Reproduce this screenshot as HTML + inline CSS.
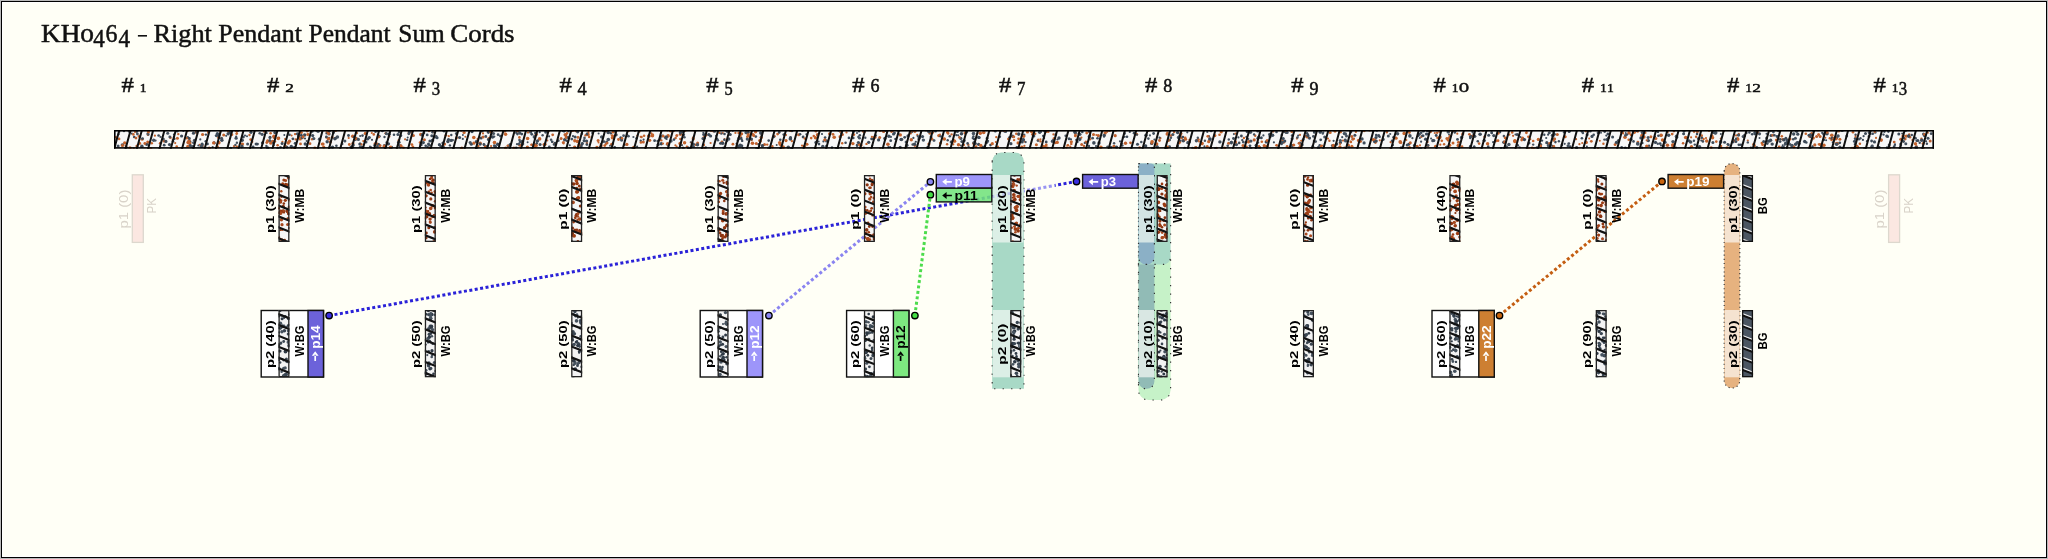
<!DOCTYPE html>
<html><head><meta charset="utf-8"><title>KH0464</title>
<style>html,body{margin:0;padding:0;background:#fffff6;width:2048px;height:559px;overflow:hidden}
svg text{white-space:pre} svg{will-change:transform}</style></head>
<body>
<svg width="2048" height="559" viewBox="0 0 2048 559" style="position:absolute;left:0;top:0">
<rect x="0" y="0" width="2048" height="559" fill="#bababa" shape-rendering="crispEdges"/>
<rect x="1" y="1" width="2046" height="557" fill="#000" shape-rendering="crispEdges"/>
<rect x="2" y="2" width="2044" height="555" fill="#fff" shape-rendering="crispEdges"/>
<rect x="3" y="3" width="2042" height="553" fill="#fffff6" shape-rendering="crispEdges"/>
<text x="41.11" y="42" font-family="Liberation Serif" font-size="25.8" textLength="39.38" lengthAdjust="spacingAndGlyphs" fill="#111" stroke="#111" stroke-width="0.5">KH</text>
<text x="80.26" y="42.2" font-family="Liberation Serif" font-size="27.2" textLength="13.68" lengthAdjust="spacingAndGlyphs" fill="#111" stroke="#111" stroke-width="0.5">o</text>
<text x="93.25" y="46.6" font-family="Liberation Serif" font-size="24.5" textLength="11.51" lengthAdjust="spacingAndGlyphs" fill="#111" stroke="#111" stroke-width="0.5">4</text>
<text x="105.57" y="42.26" font-family="Liberation Serif" font-size="24.7" textLength="11.94" lengthAdjust="spacingAndGlyphs" fill="#111" stroke="#111" stroke-width="0.5">6</text>
<text x="118.45" y="46.6" font-family="Liberation Serif" font-size="24.5" textLength="11.51" lengthAdjust="spacingAndGlyphs" fill="#111" stroke="#111" stroke-width="0.5">4</text>
<rect x="137.9" y="35" width="9.1" height="1.6" fill="#111"/>
<text x="153.44" y="42" font-family="Liberation Serif" font-size="25.8" textLength="58.41" lengthAdjust="spacingAndGlyphs" fill="#111" stroke="#111" stroke-width="0.5">Right</text>
<text x="218.35" y="42" font-family="Liberation Serif" font-size="25.8" textLength="83.50" lengthAdjust="spacingAndGlyphs" fill="#111" stroke="#111" stroke-width="0.5">Pendant</text>
<text x="308.47" y="42" font-family="Liberation Serif" font-size="25.8" textLength="82.08" lengthAdjust="spacingAndGlyphs" fill="#111" stroke="#111" stroke-width="0.5">Pendant</text>
<text x="398.30" y="42" font-family="Liberation Serif" font-size="25.8" textLength="46.49" lengthAdjust="spacingAndGlyphs" fill="#111" stroke="#111" stroke-width="0.5">Sum</text>
<text x="450.30" y="42" font-family="Liberation Serif" font-size="25.8" textLength="64.28" lengthAdjust="spacingAndGlyphs" fill="#111" stroke="#111" stroke-width="0.5">Cords</text>
<text x="121.5" y="91.7" font-family="Liberation Serif" font-size="21" textLength="12.3" lengthAdjust="spacingAndGlyphs" fill="#111" stroke="#111" stroke-width="0.5">#</text><text x="139.8" y="91.7" font-family="Liberation Serif" font-size="13.5" textLength="6.8" lengthAdjust="spacingAndGlyphs" fill="#111" stroke="#111" stroke-width="0.5">1</text>
<text x="267.0" y="91.7" font-family="Liberation Serif" font-size="21" textLength="12.3" lengthAdjust="spacingAndGlyphs" fill="#111" stroke="#111" stroke-width="0.5">#</text><text x="285.2" y="91.7" font-family="Liberation Serif" font-size="13.5" textLength="8.6" lengthAdjust="spacingAndGlyphs" fill="#111" stroke="#111" stroke-width="0.5">2</text>
<text x="413.5" y="91.7" font-family="Liberation Serif" font-size="21" textLength="12.3" lengthAdjust="spacingAndGlyphs" fill="#111" stroke="#111" stroke-width="0.5">#</text><text x="431.7" y="95.2" font-family="Liberation Serif" font-size="18" textLength="8.4" lengthAdjust="spacingAndGlyphs" fill="#111" stroke="#111" stroke-width="0.5">3</text>
<text x="559.4" y="91.7" font-family="Liberation Serif" font-size="21" textLength="12.3" lengthAdjust="spacingAndGlyphs" fill="#111" stroke="#111" stroke-width="0.5">#</text><text x="577.6" y="95.2" font-family="Liberation Serif" font-size="18" textLength="9.2" lengthAdjust="spacingAndGlyphs" fill="#111" stroke="#111" stroke-width="0.5">4</text>
<text x="706.3" y="91.7" font-family="Liberation Serif" font-size="21" textLength="12.3" lengthAdjust="spacingAndGlyphs" fill="#111" stroke="#111" stroke-width="0.5">#</text><text x="724.5" y="95.2" font-family="Liberation Serif" font-size="18" textLength="8.2" lengthAdjust="spacingAndGlyphs" fill="#111" stroke="#111" stroke-width="0.5">5</text>
<text x="852.3" y="91.7" font-family="Liberation Serif" font-size="21" textLength="12.3" lengthAdjust="spacingAndGlyphs" fill="#111" stroke="#111" stroke-width="0.5">#</text><text x="870.5" y="91.7" font-family="Liberation Serif" font-size="19" textLength="9.0" lengthAdjust="spacingAndGlyphs" fill="#111" stroke="#111" stroke-width="0.5">6</text>
<text x="998.9" y="91.7" font-family="Liberation Serif" font-size="21" textLength="12.3" lengthAdjust="spacingAndGlyphs" fill="#111" stroke="#111" stroke-width="0.5">#</text><text x="1017.1" y="95.2" font-family="Liberation Serif" font-size="18" textLength="8.4" lengthAdjust="spacingAndGlyphs" fill="#111" stroke="#111" stroke-width="0.5">7</text>
<text x="1145.0" y="91.7" font-family="Liberation Serif" font-size="21" textLength="12.3" lengthAdjust="spacingAndGlyphs" fill="#111" stroke="#111" stroke-width="0.5">#</text><text x="1163.2" y="91.7" font-family="Liberation Serif" font-size="19" textLength="9.0" lengthAdjust="spacingAndGlyphs" fill="#111" stroke="#111" stroke-width="0.5">8</text>
<text x="1291.3" y="91.7" font-family="Liberation Serif" font-size="21" textLength="12.3" lengthAdjust="spacingAndGlyphs" fill="#111" stroke="#111" stroke-width="0.5">#</text><text x="1309.5" y="95.2" font-family="Liberation Serif" font-size="18" textLength="9.0" lengthAdjust="spacingAndGlyphs" fill="#111" stroke="#111" stroke-width="0.5">9</text>
<text x="1433.6" y="91.7" font-family="Liberation Serif" font-size="21" textLength="12.3" lengthAdjust="spacingAndGlyphs" fill="#111" stroke="#111" stroke-width="0.5">#</text><text x="1451.8" y="91.7" font-family="Liberation Serif" font-size="13.5" textLength="6.8" lengthAdjust="spacingAndGlyphs" fill="#111" stroke="#111" stroke-width="0.5">1</text><text x="1458.7" y="91.7" font-family="Liberation Serif" font-size="19.5" textLength="10.4" lengthAdjust="spacingAndGlyphs" fill="#111" stroke="#111" stroke-width="0.5">o</text>
<text x="1581.7" y="91.7" font-family="Liberation Serif" font-size="21" textLength="12.3" lengthAdjust="spacingAndGlyphs" fill="#111" stroke="#111" stroke-width="0.5">#</text><text x="1599.9" y="91.7" font-family="Liberation Serif" font-size="13.5" textLength="6.8" lengthAdjust="spacingAndGlyphs" fill="#111" stroke="#111" stroke-width="0.5">1</text><text x="1606.9" y="91.7" font-family="Liberation Serif" font-size="13.5" textLength="6.8" lengthAdjust="spacingAndGlyphs" fill="#111" stroke="#111" stroke-width="0.5">1</text>
<text x="1727.1" y="91.7" font-family="Liberation Serif" font-size="21" textLength="12.3" lengthAdjust="spacingAndGlyphs" fill="#111" stroke="#111" stroke-width="0.5">#</text><text x="1745.3" y="91.7" font-family="Liberation Serif" font-size="13.5" textLength="6.8" lengthAdjust="spacingAndGlyphs" fill="#111" stroke="#111" stroke-width="0.5">1</text><text x="1752.3" y="91.7" font-family="Liberation Serif" font-size="13.5" textLength="8.6" lengthAdjust="spacingAndGlyphs" fill="#111" stroke="#111" stroke-width="0.5">2</text>
<text x="1873.6" y="91.7" font-family="Liberation Serif" font-size="21" textLength="12.3" lengthAdjust="spacingAndGlyphs" fill="#111" stroke="#111" stroke-width="0.5">#</text><text x="1891.8" y="91.7" font-family="Liberation Serif" font-size="13.5" textLength="6.8" lengthAdjust="spacingAndGlyphs" fill="#111" stroke="#111" stroke-width="0.5">1</text><text x="1898.8" y="95.2" font-family="Liberation Serif" font-size="18" textLength="8.4" lengthAdjust="spacingAndGlyphs" fill="#111" stroke="#111" stroke-width="0.5">3</text>
<line x1="329.1" y1="315.6" x2="991.0" y2="196.8" stroke="#2a22d8" stroke-width="3" stroke-dasharray="3 2.48" stroke-dashoffset="0.00" opacity="1"/>
<line x1="991.0" y1="196.8" x2="1055.0" y2="185.4" stroke="#9a96f2" stroke-width="3" stroke-dasharray="3 2.48" stroke-dashoffset="-672.47" opacity="1"/>
<line x1="1055.0" y1="185.4" x2="1076.5" y2="181.5" stroke="#2a22d8" stroke-width="3" stroke-dasharray="3 2.48" stroke-dashoffset="-737.49" opacity="1"/>
<line x1="768.9" y1="315.6" x2="930.4" y2="181.8" stroke="#8a84f0" stroke-width="3" stroke-dasharray="3 2.48" stroke-dashoffset="-0.00" opacity="1"/>
<line x1="914.9" y1="315.6" x2="930.4" y2="194.7" stroke="#4cdc4c" stroke-width="3" stroke-dasharray="3 2.48" stroke-dashoffset="-0.00" opacity="1"/>
<line x1="1499.5" y1="315.6" x2="1662.0" y2="181.4" stroke="#c45e12" stroke-width="3" stroke-dasharray="3 2.48" stroke-dashoffset="-0.00" opacity="1"/>
<path d="M992.2 161.5A9 9 0 0 1 1001.2 152.5H1014.9A9 9 0 0 1 1023.9 161.5V388.7A0.01 0.01 0 0 1 1023.9 388.7H992.2A0.01 0.01 0 0 1 992.2 388.7Z" fill="#a8d9c6" opacity="1" stroke="#333" stroke-width="1.15" stroke-dasharray="1.3 7.2"/>
<rect x="992.7" y="175.0" width="30.7" height="67.5" fill="#dcefe6"/>
<rect x="992.7" y="310.0" width="30.7" height="67.3" fill="#dcefe6"/>
<path d="M1138.5 258.0A8 8 0 0 1 1146.5 250.0H1162.6A8 8 0 0 1 1170.6 258.0V390.0A10 10 0 0 1 1160.6 400.0H1148.5A10 10 0 0 1 1138.5 390.0Z" fill="#c6f2c8" opacity="1" stroke="#333" stroke-width="1.15" stroke-dasharray="1.3 7.2"/>
<path d="M1138.5 257.0A7 7 0 0 1 1145.5 250.0H1147.4A7 7 0 0 1 1154.4 257.0V381.2A7.5 7.5 0 0 1 1146.9 388.7H1146.0A7.5 7.5 0 0 1 1138.5 381.2Z" fill="#91bbb6" opacity="1" stroke="#333" stroke-width="1.15" stroke-dasharray="1.3 7.2"/>
<path d="M1138.5 163.6A0.01 0.01 0 0 1 1138.5 163.6H1170.6A0.01 0.01 0 0 1 1170.6 163.6V256.9A7.5 7.5 0 0 1 1163.1 264.4H1138.5A0.01 0.01 0 0 1 1138.5 264.4Z" fill="#a8d9c6" opacity="1" stroke="#333" stroke-width="1.15" stroke-dasharray="1.3 7.2"/>
<path d="M1138.5 163.6A0.01 0.01 0 0 1 1138.5 163.6H1150.4A4 4 0 0 1 1154.4 167.6V256.9A7.5 7.5 0 0 1 1146.9 264.4H1146.0A7.5 7.5 0 0 1 1138.5 256.9Z" fill="#8bb0c6" opacity="1" stroke="#333" stroke-width="1.15" stroke-dasharray="1.3 7.2"/>
<rect x="1139" y="175.0" width="15" height="67.5" fill="#d3e4e4"/>
<rect x="1139" y="310.0" width="15" height="67.3" fill="#d9e7e3"/>
<path d="M1724.2 171.1A7.5 7.5 0 0 1 1731.7 163.6H1732.3A7.5 7.5 0 0 1 1739.8 171.1V380.5A7.5 7.5 0 0 1 1732.3 388.0H1731.7A7.5 7.5 0 0 1 1724.2 380.5Z" fill="#e6b27f" opacity="1" stroke="#333" stroke-width="1.15" stroke-dasharray="1.1 3.1"/>
<rect x="1724.7" y="175.0" width="14.8" height="67.5" fill="#f5e3d0"/>
<rect x="1724.7" y="310.0" width="14.8" height="67.3" fill="#f5e3d0"/>
<line x1="992.0" y1="196.7" x2="1024.0" y2="190.9" stroke="#9a96f2" stroke-width="3" stroke-dasharray="3 2.48" stroke-dashoffset="-673.49" opacity="0.45"/>
<clipPath id="k1"><rect x="114" y="130" width="1820" height="18.7"/></clipPath><g clip-path="url(#k1)"><rect x="114" y="130" width="1820" height="18.7" fill="#f7f7f7"/><circle cx="703.4" cy="132.8" r="1.1" fill="#3d4a58"/><circle cx="1089.3" cy="136.8" r="1.7" fill="#3d4a58"/><circle cx="504.8" cy="131.6" r="1.1" fill="#c0602e"/><circle cx="279.1" cy="137.9" r="1.1" fill="#46525f"/><circle cx="520.3" cy="141.7" r="1.5" fill="#3d4a58"/><circle cx="836.0" cy="148.3" r="1.4" fill="#3d4a58"/><circle cx="356.4" cy="137.8" r="1.1" fill="#46525f"/><circle cx="675.4" cy="145.3" r="1.1" fill="#c4632c"/><circle cx="1153.6" cy="133.5" r="1.4" fill="#3d4a58"/><circle cx="228.3" cy="131.1" r="1.4" fill="#c4632c"/><circle cx="1081.7" cy="144.5" r="1.5" fill="#c0602e"/><circle cx="938.8" cy="135.6" r="1.6" fill="#c4632c"/><circle cx="558.3" cy="140.7" r="1.4" fill="#46525f"/><circle cx="739.1" cy="138.4" r="1.8" fill="#46525f"/><circle cx="328.9" cy="137.8" r="1.1" fill="#3d4a58"/><circle cx="1003.9" cy="130.7" r="1.6" fill="#3d4a58"/><circle cx="1156.9" cy="146.4" r="1.3" fill="#3d4a58"/><circle cx="751.3" cy="139.3" r="1.1" fill="#c0602e"/><circle cx="284.3" cy="135.0" r="1.0" fill="#3d4a58"/><circle cx="1390.7" cy="142.1" r="1.2" fill="#c0602e"/><circle cx="816.1" cy="142.5" r="1.8" fill="#3d4a58"/><circle cx="760.9" cy="141.4" r="1.0" fill="#c0602e"/><circle cx="1512.2" cy="132.4" r="1.3" fill="#c4632c"/><circle cx="1782.6" cy="139.3" r="1.4" fill="#c4632c"/><circle cx="1114.0" cy="146.5" r="1.7" fill="#c0602e"/><circle cx="620.7" cy="137.8" r="1.5" fill="#3d4a58"/><circle cx="806.4" cy="134.3" r="1.1" fill="#3d4a58"/><circle cx="536.2" cy="134.4" r="1.7" fill="#c0602e"/><circle cx="445.9" cy="135.3" r="1.3" fill="#c4632c"/><circle cx="786.0" cy="140.6" r="1.6" fill="#c4632c"/><circle cx="1052.2" cy="141.5" r="1.4" fill="#3d4a58"/><circle cx="1699.2" cy="147.8" r="1.3" fill="#46525f"/><circle cx="840.1" cy="131.9" r="1.0" fill="#c0602e"/><circle cx="236.6" cy="133.9" r="1.1" fill="#c4632c"/><circle cx="1207.3" cy="131.9" r="1.1" fill="#46525f"/><circle cx="298.7" cy="136.8" r="1.1" fill="#3d4a58"/><circle cx="492.5" cy="137.0" r="1.8" fill="#3d4a58"/><circle cx="1210.1" cy="138.9" r="1.7" fill="#3d4a58"/><circle cx="1921.4" cy="138.7" r="1.2" fill="#c0602e"/><circle cx="376.3" cy="144.0" r="1.4" fill="#3d4a58"/><circle cx="1373.5" cy="139.7" r="1.8" fill="#c4632c"/><circle cx="1075.4" cy="132.7" r="1.7" fill="#46525f"/><circle cx="1493.8" cy="135.6" r="1.6" fill="#3d4a58"/><circle cx="589.2" cy="136.9" r="1.3" fill="#c4632c"/><circle cx="519.5" cy="140.1" r="1.3" fill="#46525f"/><circle cx="519.9" cy="145.2" r="1.6" fill="#c4632c"/><circle cx="1603.4" cy="143.8" r="1.2" fill="#c4632c"/><circle cx="1010.9" cy="143.7" r="1.6" fill="#3d4a58"/><circle cx="973.5" cy="133.6" r="1.8" fill="#46525f"/><circle cx="928.0" cy="147.5" r="1.8" fill="#3d4a58"/><circle cx="777.6" cy="134.1" r="1.4" fill="#c4632c"/><circle cx="728.7" cy="139.0" r="1.7" fill="#46525f"/><circle cx="986.6" cy="142.2" r="1.7" fill="#3d4a58"/><circle cx="332.2" cy="137.3" r="1.4" fill="#c4632c"/><circle cx="438.9" cy="144.8" r="1.1" fill="#3d4a58"/><circle cx="1836.0" cy="143.5" r="1.3" fill="#c0602e"/><circle cx="1837.2" cy="143.6" r="1.8" fill="#c4632c"/><circle cx="164.1" cy="141.0" r="1.6" fill="#c0602e"/><circle cx="380.0" cy="145.5" r="1.5" fill="#c0602e"/><circle cx="751.7" cy="140.3" r="1.0" fill="#c4632c"/><circle cx="1568.8" cy="143.6" r="1.4" fill="#3d4a58"/><circle cx="1813.2" cy="138.1" r="1.7" fill="#c4632c"/><circle cx="498.1" cy="134.7" r="1.4" fill="#3d4a58"/><circle cx="1503.9" cy="136.1" r="1.3" fill="#46525f"/><circle cx="352.6" cy="147.0" r="1.7" fill="#3d4a58"/><circle cx="1319.7" cy="145.2" r="1.3" fill="#46525f"/><circle cx="1784.3" cy="139.4" r="1.1" fill="#46525f"/><circle cx="1043.2" cy="146.3" r="1.5" fill="#c4632c"/><circle cx="1526.4" cy="132.8" r="1.4" fill="#c4632c"/><circle cx="1433.9" cy="140.4" r="1.5" fill="#3d4a58"/><circle cx="1079.9" cy="139.0" r="1.7" fill="#3d4a58"/><circle cx="217.4" cy="133.6" r="1.6" fill="#3d4a58"/><circle cx="1038.0" cy="140.5" r="1.4" fill="#3d4a58"/><circle cx="1228.8" cy="139.5" r="1.2" fill="#46525f"/><circle cx="618.5" cy="139.5" r="1.4" fill="#c0602e"/><circle cx="564.7" cy="139.8" r="1.7" fill="#3d4a58"/><circle cx="1738.8" cy="133.8" r="1.1" fill="#c0602e"/><circle cx="335.4" cy="138.3" r="1.5" fill="#3d4a58"/><circle cx="893.6" cy="134.0" r="1.6" fill="#3d4a58"/><circle cx="1746.6" cy="132.9" r="1.1" fill="#3d4a58"/><circle cx="1720.8" cy="148.1" r="1.6" fill="#c4632c"/><circle cx="285.3" cy="146.5" r="1.8" fill="#c4632c"/><circle cx="1629.0" cy="133.0" r="1.8" fill="#c0602e"/><circle cx="848.9" cy="137.9" r="1.3" fill="#3d4a58"/><circle cx="1428.3" cy="130.4" r="1.4" fill="#46525f"/><circle cx="1393.7" cy="137.2" r="1.5" fill="#46525f"/><circle cx="1046.3" cy="131.2" r="1.8" fill="#c4632c"/><circle cx="304.7" cy="135.0" r="1.7" fill="#3d4a58"/><circle cx="444.4" cy="144.1" r="1.7" fill="#c0602e"/><circle cx="1344.3" cy="147.7" r="1.1" fill="#c0602e"/><circle cx="1786.9" cy="140.7" r="1.1" fill="#3d4a58"/><circle cx="218.7" cy="142.9" r="1.7" fill="#c0602e"/><circle cx="603.4" cy="130.3" r="1.6" fill="#3d4a58"/><circle cx="266.4" cy="146.0" r="1.2" fill="#3d4a58"/><circle cx="335.5" cy="130.2" r="1.3" fill="#46525f"/><circle cx="1780.1" cy="141.6" r="1.4" fill="#3d4a58"/><circle cx="548.0" cy="132.0" r="1.2" fill="#c4632c"/><circle cx="443.7" cy="147.4" r="1.4" fill="#3d4a58"/><circle cx="488.7" cy="138.3" r="1.2" fill="#c4632c"/><circle cx="1576.7" cy="148.6" r="1.0" fill="#3d4a58"/><circle cx="1448.2" cy="140.3" r="1.4" fill="#c4632c"/><circle cx="561.1" cy="138.4" r="1.5" fill="#c0602e"/><circle cx="1107.5" cy="146.6" r="1.2" fill="#46525f"/><circle cx="505.6" cy="134.3" r="1.7" fill="#c4632c"/><circle cx="1400.2" cy="141.9" r="1.8" fill="#c0602e"/><circle cx="1901.0" cy="145.7" r="1.1" fill="#3d4a58"/><circle cx="1462.4" cy="134.8" r="1.0" fill="#c4632c"/><circle cx="1324.7" cy="137.1" r="1.5" fill="#46525f"/><circle cx="627.1" cy="134.5" r="1.0" fill="#3d4a58"/><circle cx="451.3" cy="135.0" r="1.2" fill="#3d4a58"/><circle cx="1864.5" cy="148.2" r="1.3" fill="#46525f"/><circle cx="176.7" cy="146.5" r="1.3" fill="#c4632c"/><circle cx="115.9" cy="137.1" r="1.2" fill="#c0602e"/><circle cx="1308.0" cy="134.6" r="1.1" fill="#3d4a58"/><circle cx="1601.0" cy="132.7" r="1.0" fill="#46525f"/><circle cx="154.9" cy="135.7" r="1.1" fill="#c4632c"/><circle cx="1856.9" cy="146.0" r="1.5" fill="#c4632c"/><circle cx="1417.1" cy="146.4" r="1.6" fill="#c0602e"/><circle cx="1425.6" cy="139.2" r="1.6" fill="#3d4a58"/><circle cx="1284.7" cy="130.8" r="1.5" fill="#46525f"/><circle cx="1449.6" cy="145.2" r="1.7" fill="#c4632c"/><circle cx="1484.2" cy="140.6" r="1.7" fill="#3d4a58"/><circle cx="1177.0" cy="146.7" r="1.1" fill="#c4632c"/><circle cx="190.2" cy="141.9" r="1.3" fill="#3d4a58"/><circle cx="935.5" cy="130.9" r="1.5" fill="#3d4a58"/><circle cx="1352.8" cy="139.1" r="1.4" fill="#3d4a58"/><circle cx="241.6" cy="147.4" r="1.1" fill="#46525f"/><circle cx="1071.3" cy="143.9" r="1.2" fill="#c0602e"/><circle cx="249.5" cy="135.0" r="1.2" fill="#c4632c"/><circle cx="1296.9" cy="138.6" r="1.1" fill="#c0602e"/><circle cx="1771.0" cy="135.4" r="1.5" fill="#3d4a58"/><circle cx="1283.8" cy="131.4" r="1.3" fill="#c4632c"/><circle cx="1299.8" cy="143.0" r="1.5" fill="#46525f"/><circle cx="136.7" cy="131.1" r="1.8" fill="#3d4a58"/><circle cx="295.1" cy="134.1" r="1.2" fill="#c0602e"/><circle cx="1054.1" cy="138.7" r="1.6" fill="#c0602e"/><circle cx="1921.8" cy="140.3" r="1.8" fill="#3d4a58"/><circle cx="1818.0" cy="130.3" r="1.1" fill="#c0602e"/><circle cx="1036.0" cy="148.6" r="1.3" fill="#3d4a58"/><circle cx="1782.1" cy="147.4" r="1.5" fill="#3d4a58"/><circle cx="372.0" cy="139.8" r="1.1" fill="#3d4a58"/><circle cx="1606.8" cy="139.5" r="1.6" fill="#3d4a58"/><circle cx="535.1" cy="146.8" r="1.3" fill="#c0602e"/><circle cx="403.5" cy="147.8" r="1.3" fill="#c0602e"/><circle cx="1437.5" cy="137.8" r="1.3" fill="#c0602e"/><circle cx="1643.2" cy="130.0" r="1.7" fill="#3d4a58"/><circle cx="332.5" cy="147.3" r="1.7" fill="#3d4a58"/><circle cx="641.5" cy="137.0" r="1.3" fill="#c0602e"/><circle cx="1697.3" cy="131.4" r="1.6" fill="#c0602e"/><circle cx="1668.7" cy="135.2" r="1.7" fill="#3d4a58"/><circle cx="633.8" cy="147.5" r="1.8" fill="#c4632c"/><circle cx="908.0" cy="135.9" r="1.6" fill="#3d4a58"/><circle cx="892.5" cy="130.5" r="1.7" fill="#c0602e"/><circle cx="1826.1" cy="140.3" r="1.0" fill="#3d4a58"/><circle cx="1446.9" cy="138.4" r="1.5" fill="#c4632c"/><circle cx="634.9" cy="130.9" r="1.1" fill="#46525f"/><circle cx="973.4" cy="136.4" r="1.2" fill="#3d4a58"/><circle cx="1458.5" cy="142.2" r="1.5" fill="#c0602e"/><circle cx="661.5" cy="140.4" r="1.1" fill="#c0602e"/><circle cx="1284.6" cy="131.4" r="1.7" fill="#46525f"/><circle cx="1018.7" cy="134.1" r="1.8" fill="#3d4a58"/><circle cx="932.9" cy="132.6" r="1.2" fill="#c4632c"/><circle cx="431.9" cy="140.4" r="1.2" fill="#3d4a58"/><circle cx="584.2" cy="140.7" r="1.6" fill="#3d4a58"/><circle cx="865.3" cy="137.7" r="1.2" fill="#46525f"/><circle cx="605.8" cy="144.1" r="1.2" fill="#c0602e"/><circle cx="1875.2" cy="132.4" r="1.4" fill="#46525f"/><circle cx="1552.4" cy="145.9" r="1.2" fill="#3d4a58"/><circle cx="566.2" cy="137.5" r="1.3" fill="#c0602e"/><circle cx="681.9" cy="145.2" r="1.1" fill="#3d4a58"/><circle cx="887.9" cy="144.3" r="1.8" fill="#c0602e"/><circle cx="1005.5" cy="131.4" r="1.7" fill="#46525f"/><circle cx="1883.5" cy="134.6" r="1.2" fill="#3d4a58"/><circle cx="390.8" cy="148.2" r="1.8" fill="#3d4a58"/><circle cx="1427.6" cy="142.1" r="1.1" fill="#c0602e"/><circle cx="1527.9" cy="130.0" r="1.2" fill="#c4632c"/><circle cx="1788.3" cy="142.1" r="1.8" fill="#3d4a58"/><circle cx="1254.2" cy="139.9" r="1.6" fill="#c0602e"/><circle cx="318.1" cy="131.3" r="1.8" fill="#46525f"/><circle cx="462.9" cy="134.9" r="1.0" fill="#46525f"/><circle cx="1092.2" cy="148.6" r="1.8" fill="#3d4a58"/><circle cx="1287.1" cy="146.5" r="1.4" fill="#c0602e"/><circle cx="1109.5" cy="130.5" r="1.6" fill="#c0602e"/><circle cx="673.5" cy="130.4" r="1.7" fill="#c0602e"/><circle cx="1291.8" cy="131.5" r="1.5" fill="#c4632c"/><circle cx="1797.8" cy="134.2" r="1.6" fill="#3d4a58"/><circle cx="1421.4" cy="136.8" r="1.2" fill="#c0602e"/><circle cx="1564.7" cy="143.8" r="1.1" fill="#46525f"/><circle cx="1016.2" cy="133.7" r="1.2" fill="#c4632c"/><circle cx="517.0" cy="144.2" r="1.1" fill="#3d4a58"/><circle cx="1248.9" cy="141.4" r="1.4" fill="#c4632c"/><circle cx="1770.9" cy="131.1" r="1.1" fill="#46525f"/><circle cx="830.1" cy="134.0" r="1.1" fill="#46525f"/><circle cx="208.3" cy="131.1" r="1.4" fill="#c0602e"/><circle cx="1409.9" cy="135.9" r="1.8" fill="#3d4a58"/><circle cx="1809.5" cy="136.2" r="1.5" fill="#c4632c"/><circle cx="1069.1" cy="138.7" r="1.5" fill="#3d4a58"/><circle cx="803.1" cy="137.0" r="1.4" fill="#3d4a58"/><circle cx="312.3" cy="131.5" r="1.3" fill="#3d4a58"/><circle cx="1853.0" cy="132.3" r="1.3" fill="#c4632c"/><circle cx="1513.1" cy="135.8" r="1.1" fill="#c0602e"/><circle cx="1397.6" cy="133.7" r="1.7" fill="#46525f"/><circle cx="465.3" cy="136.8" r="1.0" fill="#c0602e"/><circle cx="861.7" cy="145.2" r="1.0" fill="#c0602e"/><circle cx="177.4" cy="131.2" r="1.2" fill="#3d4a58"/><circle cx="1474.1" cy="146.8" r="1.3" fill="#3d4a58"/><circle cx="723.6" cy="147.8" r="1.2" fill="#3d4a58"/><circle cx="1418.3" cy="135.9" r="1.2" fill="#3d4a58"/><circle cx="1427.3" cy="141.1" r="1.0" fill="#3d4a58"/><circle cx="539.6" cy="138.9" r="1.8" fill="#c0602e"/><circle cx="817.5" cy="134.7" r="1.7" fill="#c0602e"/><circle cx="355.5" cy="139.3" r="1.6" fill="#3d4a58"/><circle cx="1458.0" cy="145.4" r="1.5" fill="#c4632c"/><circle cx="710.6" cy="136.0" r="1.6" fill="#3d4a58"/><circle cx="1198.2" cy="139.6" r="1.6" fill="#c0602e"/><circle cx="564.1" cy="131.2" r="1.4" fill="#3d4a58"/><circle cx="1105.2" cy="133.0" r="1.7" fill="#c0602e"/><circle cx="1911.8" cy="135.0" r="1.2" fill="#3d4a58"/><circle cx="880.3" cy="148.5" r="1.1" fill="#c0602e"/><circle cx="355.9" cy="138.6" r="1.6" fill="#c4632c"/><circle cx="1655.5" cy="142.4" r="1.6" fill="#3d4a58"/><circle cx="648.9" cy="135.2" r="1.3" fill="#3d4a58"/><circle cx="1457.3" cy="133.7" r="1.1" fill="#c4632c"/><circle cx="542.6" cy="135.3" r="1.2" fill="#46525f"/><circle cx="231.9" cy="134.7" r="1.4" fill="#c4632c"/><circle cx="535.1" cy="145.1" r="1.8" fill="#c0602e"/><circle cx="300.2" cy="138.9" r="1.7" fill="#c4632c"/><circle cx="1778.2" cy="130.8" r="1.2" fill="#3d4a58"/><circle cx="205.7" cy="141.2" r="1.2" fill="#46525f"/><circle cx="250.7" cy="139.6" r="1.4" fill="#c4632c"/><circle cx="587.1" cy="144.5" r="1.1" fill="#3d4a58"/><circle cx="1199.0" cy="141.6" r="1.0" fill="#c4632c"/><circle cx="732.8" cy="130.8" r="1.0" fill="#3d4a58"/><circle cx="1446.7" cy="147.1" r="1.7" fill="#3d4a58"/><circle cx="858.4" cy="137.0" r="1.2" fill="#46525f"/><circle cx="484.2" cy="144.9" r="1.4" fill="#46525f"/><circle cx="856.9" cy="144.9" r="1.1" fill="#46525f"/><circle cx="1085.9" cy="142.2" r="1.6" fill="#c0602e"/><circle cx="859.8" cy="135.3" r="1.3" fill="#3d4a58"/><circle cx="207.5" cy="143.9" r="1.3" fill="#3d4a58"/><circle cx="147.1" cy="144.3" r="1.5" fill="#3d4a58"/><circle cx="825.1" cy="137.6" r="1.3" fill="#3d4a58"/><circle cx="399.0" cy="132.1" r="1.3" fill="#3d4a58"/><circle cx="1720.8" cy="138.6" r="1.1" fill="#c4632c"/><circle cx="208.1" cy="132.7" r="1.1" fill="#c0602e"/><circle cx="1246.4" cy="136.9" r="1.1" fill="#46525f"/><circle cx="747.3" cy="133.0" r="1.7" fill="#c4632c"/><circle cx="312.0" cy="139.2" r="1.2" fill="#c4632c"/><circle cx="1637.9" cy="130.8" r="1.3" fill="#c0602e"/><circle cx="1219.9" cy="141.9" r="1.7" fill="#3d4a58"/><circle cx="1243.0" cy="145.4" r="1.5" fill="#c4632c"/><circle cx="1673.0" cy="141.6" r="1.7" fill="#46525f"/><circle cx="1623.1" cy="133.4" r="1.0" fill="#c4632c"/><circle cx="1822.2" cy="132.9" r="1.1" fill="#3d4a58"/><circle cx="563.6" cy="143.6" r="1.0" fill="#c4632c"/><circle cx="1137.5" cy="144.2" r="1.5" fill="#3d4a58"/><circle cx="704.0" cy="137.3" r="1.4" fill="#c0602e"/><circle cx="1255.2" cy="135.7" r="1.2" fill="#c0602e"/><circle cx="567.7" cy="137.3" r="1.4" fill="#3d4a58"/><circle cx="911.8" cy="130.4" r="1.8" fill="#46525f"/><circle cx="960.8" cy="138.4" r="1.6" fill="#46525f"/><circle cx="948.1" cy="133.4" r="1.3" fill="#c0602e"/><circle cx="236.2" cy="136.7" r="1.1" fill="#3d4a58"/><circle cx="918.4" cy="139.5" r="1.0" fill="#3d4a58"/><circle cx="351.1" cy="147.2" r="1.6" fill="#3d4a58"/><circle cx="1044.9" cy="131.0" r="1.7" fill="#46525f"/><circle cx="1302.0" cy="144.7" r="1.7" fill="#3d4a58"/><circle cx="1926.9" cy="143.7" r="1.2" fill="#3d4a58"/><circle cx="1900.7" cy="139.2" r="1.5" fill="#c4632c"/><circle cx="1426.4" cy="134.1" r="1.5" fill="#3d4a58"/><circle cx="573.0" cy="136.1" r="1.2" fill="#46525f"/><circle cx="1598.4" cy="132.7" r="1.8" fill="#46525f"/><circle cx="987.8" cy="141.1" r="1.4" fill="#46525f"/><circle cx="694.7" cy="130.7" r="1.3" fill="#c4632c"/><circle cx="1272.6" cy="135.2" r="1.7" fill="#3d4a58"/><circle cx="421.1" cy="144.7" r="1.6" fill="#3d4a58"/><circle cx="202.4" cy="146.1" r="1.4" fill="#c0602e"/><circle cx="1169.7" cy="146.5" r="1.2" fill="#3d4a58"/><circle cx="1089.0" cy="146.0" r="1.2" fill="#3d4a58"/><circle cx="1916.7" cy="140.8" r="1.3" fill="#3d4a58"/><circle cx="262.1" cy="134.3" r="1.6" fill="#46525f"/><circle cx="201.9" cy="145.3" r="1.2" fill="#3d4a58"/><circle cx="1872.0" cy="146.3" r="1.6" fill="#3d4a58"/><circle cx="1473.8" cy="134.1" r="1.5" fill="#3d4a58"/><circle cx="900.7" cy="139.6" r="1.1" fill="#3d4a58"/><circle cx="527.6" cy="142.2" r="1.0" fill="#3d4a58"/><circle cx="1146.2" cy="135.7" r="1.3" fill="#46525f"/><circle cx="522.2" cy="140.9" r="1.1" fill="#46525f"/><circle cx="780.5" cy="145.5" r="1.1" fill="#c4632c"/><circle cx="1818.6" cy="134.6" r="1.4" fill="#c4632c"/><circle cx="229.9" cy="132.7" r="1.3" fill="#3d4a58"/><circle cx="594.9" cy="130.2" r="1.7" fill="#46525f"/><circle cx="1196.4" cy="140.8" r="1.7" fill="#46525f"/><circle cx="1449.0" cy="134.6" r="1.0" fill="#3d4a58"/><circle cx="1081.4" cy="137.6" r="1.1" fill="#c4632c"/><circle cx="1773.4" cy="132.0" r="1.4" fill="#46525f"/><circle cx="1826.5" cy="132.7" r="1.4" fill="#c4632c"/><circle cx="1283.7" cy="142.1" r="1.7" fill="#c0602e"/><circle cx="431.8" cy="135.8" r="1.5" fill="#3d4a58"/><circle cx="1923.2" cy="143.5" r="1.6" fill="#c0602e"/><circle cx="125.6" cy="145.8" r="1.1" fill="#c0602e"/><circle cx="1307.1" cy="133.3" r="1.2" fill="#3d4a58"/><circle cx="1286.1" cy="132.3" r="1.6" fill="#3d4a58"/><circle cx="598.1" cy="140.4" r="1.5" fill="#c0602e"/><circle cx="1783.4" cy="148.2" r="1.5" fill="#3d4a58"/><circle cx="1870.6" cy="134.1" r="1.0" fill="#46525f"/><circle cx="587.9" cy="134.4" r="1.8" fill="#c4632c"/><circle cx="1472.0" cy="136.1" r="1.3" fill="#c0602e"/><circle cx="549.3" cy="147.0" r="1.4" fill="#46525f"/><circle cx="1642.3" cy="143.0" r="1.3" fill="#3d4a58"/><circle cx="1432.8" cy="140.7" r="1.6" fill="#3d4a58"/><circle cx="826.6" cy="140.9" r="1.7" fill="#46525f"/><circle cx="377.2" cy="130.5" r="1.5" fill="#3d4a58"/><circle cx="408.5" cy="148.3" r="1.0" fill="#3d4a58"/><circle cx="365.9" cy="142.0" r="1.6" fill="#3d4a58"/><circle cx="1454.9" cy="131.2" r="1.6" fill="#46525f"/><circle cx="476.7" cy="147.9" r="1.7" fill="#46525f"/><circle cx="234.0" cy="146.2" r="1.1" fill="#c0602e"/><circle cx="488.4" cy="132.1" r="1.8" fill="#3d4a58"/><circle cx="1772.2" cy="144.1" r="1.7" fill="#3d4a58"/><circle cx="1263.4" cy="135.4" r="1.1" fill="#3d4a58"/><circle cx="1555.4" cy="142.1" r="1.3" fill="#3d4a58"/><circle cx="885.3" cy="130.4" r="1.7" fill="#3d4a58"/><circle cx="202.1" cy="144.2" r="1.6" fill="#3d4a58"/><circle cx="1209.7" cy="138.9" r="1.5" fill="#3d4a58"/><circle cx="170.4" cy="137.7" r="1.4" fill="#c0602e"/><circle cx="292.9" cy="138.8" r="1.4" fill="#3d4a58"/><circle cx="508.2" cy="146.1" r="1.5" fill="#3d4a58"/><circle cx="636.5" cy="138.2" r="1.2" fill="#46525f"/><circle cx="1501.2" cy="148.3" r="1.3" fill="#3d4a58"/><circle cx="288.2" cy="143.0" r="1.8" fill="#c4632c"/><circle cx="1192.4" cy="147.9" r="1.2" fill="#46525f"/><circle cx="1831.8" cy="135.3" r="1.8" fill="#c4632c"/><circle cx="535.4" cy="133.1" r="1.4" fill="#3d4a58"/><circle cx="1917.8" cy="140.5" r="1.5" fill="#3d4a58"/><circle cx="761.2" cy="137.5" r="1.7" fill="#c0602e"/><circle cx="1470.3" cy="137.9" r="1.3" fill="#3d4a58"/><circle cx="665.7" cy="138.0" r="1.4" fill="#46525f"/><circle cx="804.3" cy="146.5" r="1.8" fill="#c4632c"/><circle cx="344.9" cy="141.1" r="1.5" fill="#46525f"/><circle cx="748.2" cy="136.1" r="1.7" fill="#c4632c"/><circle cx="933.6" cy="140.4" r="1.1" fill="#3d4a58"/><circle cx="912.6" cy="144.5" r="1.2" fill="#46525f"/><circle cx="722.0" cy="142.0" r="1.4" fill="#c4632c"/><circle cx="600.8" cy="144.1" r="1.1" fill="#46525f"/><circle cx="397.9" cy="134.6" r="1.5" fill="#3d4a58"/><circle cx="748.5" cy="134.4" r="1.2" fill="#c4632c"/><circle cx="1852.0" cy="148.6" r="1.8" fill="#c4632c"/><circle cx="299.0" cy="137.2" r="1.6" fill="#c4632c"/><circle cx="1448.6" cy="138.1" r="1.1" fill="#c4632c"/><circle cx="1772.8" cy="135.3" r="1.4" fill="#c0602e"/><circle cx="137.0" cy="146.0" r="1.6" fill="#c0602e"/><circle cx="1024.9" cy="141.8" r="1.0" fill="#c0602e"/><circle cx="582.1" cy="143.8" r="1.6" fill="#3d4a58"/><circle cx="1766.6" cy="138.0" r="1.5" fill="#46525f"/><circle cx="1291.9" cy="145.8" r="1.7" fill="#46525f"/><circle cx="1350.9" cy="142.0" r="1.3" fill="#c0602e"/><circle cx="586.9" cy="143.1" r="1.2" fill="#c0602e"/><circle cx="842.2" cy="143.3" r="1.2" fill="#c4632c"/><circle cx="884.9" cy="138.5" r="1.7" fill="#46525f"/><circle cx="1057.2" cy="142.4" r="1.7" fill="#c4632c"/><circle cx="711.1" cy="130.2" r="1.7" fill="#c0602e"/><circle cx="307.6" cy="134.7" r="1.1" fill="#c4632c"/><circle cx="1536.9" cy="147.6" r="1.3" fill="#46525f"/><circle cx="1655.8" cy="138.5" r="1.6" fill="#c4632c"/><circle cx="1046.2" cy="142.0" r="1.4" fill="#3d4a58"/><circle cx="860.8" cy="147.7" r="1.8" fill="#c4632c"/><circle cx="448.5" cy="139.6" r="1.6" fill="#3d4a58"/><circle cx="1231.5" cy="141.9" r="1.2" fill="#3d4a58"/><circle cx="841.4" cy="130.2" r="1.7" fill="#c0602e"/><circle cx="1258.0" cy="142.6" r="1.2" fill="#46525f"/><circle cx="522.5" cy="143.9" r="1.8" fill="#46525f"/><circle cx="1923.5" cy="148.0" r="1.2" fill="#c0602e"/><circle cx="349.3" cy="144.5" r="1.4" fill="#c4632c"/><circle cx="1136.9" cy="134.2" r="1.3" fill="#c4632c"/><circle cx="1276.6" cy="145.3" r="1.4" fill="#c0602e"/><circle cx="649.7" cy="140.3" r="1.6" fill="#c4632c"/><circle cx="968.3" cy="144.7" r="1.2" fill="#c4632c"/><circle cx="798.6" cy="134.7" r="1.5" fill="#c0602e"/><circle cx="990.5" cy="145.1" r="1.3" fill="#3d4a58"/><circle cx="1305.0" cy="136.0" r="1.3" fill="#c0602e"/><circle cx="1273.9" cy="142.3" r="1.1" fill="#3d4a58"/><circle cx="665.8" cy="137.2" r="1.7" fill="#3d4a58"/><circle cx="1762.6" cy="144.7" r="1.4" fill="#c4632c"/><circle cx="742.2" cy="140.9" r="1.2" fill="#3d4a58"/><circle cx="245.0" cy="135.5" r="1.1" fill="#46525f"/><circle cx="373.8" cy="134.4" r="1.3" fill="#c0602e"/><circle cx="391.9" cy="146.9" r="1.1" fill="#46525f"/><circle cx="1735.9" cy="141.4" r="1.5" fill="#3d4a58"/><circle cx="1740.9" cy="144.7" r="1.2" fill="#3d4a58"/><circle cx="1374.9" cy="139.9" r="1.5" fill="#c0602e"/><circle cx="326.9" cy="132.2" r="1.2" fill="#c0602e"/><circle cx="367.6" cy="139.2" r="1.4" fill="#3d4a58"/><circle cx="1761.9" cy="143.1" r="1.4" fill="#c4632c"/><circle cx="1096.0" cy="146.1" r="1.1" fill="#3d4a58"/><circle cx="697.6" cy="143.0" r="1.5" fill="#c0602e"/><circle cx="1643.8" cy="137.0" r="1.8" fill="#c0602e"/><circle cx="1344.2" cy="133.4" r="1.5" fill="#3d4a58"/><circle cx="165.9" cy="141.4" r="1.6" fill="#3d4a58"/><circle cx="285.0" cy="139.1" r="1.0" fill="#c4632c"/><circle cx="1421.1" cy="141.7" r="1.1" fill="#3d4a58"/><circle cx="1313.4" cy="136.4" r="1.4" fill="#46525f"/><circle cx="1774.4" cy="135.3" r="1.3" fill="#3d4a58"/><circle cx="1122.3" cy="145.5" r="1.3" fill="#3d4a58"/><circle cx="1012.6" cy="136.2" r="1.7" fill="#3d4a58"/><circle cx="741.6" cy="133.8" r="1.6" fill="#c0602e"/><circle cx="716.2" cy="135.9" r="1.1" fill="#3d4a58"/><circle cx="1884.4" cy="131.6" r="1.3" fill="#3d4a58"/><circle cx="1122.8" cy="137.6" r="1.0" fill="#46525f"/><circle cx="660.7" cy="130.1" r="1.7" fill="#c4632c"/><circle cx="978.6" cy="144.3" r="1.6" fill="#3d4a58"/><circle cx="1769.9" cy="141.4" r="1.1" fill="#46525f"/><circle cx="1340.1" cy="142.9" r="1.2" fill="#3d4a58"/><circle cx="1327.9" cy="138.6" r="1.1" fill="#c4632c"/><circle cx="444.0" cy="130.7" r="1.7" fill="#3d4a58"/><circle cx="1307.4" cy="136.9" r="1.6" fill="#c4632c"/><circle cx="1137.0" cy="134.8" r="1.1" fill="#3d4a58"/><circle cx="176.3" cy="130.4" r="1.5" fill="#46525f"/><circle cx="1813.6" cy="131.0" r="1.4" fill="#46525f"/><circle cx="1615.1" cy="144.5" r="1.5" fill="#c0602e"/><circle cx="1785.9" cy="138.3" r="1.5" fill="#3d4a58"/><circle cx="1194.8" cy="148.6" r="1.4" fill="#c4632c"/><circle cx="864.6" cy="131.9" r="1.2" fill="#c0602e"/><circle cx="390.2" cy="130.3" r="1.0" fill="#3d4a58"/><circle cx="1332.2" cy="148.5" r="1.2" fill="#3d4a58"/><circle cx="334.9" cy="138.8" r="1.6" fill="#3d4a58"/><circle cx="554.9" cy="143.7" r="1.7" fill="#c4632c"/><circle cx="779.9" cy="144.0" r="1.6" fill="#c4632c"/><circle cx="267.4" cy="141.8" r="1.4" fill="#c0602e"/><circle cx="1810.9" cy="134.8" r="1.6" fill="#3d4a58"/><circle cx="134.7" cy="130.3" r="1.1" fill="#46525f"/><circle cx="680.1" cy="143.6" r="1.8" fill="#c4632c"/><circle cx="1633.5" cy="141.4" r="1.3" fill="#3d4a58"/><circle cx="1160.4" cy="138.2" r="1.1" fill="#c4632c"/><circle cx="1565.2" cy="136.8" r="1.5" fill="#c4632c"/><circle cx="874.7" cy="137.2" r="1.8" fill="#c0602e"/><circle cx="1542.0" cy="140.6" r="1.2" fill="#3d4a58"/><circle cx="1245.8" cy="142.2" r="1.3" fill="#46525f"/><circle cx="1216.6" cy="148.3" r="1.5" fill="#c4632c"/><circle cx="675.6" cy="138.0" r="1.3" fill="#c4632c"/><circle cx="1360.4" cy="141.3" r="1.6" fill="#c4632c"/><circle cx="629.6" cy="130.0" r="1.2" fill="#3d4a58"/><circle cx="400.3" cy="147.2" r="1.2" fill="#3d4a58"/><circle cx="370.0" cy="146.7" r="1.1" fill="#46525f"/><circle cx="1889.2" cy="144.9" r="1.5" fill="#46525f"/><circle cx="1777.0" cy="136.5" r="1.4" fill="#3d4a58"/><circle cx="996.3" cy="137.1" r="1.2" fill="#c4632c"/><circle cx="218.8" cy="137.4" r="1.7" fill="#c4632c"/><circle cx="1181.2" cy="130.2" r="1.4" fill="#c0602e"/><circle cx="273.6" cy="145.1" r="1.2" fill="#3d4a58"/><circle cx="1168.9" cy="146.8" r="1.3" fill="#46525f"/><circle cx="1035.2" cy="133.8" r="1.2" fill="#c4632c"/><circle cx="442.9" cy="143.1" r="1.5" fill="#3d4a58"/><circle cx="767.2" cy="144.6" r="1.2" fill="#c4632c"/><circle cx="1793.2" cy="139.2" r="1.3" fill="#3d4a58"/><circle cx="957.4" cy="131.5" r="1.5" fill="#3d4a58"/><circle cx="741.8" cy="139.7" r="1.1" fill="#3d4a58"/><circle cx="486.5" cy="146.3" r="1.4" fill="#46525f"/><circle cx="1146.3" cy="134.9" r="1.3" fill="#3d4a58"/><circle cx="1836.6" cy="144.3" r="1.8" fill="#46525f"/><circle cx="576.3" cy="130.7" r="1.8" fill="#c4632c"/><circle cx="802.3" cy="130.5" r="1.4" fill="#3d4a58"/><circle cx="1698.6" cy="138.6" r="1.7" fill="#3d4a58"/><circle cx="1278.5" cy="147.2" r="1.2" fill="#3d4a58"/><circle cx="1141.3" cy="142.0" r="1.3" fill="#46525f"/><circle cx="930.0" cy="133.0" r="1.8" fill="#c4632c"/><circle cx="517.5" cy="130.7" r="1.8" fill="#3d4a58"/><circle cx="221.9" cy="140.3" r="1.7" fill="#3d4a58"/><circle cx="199.6" cy="144.7" r="1.0" fill="#c0602e"/><circle cx="377.5" cy="144.1" r="1.5" fill="#c4632c"/><circle cx="657.8" cy="141.1" r="1.4" fill="#3d4a58"/><circle cx="790.5" cy="137.3" r="1.4" fill="#3d4a58"/><circle cx="420.8" cy="134.5" r="1.7" fill="#c4632c"/><circle cx="1737.7" cy="138.7" r="1.6" fill="#c4632c"/><circle cx="399.7" cy="145.6" r="1.7" fill="#3d4a58"/><circle cx="1691.5" cy="146.6" r="1.6" fill="#c4632c"/><circle cx="1857.5" cy="147.3" r="1.7" fill="#c0602e"/><circle cx="1257.6" cy="138.5" r="1.3" fill="#3d4a58"/><circle cx="539.7" cy="132.2" r="1.1" fill="#3d4a58"/><circle cx="517.4" cy="131.1" r="1.4" fill="#c0602e"/><circle cx="377.4" cy="146.3" r="1.3" fill="#3d4a58"/><circle cx="563.1" cy="130.5" r="1.7" fill="#46525f"/><circle cx="722.8" cy="133.1" r="1.1" fill="#c0602e"/><circle cx="944.3" cy="139.0" r="1.8" fill="#c4632c"/><circle cx="217.5" cy="146.7" r="1.4" fill="#c4632c"/><circle cx="1634.2" cy="132.2" r="1.8" fill="#c4632c"/><circle cx="900.3" cy="134.9" r="1.7" fill="#c4632c"/><circle cx="291.6" cy="135.4" r="1.0" fill="#c4632c"/><circle cx="1436.2" cy="135.5" r="1.4" fill="#3d4a58"/><circle cx="1038.2" cy="139.6" r="1.0" fill="#c0602e"/><circle cx="1628.7" cy="139.8" r="1.3" fill="#c4632c"/><circle cx="187.8" cy="137.6" r="1.5" fill="#3d4a58"/><circle cx="365.3" cy="133.4" r="1.6" fill="#c4632c"/><circle cx="472.0" cy="131.5" r="1.7" fill="#3d4a58"/><circle cx="1444.1" cy="144.2" r="1.2" fill="#c4632c"/><circle cx="1228.6" cy="143.2" r="1.5" fill="#c4632c"/><circle cx="482.2" cy="131.2" r="1.3" fill="#46525f"/><circle cx="1427.4" cy="131.0" r="1.3" fill="#3d4a58"/><circle cx="1646.3" cy="146.2" r="1.1" fill="#c0602e"/><circle cx="859.3" cy="144.3" r="1.7" fill="#c4632c"/><circle cx="598.6" cy="133.5" r="1.0" fill="#3d4a58"/><circle cx="1392.1" cy="140.8" r="1.3" fill="#3d4a58"/><circle cx="1810.5" cy="148.1" r="1.1" fill="#3d4a58"/><circle cx="1414.6" cy="145.3" r="1.6" fill="#3d4a58"/><circle cx="1693.9" cy="140.8" r="1.2" fill="#3d4a58"/><circle cx="310.0" cy="143.7" r="1.4" fill="#c0602e"/><circle cx="1079.5" cy="140.0" r="1.2" fill="#3d4a58"/><circle cx="275.2" cy="141.6" r="1.1" fill="#c4632c"/><circle cx="569.8" cy="145.3" r="1.0" fill="#3d4a58"/><circle cx="1799.9" cy="143.8" r="1.0" fill="#3d4a58"/><circle cx="1204.9" cy="140.8" r="1.2" fill="#46525f"/><circle cx="922.5" cy="136.6" r="1.6" fill="#3d4a58"/><circle cx="196.2" cy="132.3" r="1.5" fill="#c0602e"/><circle cx="1500.0" cy="132.1" r="1.3" fill="#3d4a58"/><circle cx="363.3" cy="141.1" r="1.1" fill="#c4632c"/><circle cx="1156.6" cy="144.0" r="1.8" fill="#c4632c"/><circle cx="147.7" cy="141.9" r="1.5" fill="#c0602e"/><circle cx="1211.1" cy="130.7" r="1.6" fill="#3d4a58"/><circle cx="730.2" cy="134.5" r="1.6" fill="#3d4a58"/><circle cx="1648.3" cy="140.6" r="1.7" fill="#3d4a58"/><circle cx="1656.7" cy="131.0" r="1.1" fill="#46525f"/><circle cx="1351.9" cy="136.6" r="1.5" fill="#c0602e"/><circle cx="135.0" cy="132.0" r="1.1" fill="#c4632c"/><circle cx="902.1" cy="139.4" r="1.2" fill="#3d4a58"/><circle cx="879.7" cy="137.4" r="1.5" fill="#c0602e"/><circle cx="1586.9" cy="146.5" r="1.0" fill="#3d4a58"/><circle cx="1281.7" cy="135.0" r="1.2" fill="#46525f"/><circle cx="1100.9" cy="147.3" r="1.1" fill="#46525f"/><circle cx="335.5" cy="130.3" r="1.8" fill="#c4632c"/><circle cx="637.3" cy="135.7" r="1.1" fill="#c4632c"/><circle cx="1195.6" cy="147.9" r="1.7" fill="#46525f"/><circle cx="267.7" cy="141.0" r="1.4" fill="#c4632c"/><circle cx="1045.2" cy="146.6" r="1.5" fill="#c0602e"/><circle cx="612.9" cy="143.8" r="1.2" fill="#46525f"/><circle cx="940.5" cy="143.0" r="1.5" fill="#c4632c"/><circle cx="480.2" cy="143.3" r="1.7" fill="#c0602e"/><circle cx="666.7" cy="138.9" r="1.0" fill="#3d4a58"/><circle cx="721.3" cy="133.5" r="1.3" fill="#46525f"/><circle cx="1179.9" cy="130.2" r="1.1" fill="#3d4a58"/><circle cx="1846.8" cy="136.1" r="1.4" fill="#3d4a58"/><circle cx="632.4" cy="148.5" r="1.0" fill="#3d4a58"/><circle cx="153.7" cy="140.3" r="1.7" fill="#46525f"/><circle cx="914.8" cy="131.2" r="1.7" fill="#c0602e"/><circle cx="758.5" cy="144.3" r="1.2" fill="#46525f"/><circle cx="1859.9" cy="143.8" r="1.3" fill="#c4632c"/><circle cx="1330.2" cy="132.6" r="1.5" fill="#c4632c"/><circle cx="1661.0" cy="145.4" r="1.1" fill="#46525f"/><circle cx="1672.4" cy="147.2" r="1.2" fill="#c0602e"/><circle cx="1261.8" cy="141.8" r="1.3" fill="#c4632c"/><circle cx="302.1" cy="137.7" r="1.5" fill="#46525f"/><circle cx="1020.1" cy="148.0" r="1.1" fill="#46525f"/><circle cx="1660.9" cy="135.2" r="1.5" fill="#46525f"/><circle cx="804.8" cy="138.5" r="1.2" fill="#c0602e"/><circle cx="755.8" cy="136.6" r="1.4" fill="#46525f"/><circle cx="813.8" cy="136.0" r="1.3" fill="#c0602e"/><circle cx="660.0" cy="140.0" r="1.3" fill="#c4632c"/><circle cx="800.1" cy="134.3" r="1.3" fill="#3d4a58"/><circle cx="1649.0" cy="145.7" r="1.2" fill="#3d4a58"/><circle cx="890.1" cy="147.0" r="1.0" fill="#3d4a58"/><circle cx="580.9" cy="146.8" r="1.7" fill="#3d4a58"/><circle cx="1521.7" cy="140.1" r="1.4" fill="#c0602e"/><circle cx="1055.4" cy="142.8" r="1.4" fill="#c0602e"/><circle cx="188.1" cy="142.6" r="1.8" fill="#c0602e"/><circle cx="1345.2" cy="139.8" r="1.3" fill="#3d4a58"/><circle cx="1025.7" cy="142.1" r="1.1" fill="#46525f"/><circle cx="456.5" cy="137.9" r="1.4" fill="#c0602e"/><circle cx="1250.8" cy="148.6" r="1.6" fill="#3d4a58"/><circle cx="1472.6" cy="131.7" r="1.3" fill="#3d4a58"/><circle cx="1894.7" cy="145.4" r="1.1" fill="#46525f"/><circle cx="1307.8" cy="135.5" r="1.7" fill="#3d4a58"/><circle cx="1916.3" cy="146.6" r="1.5" fill="#c0602e"/><circle cx="1067.8" cy="145.3" r="1.4" fill="#c4632c"/><circle cx="456.4" cy="133.4" r="1.5" fill="#46525f"/><circle cx="756.8" cy="148.6" r="1.6" fill="#3d4a58"/><circle cx="133.5" cy="130.1" r="1.0" fill="#46525f"/><circle cx="668.1" cy="145.7" r="1.0" fill="#46525f"/><circle cx="167.7" cy="133.3" r="1.5" fill="#46525f"/><circle cx="1699.5" cy="146.7" r="1.8" fill="#46525f"/><circle cx="1159.5" cy="137.7" r="1.1" fill="#3d4a58"/><circle cx="1057.5" cy="139.5" r="1.1" fill="#3d4a58"/><circle cx="424.4" cy="139.8" r="1.5" fill="#c0602e"/><circle cx="1582.0" cy="131.2" r="1.5" fill="#3d4a58"/><circle cx="1167.5" cy="132.7" r="1.3" fill="#c4632c"/><circle cx="422.3" cy="135.0" r="1.7" fill="#3d4a58"/><circle cx="1838.8" cy="131.2" r="1.4" fill="#c4632c"/><circle cx="815.9" cy="131.0" r="1.5" fill="#c0602e"/><circle cx="1860.5" cy="138.2" r="1.2" fill="#46525f"/><circle cx="519.7" cy="133.0" r="1.7" fill="#46525f"/><circle cx="686.9" cy="146.8" r="1.2" fill="#c0602e"/><circle cx="1210.6" cy="148.0" r="1.8" fill="#c0602e"/><circle cx="236.9" cy="142.7" r="1.2" fill="#46525f"/><circle cx="676.7" cy="146.4" r="1.0" fill="#c0602e"/><circle cx="1694.1" cy="131.6" r="1.3" fill="#c4632c"/><circle cx="453.5" cy="148.2" r="1.3" fill="#3d4a58"/><circle cx="774.5" cy="136.3" r="1.3" fill="#c0602e"/><circle cx="1299.3" cy="148.0" r="1.7" fill="#c0602e"/><circle cx="753.3" cy="134.6" r="1.4" fill="#c4632c"/><circle cx="741.0" cy="138.1" r="1.5" fill="#3d4a58"/><circle cx="735.4" cy="132.9" r="1.1" fill="#c4632c"/><circle cx="604.8" cy="145.6" r="1.4" fill="#c4632c"/><circle cx="964.0" cy="144.9" r="1.1" fill="#c4632c"/><circle cx="756.3" cy="143.5" r="1.5" fill="#c0602e"/><circle cx="1171.0" cy="135.6" r="1.4" fill="#c0602e"/><circle cx="527.6" cy="138.5" r="1.8" fill="#c4632c"/><circle cx="1930.2" cy="141.1" r="1.5" fill="#c0602e"/><circle cx="783.8" cy="134.6" r="1.4" fill="#46525f"/><circle cx="342.4" cy="144.0" r="1.1" fill="#46525f"/><circle cx="1664.4" cy="143.8" r="1.0" fill="#c0602e"/><circle cx="1421.2" cy="132.7" r="1.3" fill="#3d4a58"/><circle cx="270.6" cy="133.3" r="1.3" fill="#c4632c"/><circle cx="1320.2" cy="132.0" r="1.7" fill="#46525f"/><circle cx="1579.4" cy="144.2" r="1.1" fill="#c4632c"/><circle cx="680.5" cy="134.2" r="1.7" fill="#c4632c"/><circle cx="840.1" cy="136.7" r="1.6" fill="#c0602e"/><circle cx="1720.6" cy="146.1" r="1.7" fill="#c4632c"/><circle cx="435.0" cy="136.9" r="1.7" fill="#3d4a58"/><circle cx="160.0" cy="143.2" r="1.2" fill="#c0602e"/><circle cx="1655.0" cy="136.6" r="1.1" fill="#3d4a58"/><circle cx="323.7" cy="147.1" r="1.6" fill="#c4632c"/><circle cx="187.6" cy="130.7" r="1.3" fill="#c4632c"/><circle cx="1491.7" cy="132.9" r="1.4" fill="#3d4a58"/><circle cx="1259.6" cy="147.6" r="1.7" fill="#46525f"/><circle cx="1151.7" cy="143.4" r="1.7" fill="#3d4a58"/><circle cx="1333.6" cy="140.8" r="1.1" fill="#3d4a58"/><circle cx="1503.9" cy="142.3" r="1.7" fill="#3d4a58"/><circle cx="1178.9" cy="143.0" r="1.5" fill="#c4632c"/><circle cx="181.6" cy="136.0" r="1.6" fill="#3d4a58"/><circle cx="270.8" cy="143.0" r="1.8" fill="#c0602e"/><circle cx="1233.9" cy="134.1" r="1.1" fill="#46525f"/><circle cx="1836.4" cy="137.9" r="1.6" fill="#3d4a58"/><circle cx="1458.3" cy="145.5" r="1.4" fill="#c0602e"/><circle cx="1345.4" cy="133.9" r="1.7" fill="#46525f"/><circle cx="1530.4" cy="139.2" r="1.0" fill="#c4632c"/><circle cx="1393.0" cy="145.1" r="1.1" fill="#3d4a58"/><circle cx="411.9" cy="144.6" r="1.4" fill="#c4632c"/><circle cx="568.4" cy="131.1" r="1.3" fill="#3d4a58"/><circle cx="282.4" cy="141.9" r="1.1" fill="#c4632c"/><circle cx="1400.7" cy="142.5" r="1.6" fill="#c4632c"/><circle cx="124.7" cy="142.9" r="1.7" fill="#c4632c"/><circle cx="753.7" cy="135.6" r="1.5" fill="#c4632c"/><circle cx="552.2" cy="141.8" r="1.4" fill="#3d4a58"/><circle cx="1498.1" cy="133.2" r="1.5" fill="#c4632c"/><circle cx="953.3" cy="144.3" r="1.1" fill="#c4632c"/><circle cx="640.6" cy="136.7" r="1.0" fill="#c4632c"/><circle cx="1744.4" cy="135.7" r="1.6" fill="#3d4a58"/><circle cx="929.4" cy="132.1" r="1.4" fill="#3d4a58"/><circle cx="1149.9" cy="135.4" r="1.1" fill="#46525f"/><circle cx="133.7" cy="148.6" r="1.1" fill="#c0602e"/><circle cx="1419.2" cy="148.3" r="1.2" fill="#46525f"/><circle cx="1288.1" cy="147.9" r="1.2" fill="#c0602e"/><circle cx="1102.4" cy="130.2" r="1.5" fill="#3d4a58"/><circle cx="1256.5" cy="147.5" r="1.5" fill="#3d4a58"/><circle cx="256.2" cy="144.0" r="1.6" fill="#3d4a58"/><circle cx="1642.0" cy="135.5" r="1.8" fill="#c4632c"/><circle cx="1070.3" cy="146.7" r="1.1" fill="#c4632c"/><circle cx="1422.3" cy="135.8" r="1.3" fill="#46525f"/><circle cx="449.9" cy="145.4" r="1.2" fill="#3d4a58"/><circle cx="362.1" cy="147.2" r="1.2" fill="#3d4a58"/><circle cx="189.1" cy="140.6" r="1.7" fill="#c0602e"/><circle cx="1833.8" cy="139.2" r="1.6" fill="#c0602e"/><circle cx="1926.1" cy="141.3" r="1.1" fill="#3d4a58"/><circle cx="528.0" cy="132.6" r="1.1" fill="#c0602e"/><circle cx="186.7" cy="138.2" r="1.2" fill="#c4632c"/><circle cx="791.9" cy="130.6" r="1.7" fill="#46525f"/><circle cx="1546.2" cy="138.0" r="1.1" fill="#3d4a58"/><circle cx="214.6" cy="143.3" r="1.1" fill="#3d4a58"/><circle cx="130.0" cy="147.9" r="1.7" fill="#c4632c"/><circle cx="413.3" cy="135.5" r="1.6" fill="#c0602e"/><circle cx="1343.0" cy="140.6" r="1.1" fill="#c0602e"/><circle cx="703.1" cy="138.6" r="1.7" fill="#46525f"/><circle cx="1689.1" cy="148.2" r="1.5" fill="#46525f"/><circle cx="1590.3" cy="131.1" r="1.5" fill="#3d4a58"/><circle cx="654.6" cy="140.7" r="1.4" fill="#3d4a58"/><circle cx="1292.2" cy="135.6" r="1.4" fill="#3d4a58"/><circle cx="1267.4" cy="145.9" r="1.5" fill="#c4632c"/><circle cx="928.2" cy="131.6" r="1.3" fill="#46525f"/><circle cx="1171.0" cy="137.8" r="1.2" fill="#46525f"/><circle cx="917.3" cy="134.9" r="1.1" fill="#c4632c"/><circle cx="1733.8" cy="140.2" r="1.2" fill="#3d4a58"/><circle cx="1637.9" cy="142.1" r="1.4" fill="#c4632c"/><circle cx="571.8" cy="139.1" r="1.4" fill="#46525f"/><circle cx="1099.0" cy="143.0" r="1.7" fill="#46525f"/><circle cx="1145.7" cy="145.9" r="1.6" fill="#3d4a58"/><circle cx="358.4" cy="139.4" r="1.6" fill="#46525f"/><circle cx="1491.6" cy="132.1" r="1.1" fill="#46525f"/><circle cx="1625.0" cy="137.3" r="1.8" fill="#c4632c"/><circle cx="462.8" cy="138.9" r="1.1" fill="#3d4a58"/><circle cx="1526.6" cy="131.1" r="1.0" fill="#c4632c"/><circle cx="190.0" cy="143.1" r="1.4" fill="#c4632c"/><circle cx="333.4" cy="132.5" r="1.5" fill="#3d4a58"/><circle cx="1701.3" cy="140.5" r="1.1" fill="#3d4a58"/><circle cx="1470.7" cy="136.4" r="1.7" fill="#3d4a58"/><circle cx="337.4" cy="137.0" r="1.8" fill="#46525f"/><circle cx="1427.6" cy="130.8" r="1.3" fill="#46525f"/><circle cx="761.4" cy="136.1" r="1.1" fill="#46525f"/><circle cx="1798.1" cy="142.6" r="1.3" fill="#3d4a58"/><circle cx="1376.9" cy="130.4" r="1.4" fill="#46525f"/><circle cx="1553.9" cy="139.1" r="1.6" fill="#3d4a58"/><circle cx="451.2" cy="140.4" r="1.7" fill="#3d4a58"/><circle cx="1332.6" cy="145.6" r="1.7" fill="#46525f"/><circle cx="1093.9" cy="142.9" r="1.8" fill="#3d4a58"/><circle cx="139.1" cy="136.4" r="1.4" fill="#c4632c"/><circle cx="994.8" cy="130.6" r="1.1" fill="#3d4a58"/><circle cx="1243.2" cy="142.1" r="1.3" fill="#46525f"/><circle cx="979.9" cy="133.0" r="1.3" fill="#c0602e"/><circle cx="1702.9" cy="141.4" r="1.3" fill="#3d4a58"/><circle cx="1075.4" cy="135.8" r="1.5" fill="#c4632c"/><circle cx="193.5" cy="133.2" r="1.6" fill="#3d4a58"/><circle cx="717.1" cy="138.8" r="1.3" fill="#3d4a58"/><circle cx="724.6" cy="139.0" r="1.0" fill="#c4632c"/><circle cx="950.1" cy="148.4" r="1.5" fill="#3d4a58"/><circle cx="1437.1" cy="132.7" r="1.2" fill="#c0602e"/><circle cx="1024.0" cy="134.9" r="1.5" fill="#46525f"/><circle cx="1177.6" cy="132.6" r="1.7" fill="#3d4a58"/><circle cx="1756.8" cy="131.8" r="1.6" fill="#c4632c"/><circle cx="1266.2" cy="141.9" r="1.6" fill="#3d4a58"/><circle cx="1557.3" cy="134.5" r="1.5" fill="#c4632c"/><circle cx="667.3" cy="144.3" r="1.4" fill="#3d4a58"/><circle cx="1270.1" cy="136.6" r="1.6" fill="#46525f"/><circle cx="722.7" cy="143.2" r="1.7" fill="#3d4a58"/><circle cx="1538.3" cy="139.4" r="1.6" fill="#c4632c"/><circle cx="1927.9" cy="132.8" r="1.0" fill="#c4632c"/><circle cx="1699.2" cy="138.5" r="1.3" fill="#c0602e"/><circle cx="1519.7" cy="147.4" r="1.1" fill="#46525f"/><circle cx="662.7" cy="135.8" r="1.4" fill="#46525f"/><circle cx="1820.1" cy="136.4" r="1.5" fill="#c4632c"/><circle cx="259.7" cy="133.3" r="1.3" fill="#46525f"/><circle cx="965.5" cy="148.1" r="1.6" fill="#c0602e"/><circle cx="1792.0" cy="145.7" r="1.7" fill="#3d4a58"/><circle cx="616.1" cy="134.8" r="1.6" fill="#3d4a58"/><circle cx="1254.1" cy="134.4" r="1.2" fill="#3d4a58"/><circle cx="841.2" cy="133.7" r="1.2" fill="#46525f"/><circle cx="1027.5" cy="131.9" r="1.6" fill="#c4632c"/><circle cx="1866.9" cy="141.2" r="1.1" fill="#3d4a58"/><circle cx="1599.8" cy="140.8" r="1.0" fill="#c4632c"/><circle cx="606.6" cy="142.0" r="1.5" fill="#3d4a58"/><circle cx="1793.7" cy="134.0" r="1.7" fill="#3d4a58"/><circle cx="163.3" cy="139.1" r="1.5" fill="#46525f"/><circle cx="728.8" cy="131.1" r="1.6" fill="#c0602e"/><circle cx="272.7" cy="141.5" r="1.8" fill="#c0602e"/><circle cx="841.2" cy="147.6" r="1.0" fill="#3d4a58"/><circle cx="690.7" cy="142.2" r="1.0" fill="#3d4a58"/><circle cx="1231.4" cy="143.5" r="1.1" fill="#3d4a58"/><circle cx="147.9" cy="133.9" r="1.6" fill="#46525f"/><circle cx="277.6" cy="145.2" r="1.3" fill="#c0602e"/><circle cx="1351.9" cy="146.2" r="1.5" fill="#c4632c"/><circle cx="1208.9" cy="136.2" r="1.2" fill="#46525f"/><circle cx="1408.8" cy="144.3" r="1.5" fill="#3d4a58"/><circle cx="1114.1" cy="143.2" r="1.2" fill="#46525f"/><circle cx="1066.4" cy="147.6" r="1.2" fill="#c4632c"/><circle cx="1129.8" cy="131.9" r="1.1" fill="#3d4a58"/><circle cx="1258.6" cy="137.5" r="1.7" fill="#3d4a58"/><circle cx="1250.8" cy="132.3" r="1.4" fill="#46525f"/><circle cx="1124.6" cy="133.4" r="1.3" fill="#46525f"/><circle cx="385.8" cy="133.3" r="1.4" fill="#c4632c"/><circle cx="752.5" cy="143.3" r="1.8" fill="#c0602e"/><circle cx="1022.1" cy="141.9" r="1.7" fill="#3d4a58"/><circle cx="822.0" cy="134.0" r="1.1" fill="#3d4a58"/><circle cx="1448.8" cy="131.2" r="1.5" fill="#c0602e"/><circle cx="752.2" cy="134.3" r="1.3" fill="#c0602e"/><circle cx="1786.8" cy="147.7" r="1.0" fill="#c4632c"/><circle cx="151.8" cy="143.3" r="1.2" fill="#c4632c"/><circle cx="483.8" cy="144.2" r="1.2" fill="#3d4a58"/><circle cx="1923.6" cy="134.1" r="1.6" fill="#46525f"/><circle cx="982.8" cy="147.5" r="1.8" fill="#3d4a58"/><circle cx="362.5" cy="135.6" r="1.3" fill="#3d4a58"/><circle cx="997.7" cy="146.7" r="1.3" fill="#c4632c"/><circle cx="1224.7" cy="147.9" r="1.5" fill="#c4632c"/><circle cx="1720.8" cy="133.9" r="1.0" fill="#3d4a58"/><circle cx="1522.6" cy="138.2" r="1.7" fill="#c0602e"/><circle cx="1924.6" cy="135.6" r="1.6" fill="#3d4a58"/><circle cx="390.5" cy="147.1" r="1.7" fill="#c4632c"/><circle cx="388.5" cy="143.8" r="1.6" fill="#3d4a58"/><circle cx="959.4" cy="137.4" r="1.3" fill="#c0602e"/><circle cx="1785.7" cy="143.4" r="1.8" fill="#3d4a58"/><circle cx="173.9" cy="134.4" r="1.0" fill="#3d4a58"/><circle cx="1032.7" cy="134.3" r="1.6" fill="#c0602e"/><circle cx="1439.9" cy="130.9" r="1.1" fill="#3d4a58"/><circle cx="314.8" cy="147.9" r="1.4" fill="#c4632c"/><circle cx="118.7" cy="134.2" r="1.1" fill="#46525f"/><circle cx="1457.5" cy="139.4" r="1.4" fill="#3d4a58"/><circle cx="1642.0" cy="147.9" r="1.3" fill="#3d4a58"/><circle cx="505.6" cy="148.1" r="1.6" fill="#c4632c"/><circle cx="610.8" cy="133.3" r="1.2" fill="#3d4a58"/><circle cx="1872.7" cy="133.7" r="1.3" fill="#3d4a58"/><circle cx="1127.0" cy="136.8" r="1.3" fill="#3d4a58"/><circle cx="189.4" cy="138.5" r="1.4" fill="#3d4a58"/><circle cx="1370.3" cy="148.4" r="1.3" fill="#3d4a58"/><circle cx="693.2" cy="137.8" r="1.3" fill="#c4632c"/><circle cx="815.5" cy="137.7" r="1.7" fill="#c4632c"/><circle cx="1269.7" cy="134.5" r="1.7" fill="#46525f"/><circle cx="577.5" cy="141.4" r="1.8" fill="#c0602e"/><circle cx="1616.5" cy="142.4" r="1.7" fill="#3d4a58"/><circle cx="1540.8" cy="147.0" r="1.3" fill="#3d4a58"/><circle cx="1130.5" cy="142.8" r="1.4" fill="#c0602e"/><circle cx="688.4" cy="148.2" r="1.4" fill="#3d4a58"/><circle cx="1292.1" cy="138.8" r="1.5" fill="#3d4a58"/><circle cx="1924.4" cy="134.4" r="1.3" fill="#c0602e"/><circle cx="230.7" cy="148.2" r="1.5" fill="#3d4a58"/><circle cx="1346.5" cy="136.0" r="1.5" fill="#46525f"/><circle cx="1795.6" cy="144.3" r="1.7" fill="#3d4a58"/><circle cx="975.4" cy="143.5" r="1.5" fill="#46525f"/><circle cx="1152.7" cy="148.7" r="1.7" fill="#3d4a58"/><circle cx="1076.3" cy="139.8" r="1.1" fill="#46525f"/><circle cx="779.7" cy="142.6" r="1.7" fill="#c4632c"/><circle cx="951.7" cy="142.0" r="1.3" fill="#3d4a58"/><circle cx="772.4" cy="146.1" r="1.1" fill="#c0602e"/><circle cx="394.0" cy="134.7" r="1.3" fill="#3d4a58"/><circle cx="1320.7" cy="139.8" r="1.4" fill="#3d4a58"/><circle cx="274.2" cy="137.4" r="1.6" fill="#c0602e"/><circle cx="931.8" cy="138.9" r="1.6" fill="#c4632c"/><circle cx="386.8" cy="142.7" r="1.4" fill="#3d4a58"/><circle cx="1315.7" cy="141.6" r="1.3" fill="#46525f"/><circle cx="807.7" cy="130.3" r="1.0" fill="#c4632c"/><circle cx="586.6" cy="141.0" r="1.6" fill="#3d4a58"/><circle cx="613.8" cy="136.1" r="1.2" fill="#c4632c"/><circle cx="911.3" cy="139.8" r="1.7" fill="#c0602e"/><circle cx="481.1" cy="137.9" r="1.5" fill="#3d4a58"/><circle cx="790.3" cy="130.8" r="1.3" fill="#c0602e"/><circle cx="190.0" cy="144.1" r="1.3" fill="#c0602e"/><circle cx="1219.5" cy="134.8" r="1.3" fill="#c4632c"/><circle cx="1167.2" cy="147.3" r="1.8" fill="#c4632c"/><circle cx="1664.1" cy="140.9" r="1.5" fill="#3d4a58"/><circle cx="713.6" cy="131.3" r="1.3" fill="#c0602e"/><circle cx="1071.0" cy="139.3" r="1.1" fill="#3d4a58"/><circle cx="1139.6" cy="147.5" r="1.3" fill="#c0602e"/><circle cx="976.0" cy="146.6" r="1.3" fill="#c0602e"/><circle cx="360.2" cy="144.1" r="1.5" fill="#3d4a58"/><circle cx="1461.6" cy="137.5" r="1.7" fill="#3d4a58"/><circle cx="649.0" cy="136.2" r="1.6" fill="#c0602e"/><circle cx="329.0" cy="134.1" r="1.5" fill="#3d4a58"/><circle cx="142.2" cy="139.3" r="1.5" fill="#c4632c"/><circle cx="214.1" cy="142.7" r="1.4" fill="#3d4a58"/><circle cx="213.7" cy="142.9" r="1.7" fill="#c0602e"/><circle cx="369.2" cy="137.6" r="1.7" fill="#3d4a58"/><circle cx="378.9" cy="136.3" r="1.8" fill="#46525f"/><circle cx="452.8" cy="140.1" r="1.2" fill="#46525f"/><circle cx="683.7" cy="134.8" r="1.4" fill="#3d4a58"/><circle cx="1044.0" cy="137.9" r="1.2" fill="#3d4a58"/><circle cx="566.3" cy="137.1" r="1.7" fill="#c0602e"/><circle cx="581.9" cy="133.8" r="1.2" fill="#3d4a58"/><circle cx="1301.1" cy="147.4" r="1.6" fill="#c0602e"/><circle cx="371.1" cy="147.4" r="1.2" fill="#3d4a58"/><circle cx="1787.3" cy="140.4" r="1.6" fill="#3d4a58"/><circle cx="129.5" cy="131.3" r="1.7" fill="#46525f"/><circle cx="178.3" cy="134.1" r="1.2" fill="#c0602e"/><circle cx="1407.2" cy="145.0" r="1.5" fill="#46525f"/><circle cx="852.9" cy="143.6" r="1.7" fill="#c4632c"/><circle cx="219.0" cy="138.1" r="1.0" fill="#3d4a58"/><circle cx="1684.0" cy="131.3" r="1.4" fill="#46525f"/><circle cx="139.8" cy="143.5" r="1.4" fill="#c4632c"/><circle cx="1340.4" cy="142.6" r="1.6" fill="#3d4a58"/><circle cx="1086.7" cy="133.0" r="1.4" fill="#c4632c"/><circle cx="961.5" cy="133.8" r="1.8" fill="#3d4a58"/><circle cx="868.7" cy="142.3" r="1.6" fill="#3d4a58"/><circle cx="919.2" cy="137.9" r="1.7" fill="#3d4a58"/><circle cx="356.8" cy="133.0" r="1.2" fill="#c0602e"/><circle cx="537.5" cy="140.9" r="1.6" fill="#3d4a58"/><circle cx="1423.2" cy="135.8" r="1.3" fill="#3d4a58"/><circle cx="1645.2" cy="132.8" r="1.3" fill="#c4632c"/><circle cx="174.0" cy="137.1" r="1.2" fill="#3d4a58"/><circle cx="1107.2" cy="131.8" r="1.1" fill="#c0602e"/><circle cx="448.8" cy="136.2" r="1.1" fill="#c0602e"/><circle cx="1621.9" cy="132.3" r="1.8" fill="#c4632c"/><circle cx="1823.8" cy="139.8" r="1.4" fill="#3d4a58"/><circle cx="146.3" cy="144.6" r="1.2" fill="#3d4a58"/><circle cx="623.6" cy="135.7" r="1.4" fill="#46525f"/><circle cx="274.9" cy="132.6" r="1.6" fill="#3d4a58"/><circle cx="1506.4" cy="146.9" r="1.7" fill="#46525f"/><circle cx="173.0" cy="141.2" r="1.3" fill="#3d4a58"/><circle cx="1832.8" cy="142.3" r="1.1" fill="#3d4a58"/><circle cx="751.4" cy="139.0" r="1.6" fill="#3d4a58"/><circle cx="439.5" cy="144.7" r="1.6" fill="#3d4a58"/><circle cx="1431.1" cy="138.5" r="1.1" fill="#46525f"/><circle cx="407.7" cy="137.4" r="1.0" fill="#3d4a58"/><circle cx="1048.3" cy="131.8" r="1.3" fill="#c4632c"/><circle cx="1637.7" cy="131.4" r="1.3" fill="#c4632c"/><circle cx="1320.2" cy="131.7" r="1.7" fill="#3d4a58"/><circle cx="1703.6" cy="139.0" r="1.2" fill="#c4632c"/><circle cx="307.9" cy="134.5" r="1.4" fill="#c4632c"/><circle cx="1089.5" cy="132.2" r="1.2" fill="#c0602e"/><circle cx="1148.4" cy="130.8" r="1.3" fill="#3d4a58"/><circle cx="473.8" cy="137.5" r="1.8" fill="#c4632c"/><circle cx="1767.3" cy="143.6" r="1.4" fill="#46525f"/><circle cx="1734.9" cy="130.3" r="1.4" fill="#3d4a58"/><circle cx="1553.7" cy="140.7" r="1.1" fill="#c4632c"/><circle cx="425.7" cy="145.7" r="1.3" fill="#3d4a58"/><circle cx="1250.1" cy="132.0" r="1.7" fill="#46525f"/><circle cx="267.5" cy="140.8" r="1.2" fill="#c4632c"/><circle cx="1524.4" cy="139.6" r="1.7" fill="#3d4a58"/><circle cx="247.0" cy="136.3" r="1.0" fill="#3d4a58"/><circle cx="1239.2" cy="142.9" r="1.3" fill="#3d4a58"/><circle cx="1589.2" cy="138.6" r="1.0" fill="#c4632c"/><circle cx="1825.4" cy="137.7" r="1.0" fill="#c0602e"/><circle cx="1549.3" cy="132.8" r="1.5" fill="#46525f"/><circle cx="389.2" cy="136.4" r="1.2" fill="#c4632c"/><circle cx="1797.3" cy="142.8" r="1.8" fill="#3d4a58"/><circle cx="1554.7" cy="139.0" r="1.4" fill="#c0602e"/><circle cx="714.6" cy="131.3" r="1.5" fill="#46525f"/><circle cx="476.3" cy="141.7" r="1.6" fill="#3d4a58"/><circle cx="282.1" cy="143.4" r="1.5" fill="#3d4a58"/><circle cx="1576.1" cy="139.2" r="1.1" fill="#c0602e"/><circle cx="1621.7" cy="147.5" r="1.6" fill="#3d4a58"/><circle cx="1629.1" cy="145.0" r="1.1" fill="#46525f"/><circle cx="816.2" cy="142.0" r="1.2" fill="#46525f"/><circle cx="1862.9" cy="139.9" r="1.1" fill="#3d4a58"/><circle cx="1539.3" cy="145.0" r="1.2" fill="#c4632c"/><circle cx="1183.5" cy="140.5" r="1.5" fill="#c0602e"/><circle cx="1812.5" cy="146.6" r="1.3" fill="#3d4a58"/><circle cx="1540.6" cy="144.8" r="1.7" fill="#3d4a58"/><circle cx="853.4" cy="131.6" r="1.5" fill="#3d4a58"/><circle cx="1759.5" cy="138.0" r="1.0" fill="#3d4a58"/><circle cx="1004.1" cy="130.3" r="1.7" fill="#3d4a58"/><circle cx="979.2" cy="137.7" r="1.4" fill="#3d4a58"/><circle cx="724.5" cy="134.0" r="1.3" fill="#3d4a58"/><circle cx="962.0" cy="130.6" r="1.1" fill="#3d4a58"/><circle cx="607.2" cy="143.1" r="1.3" fill="#c0602e"/><circle cx="1093.5" cy="134.5" r="1.5" fill="#c4632c"/><circle cx="189.6" cy="145.4" r="1.3" fill="#c4632c"/><circle cx="719.4" cy="132.8" r="1.2" fill="#c4632c"/><circle cx="1733.5" cy="141.4" r="1.2" fill="#c0602e"/><circle cx="693.7" cy="146.4" r="1.2" fill="#46525f"/><circle cx="1625.7" cy="133.0" r="1.0" fill="#46525f"/><circle cx="1667.4" cy="131.9" r="1.4" fill="#c4632c"/><circle cx="1587.1" cy="134.7" r="1.5" fill="#3d4a58"/><circle cx="1905.8" cy="143.7" r="1.5" fill="#46525f"/><circle cx="359.8" cy="144.1" r="1.5" fill="#3d4a58"/><circle cx="252.1" cy="141.7" r="1.2" fill="#c0602e"/><circle cx="652.4" cy="135.7" r="1.8" fill="#c0602e"/><circle cx="1585.8" cy="131.1" r="1.4" fill="#c0602e"/><circle cx="1372.7" cy="130.3" r="1.4" fill="#3d4a58"/><circle cx="928.9" cy="144.0" r="1.6" fill="#c4632c"/><circle cx="1478.7" cy="130.7" r="1.4" fill="#3d4a58"/><circle cx="126.9" cy="147.5" r="1.1" fill="#3d4a58"/><circle cx="1183.3" cy="140.8" r="1.8" fill="#3d4a58"/><circle cx="429.9" cy="141.0" r="1.5" fill="#3d4a58"/><circle cx="554.0" cy="144.5" r="1.3" fill="#3d4a58"/><circle cx="1894.2" cy="142.1" r="1.4" fill="#c0602e"/><circle cx="1887.7" cy="136.7" r="1.3" fill="#3d4a58"/><circle cx="1631.0" cy="139.3" r="1.6" fill="#3d4a58"/><circle cx="746.0" cy="132.6" r="1.6" fill="#46525f"/><circle cx="226.2" cy="135.8" r="1.1" fill="#46525f"/><circle cx="681.8" cy="131.0" r="1.8" fill="#3d4a58"/><circle cx="1528.3" cy="136.7" r="1.2" fill="#c4632c"/><circle cx="1736.1" cy="138.9" r="1.3" fill="#46525f"/><circle cx="911.7" cy="132.0" r="1.3" fill="#3d4a58"/><circle cx="695.7" cy="144.8" r="1.2" fill="#c0602e"/><circle cx="485.2" cy="147.0" r="1.4" fill="#c0602e"/><circle cx="857.0" cy="133.0" r="1.0" fill="#3d4a58"/><circle cx="621.6" cy="140.0" r="1.7" fill="#46525f"/><circle cx="863.3" cy="131.4" r="1.3" fill="#c0602e"/><circle cx="1783.8" cy="139.9" r="1.7" fill="#3d4a58"/><circle cx="334.4" cy="138.4" r="1.0" fill="#3d4a58"/><circle cx="1618.5" cy="140.6" r="1.5" fill="#3d4a58"/><circle cx="768.8" cy="148.3" r="1.7" fill="#3d4a58"/><circle cx="289.5" cy="141.3" r="1.7" fill="#c0602e"/><circle cx="1409.5" cy="147.4" r="1.5" fill="#c4632c"/><circle cx="1874.5" cy="141.9" r="1.6" fill="#3d4a58"/><circle cx="832.0" cy="147.6" r="1.3" fill="#3d4a58"/><circle cx="1023.7" cy="136.3" r="1.6" fill="#c4632c"/><circle cx="375.0" cy="143.8" r="1.5" fill="#c0602e"/><circle cx="1754.8" cy="132.5" r="1.5" fill="#3d4a58"/><circle cx="1796.7" cy="131.2" r="1.7" fill="#3d4a58"/><circle cx="1329.4" cy="140.8" r="1.2" fill="#c0602e"/><circle cx="1440.3" cy="144.7" r="1.1" fill="#c4632c"/><circle cx="1336.2" cy="144.1" r="1.1" fill="#46525f"/><circle cx="628.3" cy="130.6" r="1.7" fill="#c0602e"/><circle cx="352.9" cy="143.2" r="1.5" fill="#c0602e"/><circle cx="614.6" cy="131.3" r="1.5" fill="#46525f"/><circle cx="1040.5" cy="141.4" r="1.2" fill="#c4632c"/><circle cx="768.7" cy="140.6" r="1.3" fill="#3d4a58"/><circle cx="1387.0" cy="131.3" r="1.2" fill="#3d4a58"/><circle cx="947.1" cy="144.3" r="1.2" fill="#c0602e"/><circle cx="221.6" cy="138.3" r="1.5" fill="#46525f"/><circle cx="172.7" cy="140.1" r="1.1" fill="#c0602e"/><circle cx="522.5" cy="141.8" r="1.8" fill="#3d4a58"/><circle cx="1079.9" cy="134.3" r="1.6" fill="#46525f"/><circle cx="494.3" cy="145.7" r="1.4" fill="#46525f"/><circle cx="169.5" cy="144.6" r="1.6" fill="#3d4a58"/><circle cx="601.9" cy="137.0" r="1.6" fill="#3d4a58"/><circle cx="1178.6" cy="137.5" r="1.8" fill="#46525f"/><circle cx="858.4" cy="142.5" r="1.6" fill="#3d4a58"/><circle cx="1863.6" cy="136.2" r="1.1" fill="#3d4a58"/><circle cx="983.7" cy="132.5" r="1.8" fill="#c0602e"/><circle cx="1716.3" cy="141.6" r="1.3" fill="#c4632c"/><circle cx="459.6" cy="137.5" r="1.6" fill="#3d4a58"/><circle cx="253.1" cy="146.8" r="1.4" fill="#3d4a58"/><circle cx="473.8" cy="143.2" r="1.6" fill="#c4632c"/><circle cx="480.1" cy="144.1" r="1.6" fill="#3d4a58"/><circle cx="1839.9" cy="147.2" r="1.6" fill="#46525f"/><circle cx="228.2" cy="133.8" r="1.7" fill="#3d4a58"/><circle cx="1281.7" cy="144.0" r="1.2" fill="#46525f"/><circle cx="760.8" cy="133.1" r="1.8" fill="#3d4a58"/><circle cx="670.5" cy="130.8" r="1.6" fill="#c4632c"/><circle cx="880.3" cy="130.5" r="1.6" fill="#c0602e"/><circle cx="738.1" cy="146.0" r="1.6" fill="#3d4a58"/><circle cx="971.7" cy="148.5" r="1.6" fill="#3d4a58"/><circle cx="980.8" cy="145.4" r="1.7" fill="#c4632c"/><circle cx="1075.5" cy="134.7" r="1.2" fill="#c0602e"/><circle cx="572.5" cy="130.4" r="1.6" fill="#c4632c"/><circle cx="1834.5" cy="148.3" r="1.6" fill="#c0602e"/><circle cx="1434.8" cy="133.0" r="1.1" fill="#c0602e"/><circle cx="137.4" cy="134.0" r="1.4" fill="#46525f"/><circle cx="164.2" cy="145.2" r="1.4" fill="#3d4a58"/><circle cx="192.7" cy="146.6" r="1.7" fill="#46525f"/><circle cx="1676.5" cy="136.3" r="1.7" fill="#46525f"/><circle cx="995.8" cy="142.0" r="1.0" fill="#c4632c"/><circle cx="486.1" cy="136.6" r="1.1" fill="#3d4a58"/><circle cx="1711.2" cy="147.7" r="1.4" fill="#c0602e"/><circle cx="1179.7" cy="141.9" r="1.6" fill="#c0602e"/><circle cx="1151.7" cy="143.4" r="1.1" fill="#c0602e"/><circle cx="1300.5" cy="146.1" r="1.6" fill="#c4632c"/><circle cx="968.6" cy="146.5" r="1.1" fill="#46525f"/><circle cx="1768.4" cy="141.2" r="1.6" fill="#3d4a58"/><circle cx="1570.0" cy="146.6" r="1.3" fill="#3d4a58"/><circle cx="1548.3" cy="145.4" r="1.2" fill="#3d4a58"/><circle cx="1766.5" cy="133.7" r="1.0" fill="#3d4a58"/><circle cx="202.6" cy="134.5" r="1.6" fill="#c4632c"/><circle cx="194.5" cy="140.4" r="1.7" fill="#46525f"/><circle cx="592.6" cy="132.9" r="1.4" fill="#3d4a58"/><circle cx="1854.8" cy="144.2" r="1.1" fill="#3d4a58"/><circle cx="1582.9" cy="133.0" r="1.3" fill="#46525f"/><circle cx="1041.9" cy="147.9" r="1.7" fill="#c0602e"/><circle cx="118.1" cy="145.9" r="1.5" fill="#46525f"/><circle cx="269.8" cy="140.5" r="1.5" fill="#46525f"/><circle cx="1569.1" cy="131.5" r="1.5" fill="#3d4a58"/><circle cx="1233.5" cy="138.5" r="1.4" fill="#3d4a58"/><circle cx="493.5" cy="133.5" r="1.6" fill="#46525f"/><circle cx="947.5" cy="132.3" r="1.5" fill="#c4632c"/><circle cx="1903.6" cy="141.5" r="1.4" fill="#3d4a58"/><circle cx="755.6" cy="131.8" r="1.7" fill="#c4632c"/><circle cx="1657.9" cy="131.9" r="1.2" fill="#3d4a58"/><circle cx="676.8" cy="135.5" r="1.5" fill="#c0602e"/><circle cx="1895.0" cy="144.4" r="1.1" fill="#3d4a58"/><circle cx="193.3" cy="142.8" r="1.2" fill="#46525f"/><circle cx="815.4" cy="148.4" r="1.5" fill="#46525f"/><circle cx="497.7" cy="144.2" r="1.7" fill="#3d4a58"/><circle cx="1637.7" cy="143.4" r="1.5" fill="#3d4a58"/><circle cx="359.8" cy="147.0" r="1.1" fill="#3d4a58"/><circle cx="1829.8" cy="138.3" r="1.2" fill="#c4632c"/><circle cx="661.0" cy="136.5" r="1.3" fill="#3d4a58"/><circle cx="409.1" cy="133.0" r="1.6" fill="#c0602e"/><circle cx="1637.0" cy="148.6" r="1.2" fill="#3d4a58"/><circle cx="568.5" cy="137.7" r="1.3" fill="#3d4a58"/><circle cx="1104.0" cy="136.7" r="1.0" fill="#3d4a58"/><circle cx="1517.2" cy="134.5" r="1.6" fill="#3d4a58"/><circle cx="1082.3" cy="132.0" r="1.3" fill="#3d4a58"/><circle cx="727.3" cy="131.2" r="1.8" fill="#3d4a58"/><circle cx="407.2" cy="139.9" r="1.2" fill="#46525f"/><circle cx="1783.5" cy="147.4" r="1.6" fill="#46525f"/><circle cx="1874.7" cy="131.7" r="1.2" fill="#c4632c"/><circle cx="1488.2" cy="146.6" r="1.3" fill="#3d4a58"/><circle cx="329.4" cy="147.7" r="1.4" fill="#46525f"/><circle cx="1364.1" cy="142.9" r="1.6" fill="#3d4a58"/><circle cx="566.3" cy="134.8" r="1.1" fill="#3d4a58"/><circle cx="1690.6" cy="142.0" r="1.8" fill="#46525f"/><circle cx="1284.8" cy="141.1" r="1.5" fill="#3d4a58"/><circle cx="1378.7" cy="135.7" r="1.6" fill="#3d4a58"/><circle cx="1088.9" cy="131.4" r="1.1" fill="#3d4a58"/><circle cx="319.4" cy="139.2" r="1.6" fill="#46525f"/><circle cx="611.7" cy="144.4" r="1.7" fill="#c4632c"/><circle cx="578.0" cy="137.4" r="1.4" fill="#c4632c"/><circle cx="1439.5" cy="131.8" r="1.3" fill="#c0602e"/><circle cx="1628.8" cy="130.6" r="1.1" fill="#c4632c"/><circle cx="494.1" cy="136.6" r="1.2" fill="#3d4a58"/><circle cx="131.8" cy="133.6" r="1.1" fill="#3d4a58"/><circle cx="1313.8" cy="141.0" r="1.1" fill="#3d4a58"/><circle cx="375.5" cy="131.8" r="1.3" fill="#3d4a58"/><circle cx="1301.1" cy="140.7" r="1.0" fill="#c4632c"/><circle cx="652.5" cy="135.0" r="1.7" fill="#c4632c"/><circle cx="760.8" cy="140.1" r="1.1" fill="#c4632c"/><circle cx="1548.1" cy="134.7" r="1.1" fill="#3d4a58"/><circle cx="1321.0" cy="146.3" r="1.2" fill="#c4632c"/><circle cx="807.0" cy="144.3" r="1.5" fill="#c4632c"/><circle cx="1727.7" cy="144.3" r="1.2" fill="#3d4a58"/><circle cx="1739.0" cy="134.9" r="1.0" fill="#3d4a58"/><circle cx="1321.8" cy="145.6" r="1.2" fill="#c4632c"/><circle cx="974.1" cy="139.1" r="1.4" fill="#3d4a58"/><circle cx="1409.0" cy="131.8" r="1.4" fill="#3d4a58"/><circle cx="1794.0" cy="147.0" r="1.4" fill="#c0602e"/><circle cx="329.3" cy="131.3" r="1.4" fill="#3d4a58"/><circle cx="549.1" cy="136.3" r="1.1" fill="#3d4a58"/><circle cx="518.8" cy="143.9" r="1.5" fill="#46525f"/><circle cx="1933.8" cy="147.4" r="1.1" fill="#c0602e"/><circle cx="1831.5" cy="139.8" r="1.4" fill="#c4632c"/><circle cx="1043.1" cy="135.9" r="1.1" fill="#3d4a58"/><circle cx="596.9" cy="147.3" r="1.6" fill="#c0602e"/><circle cx="353.8" cy="145.1" r="1.1" fill="#3d4a58"/><circle cx="624.7" cy="144.8" r="1.1" fill="#3d4a58"/><circle cx="1905.2" cy="139.0" r="1.4" fill="#c4632c"/><circle cx="1256.1" cy="145.2" r="1.5" fill="#3d4a58"/><circle cx="1364.2" cy="130.6" r="1.6" fill="#c4632c"/><circle cx="1323.3" cy="132.6" r="1.1" fill="#3d4a58"/><circle cx="1576.6" cy="147.7" r="1.7" fill="#3d4a58"/><circle cx="783.3" cy="146.9" r="1.6" fill="#c4632c"/><circle cx="142.5" cy="138.6" r="1.4" fill="#3d4a58"/><circle cx="1661.2" cy="135.3" r="1.7" fill="#c4632c"/><circle cx="668.1" cy="135.9" r="1.8" fill="#c4632c"/><circle cx="845.6" cy="142.7" r="1.3" fill="#3d4a58"/><circle cx="995.3" cy="131.2" r="1.4" fill="#3d4a58"/><circle cx="1839.9" cy="139.2" r="1.5" fill="#c4632c"/><circle cx="507.8" cy="145.6" r="1.2" fill="#c4632c"/><circle cx="1541.5" cy="135.1" r="1.0" fill="#3d4a58"/><circle cx="437.1" cy="137.7" r="1.5" fill="#3d4a58"/><circle cx="1515.5" cy="134.5" r="1.1" fill="#3d4a58"/><circle cx="1591.3" cy="141.3" r="1.4" fill="#c0602e"/><circle cx="1409.4" cy="132.6" r="1.4" fill="#c4632c"/><circle cx="612.5" cy="137.8" r="1.8" fill="#c4632c"/><circle cx="360.2" cy="136.0" r="1.1" fill="#3d4a58"/><circle cx="883.6" cy="131.5" r="1.6" fill="#c0602e"/><circle cx="574.8" cy="140.7" r="1.7" fill="#c4632c"/><circle cx="1855.6" cy="135.0" r="1.1" fill="#c0602e"/><circle cx="906.8" cy="145.3" r="1.7" fill="#3d4a58"/><circle cx="242.4" cy="144.1" r="1.7" fill="#c4632c"/><circle cx="878.6" cy="139.9" r="1.6" fill="#3d4a58"/><circle cx="1303.2" cy="139.6" r="1.4" fill="#3d4a58"/><circle cx="1023.3" cy="139.9" r="1.7" fill="#3d4a58"/><circle cx="1865.5" cy="133.6" r="1.5" fill="#3d4a58"/><circle cx="575.1" cy="137.1" r="1.5" fill="#3d4a58"/><circle cx="863.9" cy="147.9" r="1.5" fill="#3d4a58"/><circle cx="247.6" cy="143.9" r="1.5" fill="#46525f"/><circle cx="500.4" cy="136.1" r="1.4" fill="#3d4a58"/><circle cx="732.9" cy="144.2" r="1.4" fill="#c4632c"/><circle cx="704.2" cy="148.2" r="1.1" fill="#c0602e"/><circle cx="1881.2" cy="140.1" r="1.8" fill="#c0602e"/><circle cx="1752.2" cy="134.3" r="1.3" fill="#3d4a58"/><circle cx="1013.7" cy="136.8" r="1.5" fill="#c4632c"/><circle cx="1713.6" cy="132.1" r="1.1" fill="#46525f"/><circle cx="853.2" cy="137.9" r="1.4" fill="#3d4a58"/><circle cx="940.5" cy="136.2" r="1.3" fill="#46525f"/><circle cx="1396.1" cy="138.2" r="1.6" fill="#c4632c"/><circle cx="1375.5" cy="142.6" r="1.3" fill="#c4632c"/><circle cx="327.2" cy="141.8" r="1.7" fill="#3d4a58"/><circle cx="1282.6" cy="141.9" r="1.8" fill="#46525f"/><circle cx="471.3" cy="144.3" r="1.5" fill="#3d4a58"/><circle cx="411.4" cy="131.2" r="1.7" fill="#c0602e"/><circle cx="1706.7" cy="141.0" r="1.7" fill="#c4632c"/><circle cx="1197.8" cy="137.7" r="1.2" fill="#46525f"/><circle cx="241.5" cy="130.1" r="1.1" fill="#c4632c"/><circle cx="567.0" cy="133.2" r="1.2" fill="#c4632c"/><circle cx="1408.2" cy="148.5" r="1.0" fill="#3d4a58"/><circle cx="264.1" cy="131.7" r="1.1" fill="#c4632c"/><circle cx="724.3" cy="139.8" r="1.2" fill="#3d4a58"/><circle cx="1474.5" cy="146.4" r="1.0" fill="#3d4a58"/><circle cx="266.7" cy="133.0" r="1.1" fill="#3d4a58"/><circle cx="209.2" cy="148.2" r="1.6" fill="#c4632c"/><circle cx="1440.4" cy="136.4" r="1.1" fill="#c0602e"/><circle cx="1215.4" cy="148.5" r="1.6" fill="#3d4a58"/><circle cx="1640.9" cy="137.9" r="1.6" fill="#3d4a58"/><circle cx="531.5" cy="144.9" r="1.1" fill="#c0602e"/><circle cx="1180.9" cy="133.6" r="1.6" fill="#c0602e"/><circle cx="1554.1" cy="134.3" r="1.7" fill="#3d4a58"/><circle cx="972.8" cy="138.1" r="1.2" fill="#3d4a58"/><circle cx="1174.1" cy="132.0" r="1.2" fill="#c0602e"/><circle cx="584.5" cy="137.9" r="1.3" fill="#46525f"/><circle cx="217.9" cy="134.3" r="1.2" fill="#3d4a58"/><circle cx="643.3" cy="142.0" r="1.5" fill="#c0602e"/><circle cx="1755.3" cy="133.8" r="1.8" fill="#3d4a58"/><circle cx="1749.4" cy="132.5" r="1.2" fill="#3d4a58"/><circle cx="1517.8" cy="145.5" r="1.3" fill="#3d4a58"/><circle cx="1065.7" cy="135.7" r="1.3" fill="#46525f"/><circle cx="648.1" cy="136.1" r="1.1" fill="#c4632c"/><circle cx="1809.6" cy="146.4" r="1.0" fill="#c0602e"/><circle cx="697.5" cy="144.7" r="1.7" fill="#46525f"/><circle cx="1362.1" cy="138.9" r="1.6" fill="#3d4a58"/><circle cx="307.3" cy="131.3" r="1.3" fill="#c0602e"/><circle cx="235.4" cy="145.0" r="1.2" fill="#46525f"/><circle cx="693.2" cy="138.9" r="1.6" fill="#c0602e"/><circle cx="790.4" cy="138.4" r="1.5" fill="#3d4a58"/><circle cx="305.0" cy="138.5" r="1.1" fill="#3d4a58"/><circle cx="1675.9" cy="147.6" r="1.1" fill="#46525f"/><circle cx="961.9" cy="141.6" r="1.5" fill="#3d4a58"/><circle cx="1665.4" cy="142.4" r="1.3" fill="#3d4a58"/><circle cx="270.0" cy="137.4" r="1.6" fill="#3d4a58"/><circle cx="1453.5" cy="130.6" r="1.4" fill="#c4632c"/><circle cx="1388.3" cy="135.9" r="1.5" fill="#46525f"/><circle cx="853.6" cy="134.5" r="1.6" fill="#c0602e"/><circle cx="888.9" cy="136.3" r="1.7" fill="#3d4a58"/><circle cx="947.7" cy="140.3" r="1.2" fill="#3d4a58"/><circle cx="1462.0" cy="146.7" r="1.4" fill="#c0602e"/><circle cx="1854.6" cy="141.3" r="1.6" fill="#3d4a58"/><circle cx="829.6" cy="133.8" r="1.6" fill="#c4632c"/><circle cx="1780.2" cy="139.2" r="1.3" fill="#46525f"/><circle cx="565.2" cy="134.8" r="1.7" fill="#c0602e"/><circle cx="1379.5" cy="148.3" r="1.3" fill="#46525f"/><circle cx="428.5" cy="143.9" r="1.5" fill="#3d4a58"/><circle cx="1314.6" cy="131.1" r="1.7" fill="#3d4a58"/><circle cx="1160.3" cy="130.2" r="1.5" fill="#3d4a58"/><circle cx="1750.9" cy="147.8" r="1.2" fill="#3d4a58"/><circle cx="692.4" cy="146.5" r="1.2" fill="#3d4a58"/><circle cx="1238.4" cy="137.4" r="1.1" fill="#3d4a58"/><circle cx="527.4" cy="147.0" r="1.6" fill="#c0602e"/><circle cx="1514.9" cy="140.6" r="1.7" fill="#c4632c"/><circle cx="1286.5" cy="131.0" r="1.6" fill="#c4632c"/><circle cx="1593.7" cy="134.7" r="1.3" fill="#3d4a58"/><circle cx="1642.3" cy="132.5" r="1.6" fill="#46525f"/><circle cx="1335.0" cy="131.0" r="1.7" fill="#c4632c"/><circle cx="1713.5" cy="132.6" r="1.5" fill="#46525f"/><circle cx="201.4" cy="146.3" r="1.8" fill="#46525f"/><circle cx="1836.0" cy="138.8" r="1.6" fill="#c0602e"/><circle cx="1697.1" cy="134.0" r="1.3" fill="#3d4a58"/><circle cx="230.5" cy="132.2" r="1.7" fill="#3d4a58"/><circle cx="160.5" cy="136.9" r="1.1" fill="#46525f"/><circle cx="1462.8" cy="133.7" r="1.5" fill="#c0602e"/><circle cx="680.3" cy="138.9" r="1.2" fill="#c0602e"/><circle cx="1264.8" cy="146.7" r="1.3" fill="#c0602e"/><circle cx="741.8" cy="145.7" r="1.5" fill="#3d4a58"/><circle cx="306.7" cy="141.0" r="1.1" fill="#46525f"/><circle cx="926.0" cy="130.2" r="1.2" fill="#c4632c"/><circle cx="773.5" cy="136.8" r="1.5" fill="#3d4a58"/><circle cx="1148.4" cy="138.6" r="1.3" fill="#46525f"/><circle cx="1419.8" cy="138.0" r="1.1" fill="#3d4a58"/><circle cx="643.6" cy="139.6" r="1.1" fill="#3d4a58"/><circle cx="1558.9" cy="141.3" r="1.2" fill="#3d4a58"/><circle cx="1721.3" cy="148.6" r="1.1" fill="#c0602e"/><circle cx="1273.2" cy="131.4" r="1.2" fill="#c0602e"/><circle cx="663.2" cy="136.2" r="1.4" fill="#c4632c"/><circle cx="1483.0" cy="130.2" r="1.5" fill="#c4632c"/><circle cx="802.0" cy="145.6" r="1.1" fill="#c4632c"/><circle cx="1770.6" cy="140.3" r="1.7" fill="#3d4a58"/><circle cx="772.3" cy="147.3" r="1.4" fill="#c4632c"/><circle cx="1754.5" cy="145.9" r="1.4" fill="#c4632c"/><circle cx="1811.4" cy="140.5" r="1.1" fill="#c4632c"/><circle cx="911.6" cy="130.6" r="1.5" fill="#c4632c"/><circle cx="585.6" cy="135.2" r="1.2" fill="#c0602e"/><circle cx="1257.8" cy="131.0" r="1.6" fill="#3d4a58"/><circle cx="1757.9" cy="133.1" r="1.4" fill="#c4632c"/><circle cx="536.4" cy="145.4" r="1.5" fill="#c4632c"/><circle cx="1759.5" cy="133.8" r="1.6" fill="#46525f"/><circle cx="313.8" cy="138.6" r="1.6" fill="#46525f"/><circle cx="610.0" cy="145.7" r="1.0" fill="#46525f"/><circle cx="1832.3" cy="138.3" r="1.7" fill="#3d4a58"/><circle cx="1747.8" cy="140.5" r="1.1" fill="#c0602e"/><circle cx="951.1" cy="141.9" r="1.3" fill="#46525f"/><circle cx="1509.2" cy="134.6" r="1.2" fill="#c4632c"/><circle cx="1696.1" cy="136.7" r="1.2" fill="#c0602e"/><circle cx="408.7" cy="134.1" r="1.1" fill="#3d4a58"/><circle cx="1187.3" cy="132.3" r="1.1" fill="#3d4a58"/><circle cx="987.1" cy="138.2" r="1.4" fill="#46525f"/><circle cx="1833.6" cy="138.8" r="1.4" fill="#c4632c"/><circle cx="1040.4" cy="139.4" r="1.1" fill="#c4632c"/><circle cx="1390.4" cy="148.1" r="1.1" fill="#c0602e"/><circle cx="1450.0" cy="136.3" r="1.5" fill="#c0602e"/><circle cx="960.8" cy="145.6" r="1.0" fill="#46525f"/><circle cx="1660.1" cy="143.6" r="1.4" fill="#3d4a58"/><circle cx="1410.3" cy="142.7" r="1.5" fill="#c0602e"/><circle cx="398.8" cy="142.2" r="1.8" fill="#3d4a58"/><circle cx="378.5" cy="136.8" r="1.6" fill="#c0602e"/><circle cx="1187.8" cy="142.7" r="1.6" fill="#3d4a58"/><circle cx="398.7" cy="140.3" r="1.2" fill="#c4632c"/><circle cx="361.5" cy="146.9" r="1.5" fill="#3d4a58"/><circle cx="1581.9" cy="138.2" r="1.3" fill="#3d4a58"/><circle cx="1743.2" cy="136.5" r="1.6" fill="#46525f"/><circle cx="705.7" cy="147.5" r="1.3" fill="#3d4a58"/><circle cx="818.6" cy="141.4" r="1.0" fill="#3d4a58"/><circle cx="1570.0" cy="131.3" r="1.0" fill="#46525f"/><circle cx="1736.1" cy="135.4" r="1.1" fill="#c0602e"/><circle cx="1369.7" cy="130.4" r="1.2" fill="#c4632c"/><circle cx="1454.8" cy="132.6" r="1.2" fill="#3d4a58"/><circle cx="218.8" cy="134.9" r="1.8" fill="#3d4a58"/><circle cx="1116.6" cy="147.2" r="1.6" fill="#3d4a58"/><circle cx="384.4" cy="145.7" r="1.6" fill="#3d4a58"/><circle cx="1676.7" cy="137.2" r="1.5" fill="#3d4a58"/><circle cx="1404.2" cy="133.4" r="1.8" fill="#c4632c"/><circle cx="183.3" cy="131.0" r="1.0" fill="#3d4a58"/><circle cx="710.6" cy="143.0" r="1.1" fill="#c4632c"/><circle cx="408.9" cy="133.4" r="1.3" fill="#46525f"/><circle cx="1827.0" cy="133.7" r="1.8" fill="#3d4a58"/><circle cx="904.7" cy="137.3" r="1.4" fill="#3d4a58"/><circle cx="993.2" cy="130.5" r="1.1" fill="#c4632c"/><circle cx="1738.9" cy="144.8" r="1.4" fill="#3d4a58"/><circle cx="1246.4" cy="146.9" r="1.4" fill="#c0602e"/><circle cx="1723.6" cy="130.3" r="1.7" fill="#c0602e"/><circle cx="1207.8" cy="136.3" r="1.4" fill="#c0602e"/><circle cx="382.4" cy="130.9" r="1.4" fill="#46525f"/><circle cx="1018.1" cy="142.9" r="1.6" fill="#c4632c"/><circle cx="122.4" cy="145.0" r="1.8" fill="#46525f"/><circle cx="1650.9" cy="136.8" r="1.5" fill="#c4632c"/><circle cx="1439.7" cy="137.6" r="1.8" fill="#c0602e"/><circle cx="1804.7" cy="141.5" r="1.7" fill="#3d4a58"/><circle cx="461.4" cy="148.6" r="1.6" fill="#c4632c"/><circle cx="1548.4" cy="145.4" r="1.6" fill="#46525f"/><circle cx="693.3" cy="144.2" r="1.6" fill="#3d4a58"/><circle cx="727.0" cy="140.7" r="1.4" fill="#46525f"/><circle cx="614.7" cy="147.3" r="1.4" fill="#3d4a58"/><circle cx="1622.1" cy="130.9" r="1.6" fill="#c0602e"/><circle cx="1157.5" cy="147.0" r="1.4" fill="#46525f"/><circle cx="1397.1" cy="130.1" r="1.6" fill="#46525f"/><circle cx="301.3" cy="135.2" r="1.5" fill="#3d4a58"/><circle cx="906.4" cy="146.5" r="1.1" fill="#3d4a58"/><circle cx="931.0" cy="136.9" r="1.4" fill="#3d4a58"/><circle cx="1427.7" cy="134.0" r="1.2" fill="#3d4a58"/><circle cx="788.3" cy="147.2" r="1.8" fill="#46525f"/><circle cx="890.7" cy="140.7" r="1.4" fill="#3d4a58"/><circle cx="1685.7" cy="137.5" r="1.8" fill="#c0602e"/><circle cx="198.3" cy="145.6" r="1.0" fill="#3d4a58"/><circle cx="1912.7" cy="140.1" r="1.3" fill="#c4632c"/><circle cx="1663.4" cy="146.0" r="1.7" fill="#3d4a58"/><circle cx="174.5" cy="138.9" r="1.1" fill="#3d4a58"/><circle cx="1553.8" cy="146.5" r="1.4" fill="#c4632c"/><circle cx="967.6" cy="143.4" r="1.3" fill="#3d4a58"/><circle cx="1811.7" cy="133.5" r="1.5" fill="#c4632c"/><circle cx="1493.2" cy="142.1" r="1.2" fill="#46525f"/><circle cx="412.9" cy="146.9" r="1.4" fill="#c4632c"/><circle cx="1544.3" cy="134.7" r="1.2" fill="#3d4a58"/><circle cx="1763.7" cy="141.5" r="1.5" fill="#3d4a58"/><circle cx="1084.0" cy="146.0" r="1.2" fill="#c0602e"/><circle cx="871.7" cy="138.8" r="1.5" fill="#3d4a58"/><circle cx="1469.4" cy="134.3" r="1.4" fill="#c0602e"/><circle cx="1078.6" cy="133.7" r="1.1" fill="#3d4a58"/><circle cx="1358.6" cy="140.4" r="1.7" fill="#c0602e"/><circle cx="1779.2" cy="146.8" r="1.4" fill="#c0602e"/><circle cx="601.5" cy="136.9" r="1.4" fill="#46525f"/><circle cx="1886.9" cy="136.1" r="1.7" fill="#3d4a58"/><circle cx="783.2" cy="147.9" r="1.4" fill="#c4632c"/><circle cx="628.4" cy="136.2" r="1.4" fill="#46525f"/><circle cx="685.2" cy="130.5" r="1.4" fill="#c4632c"/><circle cx="1855.3" cy="138.5" r="1.5" fill="#3d4a58"/><circle cx="1839.8" cy="142.8" r="1.4" fill="#3d4a58"/><circle cx="1805.8" cy="133.7" r="1.3" fill="#c4632c"/><circle cx="1214.8" cy="135.6" r="1.6" fill="#c4632c"/><circle cx="1181.5" cy="137.9" r="1.4" fill="#c4632c"/><circle cx="488.5" cy="139.5" r="1.6" fill="#3d4a58"/><circle cx="545.8" cy="132.1" r="1.7" fill="#3d4a58"/><circle cx="1919.7" cy="142.7" r="1.2" fill="#3d4a58"/><circle cx="1888.4" cy="131.6" r="1.3" fill="#3d4a58"/><circle cx="1148.6" cy="130.2" r="1.3" fill="#c0602e"/><circle cx="1406.4" cy="140.0" r="1.0" fill="#c4632c"/><circle cx="483.0" cy="133.4" r="1.1" fill="#c4632c"/><circle cx="1810.4" cy="135.0" r="1.8" fill="#46525f"/><circle cx="1342.2" cy="137.2" r="1.1" fill="#3d4a58"/><circle cx="1625.3" cy="148.3" r="1.7" fill="#3d4a58"/><circle cx="1738.1" cy="139.6" r="1.3" fill="#c0602e"/><circle cx="1318.5" cy="147.8" r="1.8" fill="#3d4a58"/><circle cx="1248.4" cy="142.2" r="1.3" fill="#c4632c"/><circle cx="779.2" cy="132.5" r="1.2" fill="#3d4a58"/><circle cx="371.8" cy="133.0" r="1.1" fill="#c4632c"/><circle cx="1564.3" cy="132.3" r="1.4" fill="#3d4a58"/><circle cx="1159.5" cy="140.5" r="1.4" fill="#c0602e"/><circle cx="1479.1" cy="143.6" r="1.3" fill="#c4632c"/><circle cx="544.9" cy="144.2" r="1.7" fill="#c4632c"/><circle cx="764.5" cy="144.5" r="1.5" fill="#c0602e"/><circle cx="895.4" cy="138.9" r="1.2" fill="#3d4a58"/><circle cx="1333.4" cy="145.6" r="1.8" fill="#c0602e"/><circle cx="548.7" cy="130.7" r="1.2" fill="#c4632c"/><circle cx="586.8" cy="144.5" r="1.3" fill="#3d4a58"/><circle cx="257.5" cy="144.1" r="1.4" fill="#3d4a58"/><circle cx="1818.7" cy="134.6" r="1.1" fill="#c4632c"/><circle cx="900.2" cy="147.4" r="1.6" fill="#3d4a58"/><circle cx="894.5" cy="133.1" r="1.4" fill="#3d4a58"/><circle cx="1915.5" cy="143.7" r="1.7" fill="#c4632c"/><circle cx="1552.1" cy="135.3" r="1.3" fill="#3d4a58"/><circle cx="300.5" cy="143.9" r="1.4" fill="#c4632c"/><circle cx="419.9" cy="142.5" r="1.2" fill="#c0602e"/><circle cx="940.0" cy="134.5" r="1.0" fill="#c0602e"/><circle cx="519.4" cy="137.4" r="1.3" fill="#c4632c"/><circle cx="1089.8" cy="135.4" r="1.3" fill="#3d4a58"/><circle cx="598.5" cy="142.5" r="1.0" fill="#c4632c"/><circle cx="872.2" cy="145.8" r="1.1" fill="#3d4a58"/><circle cx="242.2" cy="140.2" r="1.7" fill="#3d4a58"/><circle cx="295.8" cy="139.4" r="1.2" fill="#c0602e"/><circle cx="294.5" cy="147.3" r="1.6" fill="#46525f"/><circle cx="645.3" cy="147.5" r="1.1" fill="#c0602e"/><circle cx="236.1" cy="138.2" r="1.6" fill="#3d4a58"/><circle cx="1166.2" cy="148.3" r="1.6" fill="#3d4a58"/><circle cx="1552.6" cy="131.4" r="1.2" fill="#3d4a58"/><circle cx="516.2" cy="147.7" r="1.3" fill="#3d4a58"/><circle cx="1379.8" cy="136.9" r="1.1" fill="#3d4a58"/><circle cx="910.8" cy="133.4" r="1.1" fill="#c4632c"/><circle cx="1435.5" cy="146.2" r="1.5" fill="#c4632c"/><circle cx="588.4" cy="132.2" r="1.1" fill="#c0602e"/><circle cx="516.2" cy="132.9" r="1.1" fill="#3d4a58"/><circle cx="671.0" cy="141.0" r="1.7" fill="#46525f"/><circle cx="1184.6" cy="148.1" r="1.4" fill="#46525f"/><circle cx="680.3" cy="133.8" r="1.1" fill="#3d4a58"/><circle cx="759.6" cy="140.5" r="1.5" fill="#c4632c"/><circle cx="1314.3" cy="132.4" r="1.3" fill="#3d4a58"/><circle cx="1322.8" cy="133.5" r="1.2" fill="#46525f"/><circle cx="330.4" cy="141.8" r="1.6" fill="#c0602e"/><circle cx="1055.7" cy="134.7" r="1.4" fill="#46525f"/><circle cx="1104.2" cy="135.5" r="1.7" fill="#3d4a58"/><circle cx="992.3" cy="143.7" r="1.6" fill="#c4632c"/><circle cx="1683.1" cy="143.3" r="1.3" fill="#c0602e"/><circle cx="1487.6" cy="143.7" r="1.7" fill="#c4632c"/><circle cx="1903.7" cy="138.1" r="1.5" fill="#3d4a58"/><circle cx="1376.2" cy="135.1" r="1.3" fill="#3d4a58"/><circle cx="859.5" cy="138.2" r="1.4" fill="#46525f"/><circle cx="1333.8" cy="148.1" r="1.3" fill="#c4632c"/><circle cx="973.5" cy="143.5" r="1.4" fill="#c4632c"/><circle cx="786.1" cy="135.0" r="1.0" fill="#c0602e"/><circle cx="352.7" cy="136.3" r="1.7" fill="#c0602e"/><circle cx="913.4" cy="137.9" r="1.1" fill="#3d4a58"/><circle cx="1281.3" cy="143.3" r="1.2" fill="#3d4a58"/><circle cx="1792.2" cy="145.9" r="1.0" fill="#3d4a58"/><circle cx="429.0" cy="131.0" r="1.2" fill="#c0602e"/><circle cx="1520.4" cy="137.0" r="1.1" fill="#3d4a58"/><circle cx="608.3" cy="139.5" r="1.8" fill="#46525f"/><circle cx="1910.0" cy="137.3" r="1.3" fill="#c4632c"/><circle cx="134.2" cy="137.0" r="1.3" fill="#3d4a58"/><circle cx="1350.8" cy="141.7" r="1.2" fill="#c4632c"/><circle cx="1168.5" cy="140.7" r="1.2" fill="#c4632c"/><circle cx="478.3" cy="146.0" r="1.2" fill="#c4632c"/><circle cx="1180.5" cy="140.7" r="1.1" fill="#3d4a58"/><circle cx="1154.4" cy="139.6" r="1.1" fill="#46525f"/><circle cx="951.6" cy="134.4" r="1.2" fill="#c0602e"/><circle cx="871.9" cy="136.8" r="1.1" fill="#c4632c"/><circle cx="1909.2" cy="134.5" r="1.2" fill="#c0602e"/><circle cx="1182.8" cy="137.1" r="1.4" fill="#3d4a58"/><circle cx="1115.2" cy="135.7" r="1.6" fill="#c0602e"/><circle cx="986.1" cy="148.5" r="1.5" fill="#3d4a58"/><circle cx="954.7" cy="141.2" r="1.6" fill="#c4632c"/><circle cx="1646.7" cy="140.3" r="1.1" fill="#c0602e"/><circle cx="1854.2" cy="148.3" r="1.8" fill="#c0602e"/><circle cx="1711.9" cy="135.8" r="1.6" fill="#c4632c"/><circle cx="236.8" cy="146.9" r="1.3" fill="#c4632c"/><circle cx="901.3" cy="139.5" r="1.7" fill="#3d4a58"/><circle cx="747.1" cy="136.9" r="1.1" fill="#c4632c"/><circle cx="1074.8" cy="132.1" r="1.7" fill="#3d4a58"/><circle cx="495.3" cy="146.4" r="1.7" fill="#3d4a58"/><circle cx="1209.6" cy="140.5" r="1.2" fill="#3d4a58"/><circle cx="267.7" cy="147.9" r="1.7" fill="#3d4a58"/><circle cx="780.2" cy="148.4" r="1.1" fill="#3d4a58"/><circle cx="1340.7" cy="132.1" r="1.3" fill="#c4632c"/><circle cx="1855.5" cy="136.7" r="1.0" fill="#c0602e"/><circle cx="1931.2" cy="133.7" r="1.4" fill="#46525f"/><circle cx="852.7" cy="134.4" r="1.1" fill="#c0602e"/><circle cx="1782.7" cy="145.2" r="1.0" fill="#3d4a58"/><circle cx="513.9" cy="148.0" r="1.5" fill="#c0602e"/><circle cx="1018.6" cy="138.8" r="1.4" fill="#c4632c"/><circle cx="236.8" cy="133.3" r="1.2" fill="#c4632c"/><circle cx="1287.1" cy="132.5" r="1.6" fill="#46525f"/><circle cx="1312.8" cy="146.3" r="1.4" fill="#3d4a58"/><circle cx="357.9" cy="139.0" r="1.1" fill="#46525f"/><circle cx="612.2" cy="135.6" r="1.4" fill="#c4632c"/><circle cx="1236.4" cy="144.6" r="1.7" fill="#46525f"/><circle cx="1336.8" cy="143.9" r="1.5" fill="#3d4a58"/><circle cx="1484.7" cy="136.8" r="1.4" fill="#c0602e"/><circle cx="412.7" cy="131.1" r="1.1" fill="#3d4a58"/><circle cx="1250.9" cy="141.1" r="1.6" fill="#46525f"/><circle cx="601.0" cy="145.8" r="1.7" fill="#c4632c"/><circle cx="1842.1" cy="130.4" r="1.7" fill="#46525f"/><circle cx="914.9" cy="145.5" r="1.4" fill="#c0602e"/><circle cx="1683.6" cy="133.8" r="1.5" fill="#3d4a58"/><circle cx="353.7" cy="137.0" r="1.0" fill="#3d4a58"/><circle cx="1423.5" cy="130.9" r="1.5" fill="#3d4a58"/><circle cx="661.3" cy="143.7" r="1.7" fill="#3d4a58"/><circle cx="1915.4" cy="138.2" r="1.4" fill="#3d4a58"/><circle cx="124.0" cy="131.1" r="1.2" fill="#3d4a58"/><circle cx="280.5" cy="147.3" r="1.4" fill="#46525f"/><circle cx="1207.2" cy="146.5" r="1.6" fill="#c0602e"/><circle cx="958.5" cy="144.7" r="1.7" fill="#c0602e"/><circle cx="1823.7" cy="134.1" r="1.6" fill="#3d4a58"/><circle cx="1626.8" cy="134.6" r="1.3" fill="#3d4a58"/><circle cx="521.8" cy="134.1" r="1.4" fill="#3d4a58"/><circle cx="747.3" cy="139.1" r="1.6" fill="#46525f"/><circle cx="1470.2" cy="146.4" r="1.3" fill="#3d4a58"/><circle cx="405.1" cy="139.3" r="1.1" fill="#c0602e"/><circle cx="1505.2" cy="137.9" r="1.4" fill="#c4632c"/><circle cx="1036.4" cy="144.7" r="1.5" fill="#c4632c"/><circle cx="566.7" cy="140.7" r="1.2" fill="#3d4a58"/><circle cx="748.4" cy="132.3" r="1.3" fill="#3d4a58"/><circle cx="1167.1" cy="134.1" r="1.6" fill="#c0602e"/><circle cx="1701.6" cy="135.7" r="1.4" fill="#c4632c"/><circle cx="1208.7" cy="141.7" r="1.6" fill="#c4632c"/><circle cx="423.3" cy="142.6" r="1.6" fill="#3d4a58"/><circle cx="1348.2" cy="145.2" r="1.7" fill="#c0602e"/><circle cx="1412.4" cy="138.2" r="1.1" fill="#3d4a58"/><circle cx="427.6" cy="146.8" r="1.2" fill="#3d4a58"/><circle cx="1691.1" cy="137.3" r="1.1" fill="#c4632c"/><circle cx="1427.9" cy="145.7" r="1.4" fill="#c4632c"/><circle cx="1092.6" cy="138.2" r="1.4" fill="#46525f"/><circle cx="294.4" cy="148.3" r="1.4" fill="#c4632c"/><circle cx="1733.0" cy="142.1" r="1.4" fill="#3d4a58"/><circle cx="510.1" cy="144.6" r="1.5" fill="#3d4a58"/><circle cx="1196.0" cy="147.6" r="1.5" fill="#c4632c"/><circle cx="790.4" cy="139.0" r="1.8" fill="#3d4a58"/><circle cx="400.9" cy="135.7" r="1.4" fill="#3d4a58"/><circle cx="1448.2" cy="131.9" r="1.7" fill="#46525f"/><circle cx="205.9" cy="134.6" r="1.2" fill="#3d4a58"/><circle cx="1631.0" cy="134.9" r="1.2" fill="#c4632c"/><circle cx="660.2" cy="138.6" r="1.2" fill="#3d4a58"/><circle cx="1712.6" cy="137.7" r="1.7" fill="#c4632c"/><circle cx="322.3" cy="144.0" r="1.6" fill="#c0602e"/><circle cx="1534.2" cy="148.6" r="1.3" fill="#c4632c"/><circle cx="684.4" cy="137.3" r="1.3" fill="#46525f"/><circle cx="682.7" cy="131.4" r="1.6" fill="#46525f"/><circle cx="1345.7" cy="140.9" r="1.7" fill="#46525f"/><circle cx="980.3" cy="133.3" r="1.7" fill="#c0602e"/><circle cx="1607.9" cy="133.9" r="1.4" fill="#3d4a58"/><circle cx="953.7" cy="140.7" r="1.8" fill="#c4632c"/><circle cx="1039.7" cy="132.2" r="1.7" fill="#3d4a58"/><circle cx="898.3" cy="130.2" r="1.5" fill="#3d4a58"/><circle cx="1264.3" cy="145.8" r="1.7" fill="#c0602e"/><circle cx="1706.0" cy="138.1" r="1.1" fill="#c4632c"/><circle cx="829.4" cy="130.0" r="1.0" fill="#3d4a58"/><circle cx="917.8" cy="136.1" r="1.2" fill="#46525f"/><circle cx="237.6" cy="130.9" r="1.2" fill="#3d4a58"/><circle cx="1553.0" cy="135.7" r="1.6" fill="#46525f"/><circle cx="409.5" cy="131.7" r="1.8" fill="#3d4a58"/><circle cx="658.2" cy="144.6" r="1.6" fill="#3d4a58"/><circle cx="1235.4" cy="141.9" r="1.7" fill="#c0602e"/><circle cx="328.4" cy="138.7" r="1.8" fill="#c0602e"/><circle cx="811.2" cy="138.1" r="1.3" fill="#c4632c"/><circle cx="477.8" cy="139.0" r="1.3" fill="#c0602e"/><circle cx="1488.7" cy="135.2" r="1.5" fill="#3d4a58"/><circle cx="1300.0" cy="134.9" r="1.1" fill="#c4632c"/><circle cx="823.4" cy="141.4" r="1.1" fill="#3d4a58"/><circle cx="1059.0" cy="138.0" r="1.7" fill="#3d4a58"/><circle cx="547.3" cy="140.5" r="1.1" fill="#c0602e"/><circle cx="1231.3" cy="142.4" r="1.7" fill="#3d4a58"/><circle cx="914.5" cy="144.3" r="1.7" fill="#3d4a58"/><circle cx="312.7" cy="135.6" r="1.6" fill="#3d4a58"/><circle cx="776.7" cy="144.9" r="1.0" fill="#3d4a58"/><circle cx="389.0" cy="134.2" r="1.7" fill="#3d4a58"/><circle cx="1120.0" cy="141.3" r="1.1" fill="#3d4a58"/><circle cx="1608.5" cy="137.8" r="1.5" fill="#3d4a58"/><circle cx="683.2" cy="148.0" r="1.6" fill="#46525f"/><circle cx="291.6" cy="147.7" r="1.2" fill="#c0602e"/><circle cx="220.3" cy="132.1" r="1.1" fill="#c0602e"/><circle cx="1376.3" cy="141.0" r="1.5" fill="#3d4a58"/><circle cx="640.7" cy="140.7" r="1.2" fill="#3d4a58"/><circle cx="1179.9" cy="135.6" r="1.5" fill="#3d4a58"/><circle cx="1040.6" cy="131.8" r="1.4" fill="#46525f"/><circle cx="530.6" cy="132.1" r="1.7" fill="#46525f"/><circle cx="644.1" cy="135.8" r="1.3" fill="#c4632c"/><circle cx="1738.5" cy="135.1" r="1.7" fill="#46525f"/><circle cx="1916.2" cy="147.6" r="1.8" fill="#3d4a58"/><circle cx="1672.7" cy="145.0" r="1.8" fill="#c4632c"/><circle cx="1292.8" cy="145.1" r="1.0" fill="#46525f"/><circle cx="582.4" cy="143.2" r="1.2" fill="#3d4a58"/><circle cx="1235.5" cy="133.6" r="1.1" fill="#c0602e"/><circle cx="1298.2" cy="135.6" r="1.1" fill="#3d4a58"/><circle cx="1282.5" cy="139.9" r="1.0" fill="#c0602e"/><circle cx="461.8" cy="148.0" r="1.5" fill="#c0602e"/><circle cx="470.2" cy="142.5" r="1.6" fill="#46525f"/><circle cx="1297.4" cy="137.5" r="1.3" fill="#46525f"/><circle cx="834.2" cy="137.3" r="1.8" fill="#c4632c"/><circle cx="1528.9" cy="148.6" r="1.0" fill="#c0602e"/><circle cx="262.5" cy="142.8" r="1.6" fill="#3d4a58"/><circle cx="1822.2" cy="145.6" r="1.7" fill="#3d4a58"/><circle cx="949.8" cy="136.2" r="1.3" fill="#46525f"/><circle cx="1568.0" cy="145.8" r="1.5" fill="#46525f"/><circle cx="423.9" cy="132.9" r="1.4" fill="#46525f"/><circle cx="984.7" cy="146.2" r="1.1" fill="#46525f"/><circle cx="1419.0" cy="134.2" r="1.8" fill="#3d4a58"/><circle cx="639.3" cy="131.5" r="1.3" fill="#c4632c"/><circle cx="136.0" cy="138.1" r="1.4" fill="#c0602e"/><circle cx="915.8" cy="141.8" r="1.1" fill="#3d4a58"/><circle cx="1834.6" cy="137.5" r="1.0" fill="#c4632c"/><circle cx="295.2" cy="143.3" r="1.5" fill="#46525f"/><circle cx="278.3" cy="138.4" r="1.8" fill="#c4632c"/><circle cx="791.5" cy="148.5" r="1.6" fill="#3d4a58"/><circle cx="1189.4" cy="141.8" r="1.6" fill="#46525f"/><circle cx="1379.8" cy="140.3" r="1.1" fill="#c0602e"/><circle cx="1096.4" cy="135.0" r="1.1" fill="#c0602e"/><circle cx="277.8" cy="148.4" r="1.5" fill="#3d4a58"/><circle cx="1791.9" cy="145.2" r="1.5" fill="#46525f"/><circle cx="200.3" cy="139.4" r="1.1" fill="#46525f"/><circle cx="720.6" cy="143.2" r="1.5" fill="#3d4a58"/><circle cx="1819.9" cy="144.5" r="1.4" fill="#c0602e"/><circle cx="964.1" cy="140.6" r="1.6" fill="#3d4a58"/><circle cx="433.0" cy="132.1" r="1.2" fill="#c4632c"/><circle cx="494.5" cy="142.5" r="1.8" fill="#c4632c"/><circle cx="1928.0" cy="138.3" r="1.5" fill="#3d4a58"/><circle cx="429.7" cy="148.2" r="1.4" fill="#c4632c"/><circle cx="236.4" cy="130.6" r="1.6" fill="#c0602e"/><circle cx="1031.6" cy="131.6" r="1.7" fill="#c4632c"/><circle cx="1533.2" cy="141.0" r="1.3" fill="#c4632c"/><circle cx="1261.3" cy="137.8" r="1.5" fill="#3d4a58"/><circle cx="1033.8" cy="136.0" r="1.6" fill="#46525f"/><circle cx="898.7" cy="134.1" r="1.0" fill="#3d4a58"/><circle cx="1646.9" cy="146.0" r="1.6" fill="#c0602e"/><circle cx="1872.3" cy="145.7" r="1.3" fill="#46525f"/><circle cx="688.4" cy="147.9" r="1.3" fill="#3d4a58"/><circle cx="1858.9" cy="139.3" r="1.3" fill="#46525f"/><circle cx="1009.4" cy="137.6" r="1.4" fill="#3d4a58"/><circle cx="900.7" cy="139.4" r="1.1" fill="#3d4a58"/><circle cx="1204.4" cy="146.3" r="1.0" fill="#3d4a58"/><circle cx="1712.9" cy="142.4" r="1.5" fill="#3d4a58"/><circle cx="119.1" cy="138.9" r="1.3" fill="#c4632c"/><circle cx="966.7" cy="131.9" r="1.5" fill="#46525f"/><circle cx="717.9" cy="140.2" r="1.3" fill="#46525f"/><circle cx="1728.5" cy="144.9" r="1.3" fill="#3d4a58"/><circle cx="1720.6" cy="141.9" r="1.8" fill="#46525f"/><circle cx="1248.4" cy="138.9" r="1.0" fill="#46525f"/><circle cx="640.9" cy="142.5" r="1.3" fill="#c4632c"/><circle cx="1709.0" cy="131.1" r="1.0" fill="#c4632c"/><circle cx="1293.7" cy="145.0" r="1.6" fill="#c4632c"/><circle cx="1637.8" cy="143.9" r="1.8" fill="#46525f"/><circle cx="1514.9" cy="141.5" r="1.8" fill="#c4632c"/><circle cx="1532.1" cy="147.8" r="1.4" fill="#c4632c"/><circle cx="1727.1" cy="147.8" r="1.6" fill="#c4632c"/><circle cx="432.5" cy="140.4" r="1.7" fill="#3d4a58"/><circle cx="147.9" cy="135.1" r="1.0" fill="#c0602e"/><circle cx="336.4" cy="145.7" r="1.3" fill="#3d4a58"/><circle cx="1111.0" cy="147.4" r="1.3" fill="#3d4a58"/><circle cx="243.4" cy="137.1" r="1.4" fill="#3d4a58"/><circle cx="187.6" cy="146.4" r="1.4" fill="#c0602e"/><circle cx="374.6" cy="145.3" r="1.2" fill="#3d4a58"/><circle cx="1824.0" cy="145.2" r="1.7" fill="#c4632c"/><circle cx="212.7" cy="147.1" r="1.1" fill="#3d4a58"/><circle cx="1508.9" cy="144.5" r="1.7" fill="#46525f"/><circle cx="1906.3" cy="136.1" r="1.7" fill="#c4632c"/><circle cx="684.6" cy="142.8" r="1.7" fill="#c4632c"/><circle cx="1145.7" cy="135.2" r="1.5" fill="#3d4a58"/><circle cx="447.9" cy="141.5" r="1.7" fill="#3d4a58"/><circle cx="555.0" cy="143.0" r="1.2" fill="#3d4a58"/><circle cx="671.4" cy="130.1" r="1.1" fill="#3d4a58"/><circle cx="626.9" cy="144.4" r="1.6" fill="#c0602e"/><circle cx="1097.5" cy="138.3" r="1.3" fill="#3d4a58"/><circle cx="1715.3" cy="133.0" r="1.7" fill="#3d4a58"/><circle cx="126.2" cy="147.0" r="1.1" fill="#c0602e"/><circle cx="563.3" cy="142.4" r="1.5" fill="#c0602e"/><circle cx="326.4" cy="137.4" r="1.2" fill="#c4632c"/><circle cx="1549.4" cy="143.4" r="1.4" fill="#c0602e"/><circle cx="1386.9" cy="132.4" r="1.1" fill="#c0602e"/><circle cx="875.8" cy="135.5" r="1.2" fill="#3d4a58"/><circle cx="706.1" cy="135.3" r="1.2" fill="#c0602e"/><circle cx="1247.0" cy="131.7" r="1.4" fill="#3d4a58"/><circle cx="1145.6" cy="146.1" r="1.4" fill="#3d4a58"/><circle cx="833.0" cy="134.3" r="1.4" fill="#c4632c"/><circle cx="461.3" cy="130.1" r="1.7" fill="#c0602e"/><circle cx="1869.0" cy="136.4" r="1.4" fill="#3d4a58"/><circle cx="1430.6" cy="131.6" r="1.5" fill="#c0602e"/><circle cx="674.0" cy="139.6" r="1.3" fill="#3d4a58"/><circle cx="1625.4" cy="135.4" r="1.4" fill="#46525f"/><circle cx="1869.2" cy="132.6" r="1.5" fill="#3d4a58"/><circle cx="1701.9" cy="137.7" r="1.2" fill="#3d4a58"/><circle cx="1090.0" cy="139.3" r="1.3" fill="#c4632c"/><circle cx="150.7" cy="148.6" r="1.6" fill="#c4632c"/><circle cx="1355.9" cy="131.7" r="1.2" fill="#c4632c"/><circle cx="483.1" cy="136.9" r="1.5" fill="#c0602e"/><circle cx="779.3" cy="132.0" r="1.2" fill="#3d4a58"/><circle cx="323.1" cy="144.0" r="1.5" fill="#c0602e"/><circle cx="1152.1" cy="141.8" r="1.8" fill="#c4632c"/><circle cx="1189.6" cy="140.1" r="1.3" fill="#c0602e"/><circle cx="815.6" cy="148.7" r="1.0" fill="#c0602e"/><circle cx="1023.2" cy="139.6" r="1.7" fill="#3d4a58"/><circle cx="216.5" cy="135.6" r="1.7" fill="#3d4a58"/><circle cx="544.2" cy="144.6" r="1.7" fill="#c0602e"/><circle cx="859.0" cy="131.4" r="1.1" fill="#3d4a58"/><circle cx="491.0" cy="131.7" r="1.7" fill="#c4632c"/><circle cx="1606.3" cy="135.6" r="1.1" fill="#3d4a58"/><circle cx="705.0" cy="138.0" r="1.0" fill="#3d4a58"/><circle cx="1000.5" cy="130.6" r="1.5" fill="#c0602e"/><circle cx="622.1" cy="138.3" r="1.2" fill="#c4632c"/><circle cx="965.3" cy="133.0" r="1.8" fill="#c0602e"/><circle cx="1753.7" cy="144.2" r="1.5" fill="#c4632c"/><circle cx="1304.4" cy="137.3" r="1.1" fill="#46525f"/><circle cx="666.7" cy="136.8" r="1.4" fill="#3d4a58"/><circle cx="1276.5" cy="131.9" r="1.3" fill="#3d4a58"/><circle cx="1241.4" cy="136.0" r="1.4" fill="#3d4a58"/><circle cx="1694.8" cy="144.6" r="1.2" fill="#3d4a58"/><circle cx="536.8" cy="143.2" r="1.2" fill="#3d4a58"/><circle cx="1267.1" cy="140.5" r="1.5" fill="#c0602e"/><circle cx="1598.1" cy="148.4" r="1.1" fill="#c0602e"/><circle cx="1689.0" cy="140.8" r="1.5" fill="#3d4a58"/><circle cx="1374.4" cy="141.8" r="1.4" fill="#3d4a58"/><circle cx="906.2" cy="142.1" r="1.6" fill="#46525f"/><circle cx="1004.6" cy="130.7" r="1.3" fill="#c4632c"/><circle cx="1529.0" cy="143.0" r="1.5" fill="#3d4a58"/><circle cx="1504.8" cy="141.9" r="1.6" fill="#c0602e"/><circle cx="1250.0" cy="145.8" r="1.4" fill="#3d4a58"/><circle cx="1202.1" cy="143.6" r="1.8" fill="#c4632c"/><circle cx="838.7" cy="130.4" r="1.3" fill="#3d4a58"/><circle cx="1441.8" cy="140.8" r="1.3" fill="#c4632c"/><circle cx="633.4" cy="137.0" r="1.1" fill="#46525f"/><circle cx="289.5" cy="134.7" r="1.3" fill="#46525f"/><circle cx="1283.2" cy="138.5" r="1.6" fill="#3d4a58"/><circle cx="1349.1" cy="147.2" r="1.2" fill="#3d4a58"/><circle cx="1842.2" cy="147.9" r="1.2" fill="#3d4a58"/><circle cx="531.6" cy="144.6" r="1.2" fill="#c0602e"/><circle cx="736.8" cy="143.6" r="1.2" fill="#3d4a58"/><circle cx="1047.4" cy="147.8" r="1.2" fill="#c4632c"/><circle cx="326.4" cy="136.9" r="1.4" fill="#3d4a58"/><circle cx="891.5" cy="131.6" r="1.4" fill="#c0602e"/><circle cx="780.3" cy="139.7" r="1.3" fill="#3d4a58"/><circle cx="1784.7" cy="144.8" r="1.1" fill="#46525f"/><circle cx="1021.9" cy="147.1" r="1.7" fill="#c4632c"/><circle cx="1221.2" cy="131.8" r="1.7" fill="#c4632c"/><circle cx="175.2" cy="143.1" r="1.1" fill="#c4632c"/><circle cx="1352.9" cy="139.2" r="1.3" fill="#c0602e"/><circle cx="219.2" cy="142.4" r="1.3" fill="#c4632c"/><circle cx="1902.2" cy="133.5" r="1.0" fill="#3d4a58"/><circle cx="613.0" cy="132.2" r="1.4" fill="#c4632c"/><circle cx="1730.1" cy="147.8" r="1.4" fill="#3d4a58"/><circle cx="384.5" cy="137.0" r="1.2" fill="#3d4a58"/><circle cx="1506.1" cy="138.8" r="1.3" fill="#c0602e"/><circle cx="838.3" cy="147.9" r="1.0" fill="#3d4a58"/><circle cx="1008.4" cy="139.1" r="1.4" fill="#c4632c"/><circle cx="1827.0" cy="132.2" r="1.6" fill="#c0602e"/><circle cx="1477.8" cy="141.2" r="1.3" fill="#3d4a58"/><circle cx="386.3" cy="133.6" r="1.6" fill="#46525f"/><circle cx="691.7" cy="142.8" r="1.1" fill="#c0602e"/><circle cx="1098.3" cy="135.6" r="1.6" fill="#c0602e"/><circle cx="956.4" cy="135.1" r="1.2" fill="#3d4a58"/><circle cx="1106.1" cy="130.5" r="1.1" fill="#c0602e"/><circle cx="485.7" cy="136.4" r="1.3" fill="#46525f"/><circle cx="1887.2" cy="147.7" r="1.4" fill="#3d4a58"/><circle cx="1653.5" cy="130.8" r="1.0" fill="#c4632c"/><circle cx="1795.4" cy="138.2" r="1.5" fill="#46525f"/><circle cx="574.7" cy="147.1" r="1.7" fill="#c0602e"/><circle cx="606.4" cy="130.8" r="1.4" fill="#c4632c"/><circle cx="491.1" cy="146.1" r="1.1" fill="#c4632c"/><circle cx="1747.8" cy="142.4" r="1.2" fill="#46525f"/><circle cx="999.8" cy="136.8" r="1.3" fill="#3d4a58"/><circle cx="1383.3" cy="139.5" r="1.4" fill="#3d4a58"/><circle cx="1177.8" cy="145.9" r="1.3" fill="#3d4a58"/><circle cx="361.6" cy="144.4" r="1.1" fill="#c4632c"/><circle cx="1046.3" cy="145.0" r="1.4" fill="#c4632c"/><circle cx="1808.7" cy="135.2" r="1.2" fill="#3d4a58"/><circle cx="950.8" cy="142.1" r="1.1" fill="#46525f"/><circle cx="1662.6" cy="140.0" r="1.8" fill="#c4632c"/><circle cx="505.7" cy="130.3" r="1.2" fill="#3d4a58"/><circle cx="529.9" cy="130.9" r="1.0" fill="#c4632c"/><circle cx="1789.9" cy="139.1" r="1.6" fill="#c4632c"/><circle cx="663.0" cy="143.6" r="1.1" fill="#c4632c"/><circle cx="1354.0" cy="138.7" r="1.1" fill="#c0602e"/><circle cx="740.2" cy="145.4" r="1.8" fill="#3d4a58"/><circle cx="329.3" cy="133.9" r="1.1" fill="#3d4a58"/><circle cx="1474.8" cy="136.3" r="1.6" fill="#46525f"/><circle cx="1053.0" cy="140.5" r="1.5" fill="#3d4a58"/><circle cx="1185.6" cy="139.2" r="1.5" fill="#c0602e"/><circle cx="348.7" cy="138.0" r="1.1" fill="#c0602e"/><circle cx="551.1" cy="139.7" r="1.3" fill="#46525f"/><circle cx="890.9" cy="136.9" r="1.1" fill="#46525f"/><circle cx="144.8" cy="143.5" r="1.4" fill="#c0602e"/><circle cx="432.5" cy="132.2" r="1.2" fill="#3d4a58"/><circle cx="141.9" cy="146.3" r="1.7" fill="#3d4a58"/><circle cx="1339.9" cy="147.0" r="1.7" fill="#c4632c"/><circle cx="552.7" cy="134.8" r="1.4" fill="#c0602e"/><circle cx="326.4" cy="133.5" r="1.1" fill="#3d4a58"/><circle cx="1194.6" cy="148.4" r="1.7" fill="#c0602e"/><circle cx="1876.0" cy="137.9" r="1.1" fill="#c4632c"/><circle cx="1586.3" cy="142.4" r="1.6" fill="#c0602e"/><circle cx="1818.7" cy="144.3" r="1.1" fill="#c4632c"/><circle cx="1185.2" cy="137.9" r="1.4" fill="#c4632c"/><circle cx="1421.0" cy="148.7" r="1.2" fill="#46525f"/><circle cx="737.6" cy="140.7" r="1.1" fill="#3d4a58"/><circle cx="1227.7" cy="145.8" r="1.3" fill="#46525f"/><circle cx="1833.1" cy="147.8" r="1.7" fill="#3d4a58"/><circle cx="148.4" cy="134.7" r="1.1" fill="#46525f"/><circle cx="1024.4" cy="145.8" r="1.1" fill="#c0602e"/><circle cx="1134.1" cy="133.2" r="1.4" fill="#3d4a58"/><circle cx="384.9" cy="148.3" r="1.2" fill="#3d4a58"/><circle cx="1180.3" cy="135.2" r="1.2" fill="#c4632c"/><circle cx="1390.2" cy="134.0" r="1.1" fill="#46525f"/><circle cx="464.1" cy="132.5" r="1.6" fill="#c4632c"/><circle cx="429.6" cy="145.3" r="1.3" fill="#3d4a58"/><circle cx="978.7" cy="137.4" r="1.7" fill="#3d4a58"/><circle cx="888.4" cy="147.2" r="1.1" fill="#3d4a58"/><circle cx="1781.8" cy="136.2" r="1.3" fill="#c4632c"/><circle cx="608.2" cy="132.5" r="1.8" fill="#3d4a58"/><circle cx="1604.4" cy="139.6" r="1.2" fill="#46525f"/><circle cx="436.3" cy="136.3" r="1.2" fill="#46525f"/><circle cx="1340.1" cy="144.0" r="1.1" fill="#c4632c"/><circle cx="587.0" cy="134.0" r="1.4" fill="#3d4a58"/><circle cx="708.8" cy="134.6" r="1.7" fill="#3d4a58"/><circle cx="1546.8" cy="142.7" r="1.6" fill="#3d4a58"/><circle cx="1724.6" cy="142.2" r="1.5" fill="#3d4a58"/><circle cx="155.6" cy="140.6" r="1.1" fill="#46525f"/><circle cx="1259.0" cy="146.2" r="1.2" fill="#c4632c"/><circle cx="1900.7" cy="144.1" r="1.4" fill="#3d4a58"/><circle cx="1658.4" cy="135.7" r="1.3" fill="#3d4a58"/><circle cx="1533.2" cy="144.6" r="1.2" fill="#46525f"/><circle cx="297.4" cy="133.7" r="1.5" fill="#46525f"/><circle cx="1354.9" cy="135.3" r="1.5" fill="#3d4a58"/><circle cx="540.1" cy="144.6" r="1.5" fill="#3d4a58"/><circle cx="750.9" cy="133.5" r="1.3" fill="#c0602e"/><circle cx="603.8" cy="141.7" r="1.4" fill="#46525f"/><circle cx="440.9" cy="146.3" r="1.4" fill="#3d4a58"/><circle cx="169.8" cy="136.9" r="1.4" fill="#46525f"/><circle cx="1121.6" cy="143.6" r="1.4" fill="#46525f"/><circle cx="190.3" cy="145.5" r="1.5" fill="#3d4a58"/><circle cx="1636.8" cy="130.5" r="1.6" fill="#3d4a58"/><circle cx="348.5" cy="135.5" r="1.4" fill="#3d4a58"/><circle cx="401.4" cy="146.7" r="1.4" fill="#c4632c"/><circle cx="651.3" cy="133.3" r="1.1" fill="#c0602e"/><circle cx="846.5" cy="132.4" r="1.1" fill="#c0602e"/><circle cx="703.8" cy="134.5" r="1.6" fill="#3d4a58"/><circle cx="273.9" cy="136.2" r="1.7" fill="#c0602e"/><circle cx="1789.9" cy="144.3" r="1.4" fill="#46525f"/><circle cx="1256.4" cy="146.2" r="1.2" fill="#46525f"/><circle cx="291.3" cy="146.4" r="1.7" fill="#3d4a58"/><circle cx="148.4" cy="131.8" r="1.6" fill="#c4632c"/><circle cx="1561.9" cy="144.9" r="1.3" fill="#3d4a58"/><circle cx="378.7" cy="144.2" r="1.3" fill="#3d4a58"/><circle cx="738.8" cy="132.9" r="1.4" fill="#c0602e"/><circle cx="1592.0" cy="136.4" r="1.6" fill="#3d4a58"/><circle cx="298.3" cy="135.9" r="1.3" fill="#3d4a58"/><circle cx="1376.0" cy="137.5" r="1.6" fill="#3d4a58"/><circle cx="1124.6" cy="136.8" r="1.1" fill="#3d4a58"/><circle cx="242.0" cy="146.2" r="1.6" fill="#3d4a58"/><circle cx="1309.5" cy="138.1" r="1.6" fill="#3d4a58"/><circle cx="1076.6" cy="140.4" r="1.1" fill="#46525f"/><circle cx="1776.6" cy="140.1" r="1.7" fill="#c4632c"/><circle cx="301.3" cy="132.6" r="1.5" fill="#c0602e"/><circle cx="1582.2" cy="143.0" r="1.0" fill="#c4632c"/><circle cx="133.4" cy="134.4" r="1.3" fill="#c4632c"/><circle cx="1715.8" cy="132.8" r="1.7" fill="#46525f"/><circle cx="1495.6" cy="140.8" r="1.6" fill="#c0602e"/><circle cx="122.5" cy="145.6" r="1.5" fill="#c4632c"/><circle cx="667.6" cy="143.7" r="1.7" fill="#c0602e"/><circle cx="177.4" cy="138.2" r="1.5" fill="#c4632c"/><circle cx="934.2" cy="140.5" r="1.3" fill="#46525f"/><circle cx="1299.0" cy="143.3" r="1.4" fill="#c0602e"/><circle cx="1115.5" cy="130.2" r="1.6" fill="#c0602e"/><circle cx="1612.6" cy="137.0" r="1.5" fill="#3d4a58"/><circle cx="196.4" cy="132.3" r="1.1" fill="#3d4a58"/><circle cx="842.4" cy="134.4" r="1.5" fill="#c0602e"/><circle cx="923.4" cy="140.1" r="1.7" fill="#46525f"/><circle cx="1169.7" cy="139.9" r="1.3" fill="#46525f"/><circle cx="1889.4" cy="147.9" r="1.7" fill="#c4632c"/><circle cx="251.0" cy="132.3" r="1.6" fill="#3d4a58"/><circle cx="1100.9" cy="147.2" r="1.8" fill="#c4632c"/><circle cx="517.4" cy="134.1" r="1.3" fill="#3d4a58"/><circle cx="635.3" cy="130.3" r="1.2" fill="#c0602e"/><circle cx="1340.3" cy="140.5" r="1.6" fill="#46525f"/><circle cx="1498.0" cy="140.7" r="1.4" fill="#c4632c"/><circle cx="958.2" cy="135.3" r="1.1" fill="#3d4a58"/><circle cx="1838.1" cy="136.0" r="1.7" fill="#46525f"/><circle cx="1667.5" cy="145.3" r="1.7" fill="#c0602e"/><circle cx="534.4" cy="136.9" r="1.8" fill="#46525f"/><circle cx="316.5" cy="130.1" r="1.7" fill="#3d4a58"/><circle cx="819.0" cy="144.1" r="1.3" fill="#3d4a58"/><circle cx="1420.0" cy="145.3" r="1.1" fill="#c4632c"/><circle cx="1871.6" cy="141.0" r="1.4" fill="#3d4a58"/><circle cx="1903.1" cy="135.9" r="1.7" fill="#c4632c"/><circle cx="303.1" cy="137.0" r="1.4" fill="#c0602e"/><circle cx="1855.6" cy="134.7" r="1.1" fill="#3d4a58"/><circle cx="1084.7" cy="143.0" r="1.1" fill="#3d4a58"/><circle cx="1125.5" cy="143.3" r="1.7" fill="#c0602e"/><circle cx="581.3" cy="145.4" r="1.3" fill="#3d4a58"/><circle cx="158.6" cy="135.5" r="1.3" fill="#3d4a58"/><circle cx="1172.9" cy="134.4" r="1.5" fill="#46525f"/><circle cx="287.0" cy="147.2" r="1.4" fill="#3d4a58"/><circle cx="577.7" cy="131.8" r="1.6" fill="#3d4a58"/><circle cx="1540.5" cy="145.9" r="1.6" fill="#c0602e"/><circle cx="1879.0" cy="147.3" r="1.6" fill="#46525f"/><circle cx="1816.6" cy="136.4" r="1.5" fill="#c0602e"/><circle cx="1648.1" cy="137.6" r="1.5" fill="#46525f"/><circle cx="1604.7" cy="131.6" r="1.4" fill="#3d4a58"/><circle cx="1673.9" cy="131.1" r="1.3" fill="#c0602e"/><circle cx="857.1" cy="145.8" r="1.3" fill="#3d4a58"/><circle cx="119.3" cy="131.7" r="1.1" fill="#46525f"/><circle cx="578.9" cy="145.1" r="1.6" fill="#c4632c"/><circle cx="1905.8" cy="130.5" r="1.3" fill="#3d4a58"/><circle cx="223.7" cy="134.9" r="1.5" fill="#c4632c"/><circle cx="1898.8" cy="133.9" r="1.5" fill="#3d4a58"/><circle cx="531.8" cy="134.3" r="1.4" fill="#3d4a58"/><circle cx="1908.7" cy="136.1" r="1.8" fill="#3d4a58"/><circle cx="1814.8" cy="144.9" r="1.6" fill="#c0602e"/><circle cx="703.7" cy="144.9" r="1.4" fill="#c4632c"/><circle cx="1350.7" cy="131.8" r="1.7" fill="#46525f"/><circle cx="305.3" cy="144.0" r="1.7" fill="#3d4a58"/><circle cx="266.8" cy="142.6" r="1.4" fill="#c0602e"/><circle cx="974.0" cy="142.8" r="1.7" fill="#46525f"/><circle cx="1016.9" cy="147.4" r="1.4" fill="#3d4a58"/><circle cx="1745.6" cy="148.6" r="1.1" fill="#46525f"/><circle cx="791.9" cy="141.1" r="1.2" fill="#c4632c"/><circle cx="1370.4" cy="148.7" r="1.4" fill="#c0602e"/><circle cx="1014.1" cy="140.1" r="1.2" fill="#c4632c"/><circle cx="742.9" cy="148.4" r="1.1" fill="#3d4a58"/><circle cx="328.5" cy="133.4" r="1.5" fill="#c0602e"/><circle cx="1806.3" cy="142.5" r="1.3" fill="#3d4a58"/><circle cx="1169.0" cy="139.7" r="1.0" fill="#c4632c"/><circle cx="1071.3" cy="141.8" r="1.6" fill="#c4632c"/><circle cx="740.3" cy="136.1" r="1.3" fill="#c4632c"/><circle cx="1242.3" cy="140.1" r="1.2" fill="#3d4a58"/><circle cx="1756.8" cy="147.6" r="1.6" fill="#3d4a58"/><circle cx="1652.7" cy="131.1" r="1.0" fill="#3d4a58"/><circle cx="1401.2" cy="147.8" r="1.6" fill="#3d4a58"/><circle cx="824.8" cy="139.8" r="1.6" fill="#c0602e"/><circle cx="762.4" cy="145.7" r="1.7" fill="#3d4a58"/><circle cx="1453.0" cy="143.1" r="1.5" fill="#c4632c"/><circle cx="401.0" cy="145.6" r="1.3" fill="#c0602e"/><circle cx="600.1" cy="147.2" r="1.4" fill="#46525f"/><circle cx="637.1" cy="146.7" r="1.1" fill="#3d4a58"/><circle cx="1894.1" cy="146.9" r="1.4" fill="#3d4a58"/><circle cx="1673.4" cy="144.8" r="1.6" fill="#c0602e"/><circle cx="1550.7" cy="144.8" r="1.2" fill="#3d4a58"/><circle cx="822.8" cy="146.4" r="1.7" fill="#46525f"/><circle cx="1053.4" cy="134.4" r="1.1" fill="#c4632c"/><circle cx="705.4" cy="130.0" r="1.3" fill="#46525f"/><circle cx="1517.5" cy="145.0" r="1.1" fill="#46525f"/><circle cx="1077.6" cy="141.9" r="1.1" fill="#3d4a58"/><circle cx="1480.1" cy="134.2" r="1.8" fill="#3d4a58"/><circle cx="826.4" cy="146.1" r="1.3" fill="#3d4a58"/><circle cx="347.1" cy="148.7" r="1.2" fill="#c0602e"/><circle cx="667.4" cy="130.1" r="1.3" fill="#c4632c"/><circle cx="866.5" cy="143.9" r="1.2" fill="#c4632c"/><circle cx="1657.8" cy="143.8" r="1.2" fill="#46525f"/><circle cx="1810.4" cy="137.2" r="1.1" fill="#3d4a58"/><circle cx="680.6" cy="132.3" r="1.7" fill="#3d4a58"/><circle cx="273.3" cy="143.0" r="1.2" fill="#3d4a58"/><circle cx="1428.1" cy="145.4" r="1.4" fill="#46525f"/><circle cx="1243.9" cy="137.9" r="1.2" fill="#c4632c"/><circle cx="384.4" cy="146.2" r="1.7" fill="#c0602e"/><circle cx="427.2" cy="134.9" r="1.4" fill="#46525f"/><circle cx="1672.2" cy="134.1" r="1.4" fill="#c4632c"/><path d="M102.7 149.7L108.3 129.0M114.0 149.7L119.6 129.0M125.3 149.7L130.9 129.0M136.6 149.7L142.2 129.0M147.9 149.7L153.5 129.0M159.2 149.7L164.8 129.0M170.5 149.7L176.1 129.0M181.8 149.7L187.4 129.0M193.1 149.7L198.7 129.0M204.4 149.7L210.0 129.0M215.7 149.7L221.3 129.0M227.0 149.7L232.6 129.0M238.3 149.7L243.9 129.0M249.6 149.7L255.2 129.0M260.9 149.7L266.5 129.0M272.2 149.7L277.8 129.0M283.5 149.7L289.1 129.0M294.8 149.7L300.4 129.0M306.1 149.7L311.7 129.0M317.4 149.7L323.0 129.0M328.7 149.7L334.3 129.0M340.0 149.7L345.6 129.0M351.3 149.7L356.9 129.0M362.6 149.7L368.2 129.0M373.9 149.7L379.5 129.0M385.2 149.7L390.8 129.0M396.5 149.7L402.1 129.0M407.8 149.7L413.4 129.0M419.1 149.7L424.7 129.0M430.4 149.7L436.0 129.0M441.7 149.7L447.3 129.0M453.0 149.7L458.6 129.0M464.3 149.7L469.9 129.0M475.6 149.7L481.2 129.0M486.9 149.7L492.5 129.0M498.2 149.7L503.8 129.0M509.5 149.7L515.1 129.0M520.8 149.7L526.4 129.0M532.1 149.7L537.7 129.0M543.4 149.7L549.0 129.0M554.7 149.7L560.3 129.0M566.0 149.7L571.6 129.0M577.3 149.7L582.9 129.0M588.6 149.7L594.2 129.0M599.9 149.7L605.5 129.0M611.2 149.7L616.8 129.0M622.5 149.7L628.1 129.0M633.8 149.7L639.4 129.0M645.1 149.7L650.7 129.0M656.4 149.7L662.0 129.0M667.7 149.7L673.3 129.0M679.0 149.7L684.6 129.0M690.3 149.7L695.9 129.0M701.6 149.7L707.2 129.0M712.9 149.7L718.5 129.0M724.2 149.7L729.8 129.0M735.5 149.7L741.1 129.0M746.8 149.7L752.4 129.0M758.1 149.7L763.7 129.0M769.4 149.7L775.0 129.0M780.7 149.7L786.3 129.0M792.0 149.7L797.6 129.0M803.3 149.7L808.9 129.0M814.6 149.7L820.2 129.0M825.9 149.7L831.5 129.0M837.2 149.7L842.8 129.0M848.5 149.7L854.1 129.0M859.8 149.7L865.4 129.0M871.1 149.7L876.7 129.0M882.4 149.7L888.0 129.0M893.7 149.7L899.3 129.0M905.0 149.7L910.6 129.0M916.3 149.7L921.9 129.0M927.6 149.7L933.2 129.0M938.9 149.7L944.5 129.0M950.2 149.7L955.8 129.0M961.5 149.7L967.1 129.0M972.8 149.7L978.4 129.0M984.1 149.7L989.7 129.0M995.4 149.7L1001.0 129.0M1006.7 149.7L1012.3 129.0M1018.0 149.7L1023.6 129.0M1029.3 149.7L1034.9 129.0M1040.6 149.7L1046.2 129.0M1051.9 149.7L1057.5 129.0M1063.2 149.7L1068.8 129.0M1074.5 149.7L1080.1 129.0M1085.8 149.7L1091.4 129.0M1097.1 149.7L1102.7 129.0M1108.4 149.7L1114.0 129.0M1119.7 149.7L1125.3 129.0M1131.0 149.7L1136.6 129.0M1142.3 149.7L1147.9 129.0M1153.6 149.7L1159.2 129.0M1164.9 149.7L1170.5 129.0M1176.2 149.7L1181.8 129.0M1187.5 149.7L1193.1 129.0M1198.8 149.7L1204.4 129.0M1210.1 149.7L1215.7 129.0M1221.4 149.7L1227.0 129.0M1232.7 149.7L1238.3 129.0M1244.0 149.7L1249.6 129.0M1255.3 149.7L1260.9 129.0M1266.6 149.7L1272.2 129.0M1277.9 149.7L1283.5 129.0M1289.2 149.7L1294.8 129.0M1300.5 149.7L1306.1 129.0M1311.8 149.7L1317.4 129.0M1323.1 149.7L1328.7 129.0M1334.4 149.7L1340.0 129.0M1345.7 149.7L1351.3 129.0M1357.0 149.7L1362.6 129.0M1368.3 149.7L1373.9 129.0M1379.6 149.7L1385.2 129.0M1390.9 149.7L1396.5 129.0M1402.2 149.7L1407.8 129.0M1413.5 149.7L1419.1 129.0M1424.8 149.7L1430.4 129.0M1436.1 149.7L1441.7 129.0M1447.4 149.7L1453.0 129.0M1458.7 149.7L1464.3 129.0M1470.0 149.7L1475.6 129.0M1481.3 149.7L1486.9 129.0M1492.6 149.7L1498.2 129.0M1503.9 149.7L1509.5 129.0M1515.2 149.7L1520.8 129.0M1526.5 149.7L1532.1 129.0M1537.8 149.7L1543.4 129.0M1549.1 149.7L1554.7 129.0M1560.4 149.7L1566.0 129.0M1571.7 149.7L1577.3 129.0M1583.0 149.7L1588.6 129.0M1594.3 149.7L1599.9 129.0M1605.6 149.7L1611.2 129.0M1616.9 149.7L1622.5 129.0M1628.2 149.7L1633.8 129.0M1639.5 149.7L1645.1 129.0M1650.8 149.7L1656.4 129.0M1662.1 149.7L1667.7 129.0M1673.4 149.7L1679.0 129.0M1684.7 149.7L1690.3 129.0M1696.0 149.7L1701.6 129.0M1707.3 149.7L1712.9 129.0M1718.6 149.7L1724.2 129.0M1729.9 149.7L1735.5 129.0M1741.2 149.7L1746.8 129.0M1752.5 149.7L1758.1 129.0M1763.8 149.7L1769.4 129.0M1775.1 149.7L1780.7 129.0M1786.4 149.7L1792.0 129.0M1797.7 149.7L1803.3 129.0M1809.0 149.7L1814.6 129.0M1820.3 149.7L1825.9 129.0M1831.6 149.7L1837.2 129.0M1842.9 149.7L1848.5 129.0M1854.2 149.7L1859.8 129.0M1865.5 149.7L1871.1 129.0M1876.8 149.7L1882.4 129.0M1888.1 149.7L1893.7 129.0M1899.4 149.7L1905.0 129.0M1910.7 149.7L1916.3 129.0M1922.0 149.7L1927.6 129.0M1933.3 149.7L1938.9 129.0M1944.6 149.7L1950.2 129.0" stroke="#111" stroke-width="2.0" fill="none"/></g><rect x="114.80" y="130.80" width="1818.40" height="17.10" fill="none" stroke="#000" stroke-width="1.6"/>
<rect x="261.2" y="310.5" width="62.3" height="66.5" fill="#fff" stroke="#111" stroke-width="1.4"/><rect x="308.0" y="310.5" width="15.5" height="66.5" fill="#6c62da" stroke="#111" stroke-width="1.4"/><g transform="translate(319.7,361.0) rotate(-90)"><path d="M9.7 -4.5L5.3 -7.9L5.3 -1.1Z M0 -5.35H6.2V-3.65H0Z" fill="#fff"/><text x="12.2" y="0" font-family="Liberation Sans" font-weight="bold" font-size="13.5" fill="#fff" textLength="23.5" lengthAdjust="spacingAndGlyphs">p14</text></g>
<rect x="700.2" y="310.5" width="62.3" height="66.5" fill="#fff" stroke="#111" stroke-width="1.4"/><rect x="747.0" y="310.5" width="15.5" height="66.5" fill="#9d95fa" stroke="#111" stroke-width="1.4"/><g transform="translate(758.7,361.0) rotate(-90)"><path d="M9.7 -4.5L5.3 -7.9L5.3 -1.1Z M0 -5.35H6.2V-3.65H0Z" fill="#fff"/><text x="12.2" y="0" font-family="Liberation Sans" font-weight="bold" font-size="13.5" fill="#fff" textLength="23.5" lengthAdjust="spacingAndGlyphs">p12</text></g>
<rect x="846.6" y="310.5" width="62.3" height="66.5" fill="#fff" stroke="#111" stroke-width="1.4"/><rect x="893.4" y="310.5" width="15.5" height="66.5" fill="#7de880" stroke="#111" stroke-width="1.4"/><g transform="translate(905.1,361.0) rotate(-90)"><path d="M9.7 -4.5L5.3 -7.9L5.3 -1.1Z M0 -5.35H6.2V-3.65H0Z" fill="#000"/><text x="12.2" y="0" font-family="Liberation Sans" font-weight="bold" font-size="13.5" fill="#000" textLength="23.5" lengthAdjust="spacingAndGlyphs">p12</text></g>
<rect x="1432.0" y="310.5" width="62.3" height="66.5" fill="#fff" stroke="#111" stroke-width="1.4"/><rect x="1478.8" y="310.5" width="15.5" height="66.5" fill="#cd7f32" stroke="#111" stroke-width="1.4"/><g transform="translate(1490.5,361.0) rotate(-90)"><path d="M9.7 -4.5L5.3 -7.9L5.3 -1.1Z M0 -5.35H6.2V-3.65H0Z" fill="#fff"/><text x="12.2" y="0" font-family="Liberation Sans" font-weight="bold" font-size="13.5" fill="#fff" textLength="23.5" lengthAdjust="spacingAndGlyphs">p22</text></g>
<rect x="132.3" y="174.8" width="11" height="67.6" fill="#fbe7e1" stroke="#ddd8ce" stroke-width="1.3"/><text transform="translate(127.6,209.1) rotate(-90)" text-anchor="middle" font-family="Liberation Sans" font-size="12" fill="#d9d3c9" textLength="39.0" lengthAdjust="spacingAndGlyphs">p1 (0)</text><text transform="translate(156.2,205.8) rotate(-90)" text-anchor="middle" font-family="Liberation Sans" font-size="12.5" fill="#d9d3c9" textLength="15.5" lengthAdjust="spacingAndGlyphs">PK</text>
<clipPath id="k2"><rect x="278.46000000000004" y="175.0" width="11" height="67.0"/></clipPath><g clip-path="url(#k2)"><rect x="278.46000000000004" y="175.0" width="11" height="67.0" fill="#f6f6f6"/><circle cx="288.5" cy="213.7" r="1.6" fill="#8a3310"/><circle cx="287.2" cy="212.0" r="1.1" fill="#8a3310"/><circle cx="289.2" cy="228.1" r="1.2" fill="#9a3b12"/><circle cx="289.4" cy="224.2" r="1.2" fill="#8a3310"/><circle cx="278.7" cy="208.1" r="1.5" fill="#9a3b12"/><circle cx="282.5" cy="229.9" r="1.1" fill="#a8481e"/><circle cx="281.3" cy="191.3" r="1.2" fill="#a8481e"/><circle cx="281.4" cy="196.9" r="1.1" fill="#9a3b12"/><circle cx="287.7" cy="224.5" r="1.6" fill="#a8481e"/><circle cx="285.6" cy="180.4" r="1.5" fill="#a8481e"/><circle cx="280.7" cy="229.9" r="1.2" fill="#9a3b12"/><circle cx="284.0" cy="212.6" r="1.1" fill="#9a3b12"/><circle cx="280.5" cy="211.3" r="1.6" fill="#9a3b12"/><circle cx="285.3" cy="200.3" r="1.6" fill="#9a3b12"/><circle cx="280.6" cy="213.5" r="1.2" fill="#a8481e"/><circle cx="286.9" cy="186.5" r="1.2" fill="#a8481e"/><circle cx="284.7" cy="240.0" r="1.3" fill="#a8481e"/><circle cx="280.6" cy="202.1" r="1.6" fill="#9a3b12"/><circle cx="281.0" cy="200.6" r="1.4" fill="#9a3b12"/><circle cx="284.3" cy="185.9" r="1.2" fill="#a8481e"/><circle cx="285.7" cy="184.5" r="1.7" fill="#8a3310"/><circle cx="280.8" cy="210.8" r="1.3" fill="#9a3b12"/><circle cx="280.5" cy="201.2" r="1.4" fill="#a8481e"/><circle cx="288.2" cy="219.0" r="1.9" fill="#9a3b12"/><circle cx="279.2" cy="237.3" r="1.1" fill="#9a3b12"/><circle cx="279.5" cy="212.9" r="1.7" fill="#8a3310"/><circle cx="279.6" cy="199.8" r="1.4" fill="#8a3310"/><circle cx="289.1" cy="200.1" r="1.4" fill="#8a3310"/><circle cx="283.1" cy="211.2" r="1.9" fill="#8a3310"/><circle cx="286.9" cy="211.1" r="1.7" fill="#8a3310"/><circle cx="288.6" cy="178.0" r="1.7" fill="#a8481e"/><circle cx="280.8" cy="213.1" r="1.8" fill="#a8481e"/><circle cx="283.2" cy="206.4" r="1.7" fill="#8a3310"/><circle cx="283.8" cy="203.6" r="1.3" fill="#8a3310"/><circle cx="281.8" cy="239.9" r="1.7" fill="#a8481e"/><circle cx="281.4" cy="219.8" r="1.7" fill="#a8481e"/><circle cx="278.9" cy="208.3" r="1.1" fill="#8a3310"/><circle cx="283.6" cy="210.7" r="1.3" fill="#a8481e"/><circle cx="283.8" cy="180.0" r="1.5" fill="#9a3b12"/><circle cx="289.1" cy="207.0" r="1.5" fill="#a8481e"/><circle cx="282.7" cy="183.9" r="1.6" fill="#9a3b12"/><circle cx="279.4" cy="199.6" r="1.4" fill="#9a3b12"/><circle cx="282.0" cy="224.7" r="1.6" fill="#a8481e"/><circle cx="287.5" cy="185.0" r="1.8" fill="#9a3b12"/><path d="M277.5 161.6L290.5 166.6M277.5 172.5L290.5 177.5M277.5 183.4L290.5 188.4M277.5 194.3L290.5 199.3M277.5 205.2L290.5 210.2M277.5 216.1L290.5 221.1M277.5 227.0L290.5 232.0M277.5 237.9L290.5 242.9" stroke="#111" stroke-width="2.2" fill="none"/></g><rect x="279.11" y="175.65" width="9.70" height="65.70" fill="none" stroke="#222" stroke-width="1.3"/><text transform="translate(273.8,209.1) rotate(-90)" text-anchor="middle" font-family="Liberation Sans" font-weight="bold" font-size="11.8" fill="#000" textLength="47.6" lengthAdjust="spacingAndGlyphs">p1 (30)</text><text transform="translate(303.5,205.8) rotate(-90)" text-anchor="middle" font-family="Liberation Sans" font-weight="bold" font-size="13.3" fill="#000" textLength="34.0" lengthAdjust="spacingAndGlyphs">W:MB</text>
<clipPath id="k3"><rect x="278.46000000000004" y="310.0" width="11" height="67.30000000000001"/></clipPath><g clip-path="url(#k3)"><rect x="278.46000000000004" y="310.0" width="11" height="67.30000000000001" fill="#f3f3f3"/><circle cx="282.1" cy="318.8" r="1.5" fill="#2f3a46"/><circle cx="284.8" cy="374.8" r="1.6" fill="#2f3a46"/><circle cx="287.7" cy="325.9" r="1.1" fill="#2f3a46"/><circle cx="289.0" cy="346.0" r="1.6" fill="#2f3a46"/><circle cx="288.4" cy="330.8" r="1.6" fill="#46525e"/><circle cx="281.6" cy="371.8" r="1.3" fill="#46525e"/><circle cx="284.1" cy="325.7" r="1.3" fill="#46525e"/><circle cx="283.8" cy="376.0" r="1.9" fill="#3a4652"/><circle cx="283.6" cy="368.3" r="1.5" fill="#46525e"/><circle cx="286.1" cy="327.2" r="1.2" fill="#3a4652"/><circle cx="288.2" cy="334.0" r="1.5" fill="#3a4652"/><circle cx="288.3" cy="342.2" r="1.8" fill="#46525e"/><circle cx="288.5" cy="318.5" r="1.7" fill="#3a4652"/><circle cx="280.7" cy="343.5" r="1.2" fill="#2f3a46"/><circle cx="283.7" cy="341.5" r="1.4" fill="#3a4652"/><circle cx="286.4" cy="358.9" r="1.5" fill="#3a4652"/><circle cx="285.2" cy="367.9" r="1.6" fill="#46525e"/><circle cx="279.0" cy="368.7" r="1.8" fill="#3a4652"/><circle cx="285.5" cy="351.5" r="1.9" fill="#2f3a46"/><circle cx="279.9" cy="310.6" r="1.7" fill="#3a4652"/><circle cx="284.4" cy="330.8" r="1.8" fill="#3a4652"/><circle cx="289.3" cy="314.6" r="1.3" fill="#46525e"/><circle cx="280.2" cy="362.5" r="1.2" fill="#3a4652"/><circle cx="284.0" cy="375.1" r="1.2" fill="#46525e"/><circle cx="281.9" cy="331.8" r="1.7" fill="#46525e"/><circle cx="280.5" cy="328.8" r="1.1" fill="#46525e"/><circle cx="285.2" cy="316.4" r="1.4" fill="#3a4652"/><circle cx="288.6" cy="325.0" r="1.3" fill="#3a4652"/><circle cx="279.0" cy="315.8" r="1.7" fill="#3a4652"/><circle cx="289.1" cy="345.1" r="1.7" fill="#3a4652"/><circle cx="278.8" cy="344.7" r="1.5" fill="#2f3a46"/><circle cx="283.7" cy="360.2" r="1.2" fill="#46525e"/><circle cx="282.1" cy="315.8" r="1.2" fill="#46525e"/><circle cx="279.0" cy="327.7" r="1.5" fill="#2f3a46"/><circle cx="279.0" cy="332.4" r="1.2" fill="#46525e"/><circle cx="287.2" cy="361.3" r="1.9" fill="#46525e"/><circle cx="281.1" cy="342.9" r="1.3" fill="#3a4652"/><circle cx="279.9" cy="351.1" r="1.7" fill="#2f3a46"/><circle cx="286.1" cy="374.5" r="1.9" fill="#3a4652"/><circle cx="281.3" cy="327.8" r="1.2" fill="#3a4652"/><circle cx="282.2" cy="326.1" r="1.8" fill="#2f3a46"/><circle cx="280.5" cy="323.2" r="1.7" fill="#46525e"/><circle cx="284.1" cy="317.7" r="1.2" fill="#3a4652"/><circle cx="279.0" cy="359.8" r="1.3" fill="#46525e"/><path d="M277.5 302.8L290.5 307.8M277.5 313.7L290.5 318.7M277.5 324.6L290.5 329.6M277.5 335.5L290.5 340.5M277.5 346.4L290.5 351.4M277.5 357.3L290.5 362.3M277.5 368.2L290.5 373.2M277.5 379.1L290.5 384.1" stroke="#111" stroke-width="2.2" fill="none"/></g><rect x="279.11" y="310.65" width="9.70" height="66.00" fill="none" stroke="#222" stroke-width="1.3"/><text transform="translate(273.8,344.2) rotate(-90)" text-anchor="middle" font-family="Liberation Sans" font-weight="bold" font-size="11.8" fill="#000" textLength="47.6" lengthAdjust="spacingAndGlyphs">p2 (40)</text><text transform="translate(303.5,340.9) rotate(-90)" text-anchor="middle" font-family="Liberation Sans" font-weight="bold" font-size="13.3" fill="#000" textLength="31.0" lengthAdjust="spacingAndGlyphs">W:BG</text>
<clipPath id="k4"><rect x="424.82000000000005" y="175.0" width="11" height="67.0"/></clipPath><g clip-path="url(#k4)"><rect x="424.82000000000005" y="175.0" width="11" height="67.0" fill="#f6f6f6"/><circle cx="430.8" cy="198.9" r="1.6" fill="#9a3b12"/><circle cx="427.4" cy="212.9" r="1.4" fill="#9a3b12"/><circle cx="429.6" cy="213.7" r="1.6" fill="#8a3310"/><circle cx="426.8" cy="214.0" r="1.6" fill="#a8481e"/><circle cx="425.0" cy="185.1" r="1.3" fill="#8a3310"/><circle cx="430.7" cy="208.4" r="1.8" fill="#a8481e"/><circle cx="425.8" cy="182.7" r="1.5" fill="#9a3b12"/><circle cx="430.7" cy="190.0" r="1.3" fill="#a8481e"/><circle cx="428.4" cy="184.1" r="1.8" fill="#a8481e"/><circle cx="435.1" cy="191.6" r="1.6" fill="#9a3b12"/><circle cx="431.7" cy="176.7" r="1.3" fill="#8a3310"/><circle cx="431.6" cy="192.6" r="1.2" fill="#a8481e"/><circle cx="428.8" cy="227.7" r="1.5" fill="#8a3310"/><circle cx="433.5" cy="182.8" r="1.3" fill="#8a3310"/><circle cx="425.2" cy="217.9" r="1.5" fill="#8a3310"/><circle cx="430.2" cy="222.0" r="1.5" fill="#a8481e"/><circle cx="430.5" cy="193.8" r="1.1" fill="#a8481e"/><circle cx="435.2" cy="201.3" r="1.4" fill="#a8481e"/><circle cx="427.0" cy="216.8" r="1.5" fill="#8a3310"/><circle cx="428.8" cy="191.7" r="1.2" fill="#9a3b12"/><circle cx="425.2" cy="221.9" r="1.2" fill="#8a3310"/><circle cx="431.6" cy="177.9" r="1.5" fill="#a8481e"/><circle cx="434.0" cy="215.3" r="1.4" fill="#9a3b12"/><circle cx="432.3" cy="181.0" r="1.3" fill="#9a3b12"/><circle cx="434.1" cy="242.0" r="1.9" fill="#8a3310"/><circle cx="435.5" cy="193.0" r="1.4" fill="#a8481e"/><circle cx="426.4" cy="233.0" r="1.4" fill="#8a3310"/><circle cx="426.1" cy="237.7" r="1.5" fill="#8a3310"/><circle cx="435.2" cy="215.8" r="1.2" fill="#a8481e"/><circle cx="428.5" cy="185.0" r="1.7" fill="#a8481e"/><circle cx="434.7" cy="231.9" r="1.8" fill="#9a3b12"/><circle cx="433.3" cy="180.1" r="1.5" fill="#8a3310"/><circle cx="435.1" cy="208.0" r="1.4" fill="#9a3b12"/><circle cx="434.8" cy="227.8" r="1.7" fill="#8a3310"/><circle cx="426.4" cy="211.2" r="1.6" fill="#a8481e"/><circle cx="432.6" cy="205.8" r="1.8" fill="#a8481e"/><circle cx="428.2" cy="211.1" r="1.2" fill="#9a3b12"/><circle cx="430.1" cy="219.1" r="1.7" fill="#9a3b12"/><circle cx="430.1" cy="179.0" r="1.3" fill="#8a3310"/><circle cx="425.8" cy="207.6" r="1.1" fill="#a8481e"/><circle cx="432.6" cy="216.6" r="1.7" fill="#a8481e"/><circle cx="427.1" cy="214.1" r="1.7" fill="#9a3b12"/><circle cx="426.2" cy="195.8" r="1.6" fill="#9a3b12"/><circle cx="430.4" cy="222.6" r="1.2" fill="#a8481e"/><path d="M423.8 169.4L436.8 174.4M423.8 180.3L436.8 185.3M423.8 191.2L436.8 196.2M423.8 202.1L436.8 207.1M423.8 213.0L436.8 218.0M423.8 223.9L436.8 228.9M423.8 234.8L436.8 239.8M423.8 245.7L436.8 250.7" stroke="#111" stroke-width="2.2" fill="none"/></g><rect x="425.47" y="175.65" width="9.70" height="65.70" fill="none" stroke="#222" stroke-width="1.3"/><text transform="translate(420.1,209.1) rotate(-90)" text-anchor="middle" font-family="Liberation Sans" font-weight="bold" font-size="11.8" fill="#000" textLength="47.6" lengthAdjust="spacingAndGlyphs">p1 (30)</text><text transform="translate(449.8,205.8) rotate(-90)" text-anchor="middle" font-family="Liberation Sans" font-weight="bold" font-size="13.3" fill="#000" textLength="34.0" lengthAdjust="spacingAndGlyphs">W:MB</text>
<clipPath id="k5"><rect x="424.82000000000005" y="310.0" width="11" height="67.30000000000001"/></clipPath><g clip-path="url(#k5)"><rect x="424.82000000000005" y="310.0" width="11" height="67.30000000000001" fill="#f3f3f3"/><circle cx="432.0" cy="355.5" r="1.1" fill="#46525e"/><circle cx="435.8" cy="371.1" r="1.4" fill="#2f3a46"/><circle cx="430.2" cy="326.3" r="1.7" fill="#46525e"/><circle cx="432.0" cy="350.7" r="1.6" fill="#2f3a46"/><circle cx="428.1" cy="364.7" r="1.3" fill="#3a4652"/><circle cx="429.3" cy="334.3" r="1.7" fill="#3a4652"/><circle cx="431.1" cy="327.9" r="1.5" fill="#46525e"/><circle cx="434.5" cy="314.7" r="1.2" fill="#46525e"/><circle cx="426.4" cy="314.2" r="1.3" fill="#2f3a46"/><circle cx="427.3" cy="355.1" r="1.1" fill="#46525e"/><circle cx="431.7" cy="357.0" r="1.3" fill="#46525e"/><circle cx="430.5" cy="317.0" r="1.3" fill="#46525e"/><circle cx="430.8" cy="318.2" r="1.7" fill="#46525e"/><circle cx="428.8" cy="328.6" r="1.7" fill="#3a4652"/><circle cx="431.4" cy="326.5" r="1.9" fill="#2f3a46"/><circle cx="431.9" cy="336.2" r="1.3" fill="#46525e"/><circle cx="428.9" cy="363.0" r="1.8" fill="#46525e"/><circle cx="428.4" cy="310.6" r="1.6" fill="#2f3a46"/><circle cx="432.0" cy="315.0" r="1.3" fill="#3a4652"/><circle cx="432.7" cy="343.7" r="1.3" fill="#3a4652"/><circle cx="431.8" cy="314.1" r="1.5" fill="#2f3a46"/><circle cx="430.5" cy="318.8" r="1.8" fill="#46525e"/><circle cx="433.5" cy="373.8" r="1.3" fill="#2f3a46"/><circle cx="430.0" cy="368.7" r="1.7" fill="#2f3a46"/><circle cx="431.0" cy="368.4" r="1.4" fill="#3a4652"/><circle cx="434.3" cy="362.6" r="1.5" fill="#46525e"/><circle cx="430.7" cy="313.5" r="1.4" fill="#46525e"/><circle cx="425.7" cy="373.9" r="1.9" fill="#46525e"/><circle cx="428.8" cy="314.7" r="1.6" fill="#3a4652"/><circle cx="429.7" cy="341.0" r="1.3" fill="#2f3a46"/><circle cx="430.6" cy="342.2" r="1.3" fill="#3a4652"/><circle cx="430.6" cy="315.7" r="1.4" fill="#46525e"/><circle cx="425.5" cy="372.9" r="1.8" fill="#3a4652"/><circle cx="432.6" cy="375.8" r="1.2" fill="#2f3a46"/><circle cx="427.7" cy="338.4" r="1.4" fill="#46525e"/><circle cx="429.4" cy="337.1" r="1.8" fill="#2f3a46"/><circle cx="425.5" cy="344.6" r="1.2" fill="#2f3a46"/><circle cx="430.9" cy="333.6" r="1.4" fill="#2f3a46"/><circle cx="428.6" cy="365.7" r="1.8" fill="#3a4652"/><circle cx="428.1" cy="339.1" r="1.5" fill="#46525e"/><circle cx="426.1" cy="370.3" r="1.4" fill="#46525e"/><circle cx="432.6" cy="329.6" r="1.6" fill="#46525e"/><circle cx="428.7" cy="351.5" r="1.4" fill="#46525e"/><circle cx="428.1" cy="342.4" r="1.2" fill="#46525e"/><path d="M423.8 296.1L436.8 301.1M423.8 307.0L436.8 312.0M423.8 317.9L436.8 322.9M423.8 328.8L436.8 333.8M423.8 339.7L436.8 344.7M423.8 350.6L436.8 355.6M423.8 361.5L436.8 366.5M423.8 372.4L436.8 377.4" stroke="#111" stroke-width="2.2" fill="none"/></g><rect x="425.47" y="310.65" width="9.70" height="66.00" fill="none" stroke="#222" stroke-width="1.3"/><text transform="translate(420.1,344.2) rotate(-90)" text-anchor="middle" font-family="Liberation Sans" font-weight="bold" font-size="11.8" fill="#000" textLength="47.6" lengthAdjust="spacingAndGlyphs">p2 (50)</text><text transform="translate(449.8,340.9) rotate(-90)" text-anchor="middle" font-family="Liberation Sans" font-weight="bold" font-size="13.3" fill="#000" textLength="31.0" lengthAdjust="spacingAndGlyphs">W:BG</text>
<clipPath id="k6"><rect x="571.1800000000001" y="175.0" width="11" height="67.0"/></clipPath><g clip-path="url(#k6)"><rect x="571.1800000000001" y="175.0" width="11" height="67.0" fill="#f6f6f6"/><circle cx="578.5" cy="197.8" r="1.7" fill="#9a3b12"/><circle cx="580.4" cy="206.0" r="1.6" fill="#8a3310"/><circle cx="577.5" cy="191.8" r="1.6" fill="#9a3b12"/><circle cx="575.9" cy="215.7" r="1.5" fill="#8a3310"/><circle cx="579.3" cy="231.9" r="1.9" fill="#a8481e"/><circle cx="575.3" cy="217.8" r="1.4" fill="#9a3b12"/><circle cx="571.9" cy="235.6" r="1.4" fill="#a8481e"/><circle cx="576.8" cy="191.9" r="1.8" fill="#9a3b12"/><circle cx="571.9" cy="234.2" r="1.9" fill="#9a3b12"/><circle cx="581.8" cy="233.6" r="1.8" fill="#9a3b12"/><circle cx="571.4" cy="183.7" r="1.8" fill="#a8481e"/><circle cx="578.0" cy="216.5" r="1.2" fill="#a8481e"/><circle cx="577.6" cy="219.7" r="1.3" fill="#a8481e"/><circle cx="572.5" cy="233.3" r="1.6" fill="#8a3310"/><circle cx="579.6" cy="230.4" r="1.3" fill="#8a3310"/><circle cx="580.3" cy="189.0" r="1.2" fill="#8a3310"/><circle cx="579.6" cy="178.8" r="1.5" fill="#9a3b12"/><circle cx="576.9" cy="229.8" r="1.4" fill="#9a3b12"/><circle cx="576.8" cy="188.0" r="1.3" fill="#9a3b12"/><circle cx="578.2" cy="177.1" r="1.9" fill="#9a3b12"/><circle cx="577.1" cy="199.0" r="1.5" fill="#8a3310"/><circle cx="581.5" cy="201.2" r="1.1" fill="#8a3310"/><circle cx="578.8" cy="211.9" r="1.8" fill="#a8481e"/><circle cx="577.6" cy="198.3" r="1.9" fill="#a8481e"/><circle cx="579.7" cy="219.1" r="1.8" fill="#a8481e"/><circle cx="571.8" cy="219.7" r="1.1" fill="#8a3310"/><circle cx="579.3" cy="185.9" r="1.5" fill="#8a3310"/><circle cx="575.5" cy="230.8" r="1.6" fill="#9a3b12"/><circle cx="577.9" cy="241.4" r="1.4" fill="#8a3310"/><circle cx="573.1" cy="202.4" r="1.8" fill="#a8481e"/><circle cx="582.0" cy="189.3" r="1.2" fill="#a8481e"/><circle cx="572.5" cy="228.1" r="1.6" fill="#8a3310"/><circle cx="573.6" cy="222.0" r="1.4" fill="#9a3b12"/><circle cx="576.5" cy="180.5" r="1.9" fill="#a8481e"/><circle cx="574.4" cy="220.8" r="1.4" fill="#a8481e"/><circle cx="576.7" cy="214.3" r="1.6" fill="#8a3310"/><circle cx="574.1" cy="235.8" r="1.9" fill="#9a3b12"/><circle cx="574.9" cy="230.1" r="1.5" fill="#8a3310"/><circle cx="578.0" cy="214.1" r="1.3" fill="#a8481e"/><circle cx="575.9" cy="231.2" r="1.8" fill="#8a3310"/><circle cx="571.5" cy="175.9" r="1.6" fill="#a8481e"/><circle cx="577.0" cy="183.5" r="1.8" fill="#9a3b12"/><circle cx="573.7" cy="184.0" r="1.8" fill="#8a3310"/><circle cx="579.9" cy="176.7" r="1.9" fill="#a8481e"/><path d="M570.2 164.6L583.2 169.6M570.2 175.5L583.2 180.5M570.2 186.4L583.2 191.4M570.2 197.3L583.2 202.3M570.2 208.2L583.2 213.2M570.2 219.1L583.2 224.1M570.2 230.0L583.2 235.0M570.2 240.9L583.2 245.9" stroke="#111" stroke-width="2.2" fill="none"/></g><rect x="571.83" y="175.65" width="9.70" height="65.70" fill="none" stroke="#222" stroke-width="1.3"/><text transform="translate(566.5,209.1) rotate(-90)" text-anchor="middle" font-family="Liberation Sans" font-weight="bold" font-size="11.8" fill="#000" textLength="41.2" lengthAdjust="spacingAndGlyphs">p1 (0)</text><text transform="translate(596.2,205.8) rotate(-90)" text-anchor="middle" font-family="Liberation Sans" font-weight="bold" font-size="13.3" fill="#000" textLength="34.0" lengthAdjust="spacingAndGlyphs">W:MB</text>
<clipPath id="k7"><rect x="571.1800000000001" y="310.0" width="11" height="67.30000000000001"/></clipPath><g clip-path="url(#k7)"><rect x="571.1800000000001" y="310.0" width="11" height="67.30000000000001" fill="#f3f3f3"/><circle cx="577.1" cy="341.1" r="1.2" fill="#46525e"/><circle cx="579.0" cy="362.5" r="1.8" fill="#46525e"/><circle cx="579.6" cy="346.5" r="1.4" fill="#46525e"/><circle cx="577.9" cy="345.5" r="1.8" fill="#2f3a46"/><circle cx="573.2" cy="360.4" r="1.5" fill="#3a4652"/><circle cx="580.6" cy="322.6" r="1.6" fill="#46525e"/><circle cx="582.0" cy="326.3" r="1.3" fill="#46525e"/><circle cx="580.7" cy="336.4" r="1.4" fill="#46525e"/><circle cx="580.8" cy="339.3" r="1.4" fill="#46525e"/><circle cx="578.5" cy="343.2" r="1.3" fill="#3a4652"/><circle cx="575.0" cy="363.0" r="1.9" fill="#46525e"/><circle cx="573.5" cy="314.3" r="1.4" fill="#3a4652"/><circle cx="581.4" cy="316.1" r="1.1" fill="#3a4652"/><circle cx="574.2" cy="344.4" r="1.6" fill="#3a4652"/><circle cx="573.2" cy="377.2" r="1.3" fill="#2f3a46"/><circle cx="577.8" cy="317.6" r="1.1" fill="#2f3a46"/><circle cx="577.8" cy="364.1" r="1.3" fill="#46525e"/><circle cx="579.4" cy="351.4" r="1.5" fill="#2f3a46"/><circle cx="575.7" cy="315.7" r="1.7" fill="#2f3a46"/><circle cx="571.9" cy="338.1" r="1.9" fill="#46525e"/><circle cx="579.6" cy="344.4" r="1.1" fill="#2f3a46"/><circle cx="577.0" cy="314.6" r="1.3" fill="#46525e"/><circle cx="572.0" cy="357.7" r="1.2" fill="#3a4652"/><circle cx="580.4" cy="320.8" r="1.7" fill="#46525e"/><circle cx="579.1" cy="352.7" r="1.1" fill="#2f3a46"/><circle cx="581.7" cy="323.5" r="1.7" fill="#3a4652"/><circle cx="571.8" cy="323.0" r="1.1" fill="#46525e"/><circle cx="572.5" cy="334.1" r="1.5" fill="#3a4652"/><circle cx="572.6" cy="339.9" r="1.5" fill="#3a4652"/><circle cx="581.8" cy="366.8" r="1.5" fill="#3a4652"/><circle cx="571.9" cy="325.8" r="1.5" fill="#2f3a46"/><circle cx="573.0" cy="331.6" r="1.7" fill="#3a4652"/><circle cx="574.9" cy="311.6" r="1.7" fill="#3a4652"/><circle cx="577.5" cy="365.7" r="1.4" fill="#3a4652"/><circle cx="574.3" cy="333.7" r="1.8" fill="#3a4652"/><circle cx="581.5" cy="349.9" r="1.3" fill="#2f3a46"/><circle cx="573.7" cy="364.9" r="1.2" fill="#3a4652"/><circle cx="580.1" cy="328.0" r="1.4" fill="#3a4652"/><circle cx="576.4" cy="342.1" r="1.7" fill="#2f3a46"/><circle cx="582.1" cy="320.5" r="1.7" fill="#2f3a46"/><circle cx="576.5" cy="320.9" r="1.8" fill="#46525e"/><circle cx="575.2" cy="369.2" r="1.9" fill="#2f3a46"/><circle cx="574.1" cy="360.7" r="1.6" fill="#2f3a46"/><circle cx="572.4" cy="344.9" r="1.5" fill="#46525e"/><path d="M570.2 302.4L583.2 307.4M570.2 313.3L583.2 318.3M570.2 324.2L583.2 329.2M570.2 335.1L583.2 340.1M570.2 346.0L583.2 351.0M570.2 356.9L583.2 361.9M570.2 367.8L583.2 372.8M570.2 378.7L583.2 383.7" stroke="#111" stroke-width="2.2" fill="none"/></g><rect x="571.83" y="310.65" width="9.70" height="66.00" fill="none" stroke="#222" stroke-width="1.3"/><text transform="translate(566.5,344.2) rotate(-90)" text-anchor="middle" font-family="Liberation Sans" font-weight="bold" font-size="11.8" fill="#000" textLength="47.6" lengthAdjust="spacingAndGlyphs">p2 (50)</text><text transform="translate(596.2,340.9) rotate(-90)" text-anchor="middle" font-family="Liberation Sans" font-weight="bold" font-size="13.3" fill="#000" textLength="31.0" lengthAdjust="spacingAndGlyphs">W:BG</text>
<clipPath id="k8"><rect x="717.5400000000001" y="175.0" width="11" height="67.0"/></clipPath><g clip-path="url(#k8)"><rect x="717.5400000000001" y="175.0" width="11" height="67.0" fill="#f6f6f6"/><circle cx="723.1" cy="212.2" r="1.2" fill="#a8481e"/><circle cx="726.5" cy="234.3" r="1.3" fill="#a8481e"/><circle cx="718.8" cy="201.7" r="1.2" fill="#9a3b12"/><circle cx="726.7" cy="191.6" r="1.6" fill="#8a3310"/><circle cx="722.7" cy="235.4" r="1.6" fill="#a8481e"/><circle cx="725.6" cy="219.9" r="1.6" fill="#a8481e"/><circle cx="723.2" cy="211.1" r="1.5" fill="#a8481e"/><circle cx="719.3" cy="197.8" r="1.7" fill="#a8481e"/><circle cx="723.2" cy="213.4" r="1.5" fill="#8a3310"/><circle cx="727.6" cy="194.8" r="1.3" fill="#a8481e"/><circle cx="722.7" cy="180.2" r="1.5" fill="#a8481e"/><circle cx="719.2" cy="195.0" r="1.7" fill="#8a3310"/><circle cx="727.1" cy="192.2" r="1.4" fill="#a8481e"/><circle cx="722.5" cy="238.7" r="1.4" fill="#8a3310"/><circle cx="717.7" cy="180.9" r="1.3" fill="#8a3310"/><circle cx="718.7" cy="230.2" r="1.5" fill="#9a3b12"/><circle cx="724.6" cy="227.7" r="1.7" fill="#8a3310"/><circle cx="726.7" cy="235.4" r="1.8" fill="#8a3310"/><circle cx="726.2" cy="213.9" r="1.8" fill="#8a3310"/><circle cx="720.0" cy="232.9" r="1.5" fill="#8a3310"/><circle cx="719.5" cy="181.2" r="1.2" fill="#a8481e"/><circle cx="723.7" cy="182.8" r="1.2" fill="#8a3310"/><circle cx="727.3" cy="183.6" r="1.7" fill="#8a3310"/><circle cx="726.9" cy="225.4" r="1.9" fill="#8a3310"/><circle cx="724.3" cy="200.9" r="1.3" fill="#8a3310"/><circle cx="728.0" cy="195.8" r="1.8" fill="#a8481e"/><circle cx="728.2" cy="234.7" r="1.2" fill="#8a3310"/><circle cx="725.1" cy="237.0" r="1.5" fill="#8a3310"/><circle cx="726.9" cy="182.2" r="1.4" fill="#8a3310"/><circle cx="725.5" cy="198.9" r="1.2" fill="#9a3b12"/><circle cx="727.2" cy="213.4" r="1.4" fill="#a8481e"/><circle cx="719.0" cy="229.4" r="1.8" fill="#8a3310"/><circle cx="720.6" cy="193.4" r="1.6" fill="#9a3b12"/><circle cx="723.5" cy="176.9" r="1.2" fill="#9a3b12"/><circle cx="721.5" cy="235.6" r="1.9" fill="#8a3310"/><circle cx="728.5" cy="195.3" r="1.8" fill="#9a3b12"/><circle cx="719.9" cy="241.2" r="1.3" fill="#8a3310"/><circle cx="722.7" cy="220.7" r="1.8" fill="#9a3b12"/><circle cx="723.1" cy="236.9" r="1.2" fill="#9a3b12"/><circle cx="718.7" cy="228.6" r="1.1" fill="#8a3310"/><circle cx="726.4" cy="231.5" r="1.6" fill="#8a3310"/><circle cx="718.8" cy="201.9" r="1.1" fill="#a8481e"/><circle cx="728.0" cy="189.8" r="1.1" fill="#8a3310"/><circle cx="718.6" cy="218.3" r="1.7" fill="#9a3b12"/><path d="M716.5 162.3L729.5 167.3M716.5 173.2L729.5 178.2M716.5 184.1L729.5 189.1M716.5 195.0L729.5 200.0M716.5 205.9L729.5 210.9M716.5 216.8L729.5 221.8M716.5 227.7L729.5 232.7M716.5 238.6L729.5 243.6" stroke="#111" stroke-width="2.2" fill="none"/></g><rect x="718.19" y="175.65" width="9.70" height="65.70" fill="none" stroke="#222" stroke-width="1.3"/><text transform="translate(712.8,209.1) rotate(-90)" text-anchor="middle" font-family="Liberation Sans" font-weight="bold" font-size="11.8" fill="#000" textLength="47.6" lengthAdjust="spacingAndGlyphs">p1 (30)</text><text transform="translate(742.5,205.8) rotate(-90)" text-anchor="middle" font-family="Liberation Sans" font-weight="bold" font-size="13.3" fill="#000" textLength="34.0" lengthAdjust="spacingAndGlyphs">W:MB</text>
<clipPath id="k9"><rect x="717.5400000000001" y="310.0" width="11" height="67.30000000000001"/></clipPath><g clip-path="url(#k9)"><rect x="717.5400000000001" y="310.0" width="11" height="67.30000000000001" fill="#f3f3f3"/><circle cx="722.9" cy="336.9" r="1.4" fill="#3a4652"/><circle cx="728.4" cy="353.9" r="1.2" fill="#2f3a46"/><circle cx="721.2" cy="351.7" r="1.3" fill="#2f3a46"/><circle cx="724.1" cy="360.0" r="1.5" fill="#2f3a46"/><circle cx="720.6" cy="344.7" r="1.5" fill="#3a4652"/><circle cx="721.8" cy="354.7" r="1.2" fill="#2f3a46"/><circle cx="723.4" cy="357.4" r="1.6" fill="#2f3a46"/><circle cx="722.6" cy="344.3" r="1.5" fill="#2f3a46"/><circle cx="717.6" cy="310.6" r="1.6" fill="#3a4652"/><circle cx="718.9" cy="327.4" r="1.3" fill="#46525e"/><circle cx="719.9" cy="374.6" r="1.9" fill="#46525e"/><circle cx="725.6" cy="335.0" r="1.5" fill="#2f3a46"/><circle cx="721.0" cy="361.8" r="1.9" fill="#46525e"/><circle cx="721.7" cy="369.1" r="1.7" fill="#46525e"/><circle cx="722.8" cy="350.4" r="1.4" fill="#46525e"/><circle cx="722.6" cy="359.0" r="1.8" fill="#46525e"/><circle cx="726.0" cy="321.8" r="1.2" fill="#46525e"/><circle cx="718.2" cy="331.3" r="1.6" fill="#3a4652"/><circle cx="723.0" cy="358.0" r="1.4" fill="#2f3a46"/><circle cx="720.3" cy="356.2" r="1.3" fill="#46525e"/><circle cx="726.7" cy="324.1" r="1.8" fill="#2f3a46"/><circle cx="720.8" cy="327.8" r="1.4" fill="#2f3a46"/><circle cx="717.6" cy="369.7" r="1.5" fill="#3a4652"/><circle cx="718.1" cy="329.1" r="1.6" fill="#46525e"/><circle cx="725.6" cy="351.6" r="1.2" fill="#2f3a46"/><circle cx="728.2" cy="360.3" r="1.2" fill="#2f3a46"/><circle cx="720.3" cy="315.0" r="1.7" fill="#2f3a46"/><circle cx="719.9" cy="367.3" r="1.8" fill="#3a4652"/><circle cx="726.2" cy="329.2" r="1.2" fill="#3a4652"/><circle cx="719.1" cy="335.7" r="1.2" fill="#46525e"/><circle cx="726.2" cy="346.6" r="1.7" fill="#46525e"/><circle cx="718.0" cy="347.0" r="1.5" fill="#3a4652"/><circle cx="725.9" cy="323.4" r="1.7" fill="#46525e"/><circle cx="726.4" cy="357.3" r="1.2" fill="#3a4652"/><circle cx="725.5" cy="312.6" r="1.7" fill="#46525e"/><circle cx="719.3" cy="346.2" r="1.1" fill="#2f3a46"/><circle cx="720.3" cy="341.9" r="1.7" fill="#46525e"/><circle cx="717.6" cy="366.4" r="1.4" fill="#2f3a46"/><circle cx="723.2" cy="353.8" r="1.7" fill="#2f3a46"/><circle cx="722.6" cy="376.8" r="1.3" fill="#3a4652"/><circle cx="723.0" cy="324.0" r="1.1" fill="#46525e"/><circle cx="727.0" cy="363.7" r="1.8" fill="#3a4652"/><circle cx="722.6" cy="366.9" r="1.2" fill="#3a4652"/><circle cx="719.9" cy="316.6" r="1.5" fill="#46525e"/><path d="M716.5 304.1L729.5 309.1M716.5 315.0L729.5 320.0M716.5 325.9L729.5 330.9M716.5 336.8L729.5 341.8M716.5 347.7L729.5 352.7M716.5 358.6L729.5 363.6M716.5 369.5L729.5 374.5M716.5 380.4L729.5 385.4" stroke="#111" stroke-width="2.2" fill="none"/></g><rect x="718.19" y="310.65" width="9.70" height="66.00" fill="none" stroke="#222" stroke-width="1.3"/><text transform="translate(712.8,344.2) rotate(-90)" text-anchor="middle" font-family="Liberation Sans" font-weight="bold" font-size="11.8" fill="#000" textLength="47.6" lengthAdjust="spacingAndGlyphs">p2 (50)</text><text transform="translate(742.5,340.9) rotate(-90)" text-anchor="middle" font-family="Liberation Sans" font-weight="bold" font-size="13.3" fill="#000" textLength="31.0" lengthAdjust="spacingAndGlyphs">W:BG</text>
<clipPath id="k10"><rect x="863.9000000000001" y="175.0" width="11" height="67.0"/></clipPath><g clip-path="url(#k10)"><rect x="863.9000000000001" y="175.0" width="11" height="67.0" fill="#f6f6f6"/><circle cx="871.7" cy="208.3" r="1.4" fill="#9a3b12"/><circle cx="865.1" cy="213.2" r="1.8" fill="#a8481e"/><circle cx="867.2" cy="184.8" r="1.6" fill="#8a3310"/><circle cx="872.2" cy="184.0" r="1.6" fill="#9a3b12"/><circle cx="870.5" cy="187.7" r="1.3" fill="#9a3b12"/><circle cx="872.5" cy="226.6" r="1.3" fill="#8a3310"/><circle cx="869.3" cy="226.5" r="1.4" fill="#8a3310"/><circle cx="874.5" cy="195.0" r="1.1" fill="#9a3b12"/><circle cx="870.8" cy="210.8" r="1.3" fill="#9a3b12"/><circle cx="871.9" cy="180.6" r="1.8" fill="#9a3b12"/><circle cx="870.4" cy="235.8" r="1.8" fill="#8a3310"/><circle cx="874.2" cy="197.9" r="1.7" fill="#9a3b12"/><circle cx="865.8" cy="233.5" r="1.7" fill="#9a3b12"/><circle cx="874.2" cy="212.4" r="1.4" fill="#a8481e"/><circle cx="871.1" cy="175.0" r="1.1" fill="#a8481e"/><circle cx="865.2" cy="237.5" r="1.2" fill="#9a3b12"/><circle cx="867.2" cy="210.2" r="1.3" fill="#8a3310"/><circle cx="869.6" cy="187.8" r="1.4" fill="#9a3b12"/><circle cx="864.9" cy="207.1" r="1.7" fill="#a8481e"/><circle cx="872.6" cy="215.4" r="1.2" fill="#9a3b12"/><circle cx="870.0" cy="239.4" r="1.2" fill="#a8481e"/><circle cx="869.8" cy="199.0" r="1.7" fill="#a8481e"/><circle cx="870.5" cy="192.2" r="1.3" fill="#a8481e"/><circle cx="870.0" cy="178.7" r="1.2" fill="#a8481e"/><circle cx="868.5" cy="241.1" r="1.8" fill="#a8481e"/><circle cx="870.2" cy="193.7" r="1.7" fill="#a8481e"/><circle cx="868.1" cy="222.7" r="1.3" fill="#9a3b12"/><circle cx="866.4" cy="213.0" r="1.3" fill="#9a3b12"/><circle cx="874.1" cy="183.0" r="1.2" fill="#9a3b12"/><circle cx="867.8" cy="238.8" r="1.9" fill="#9a3b12"/><circle cx="868.8" cy="232.3" r="1.3" fill="#9a3b12"/><circle cx="871.1" cy="196.9" r="1.2" fill="#a8481e"/><circle cx="864.8" cy="210.0" r="1.5" fill="#8a3310"/><circle cx="868.5" cy="240.9" r="1.9" fill="#a8481e"/><circle cx="866.7" cy="229.9" r="1.8" fill="#8a3310"/><circle cx="874.3" cy="238.6" r="1.2" fill="#8a3310"/><circle cx="864.7" cy="193.7" r="1.8" fill="#9a3b12"/><circle cx="869.2" cy="211.8" r="1.6" fill="#a8481e"/><circle cx="873.8" cy="235.1" r="1.8" fill="#8a3310"/><circle cx="869.3" cy="175.3" r="1.3" fill="#a8481e"/><circle cx="873.3" cy="201.9" r="1.3" fill="#a8481e"/><circle cx="872.0" cy="184.9" r="1.4" fill="#8a3310"/><circle cx="874.4" cy="239.0" r="1.8" fill="#8a3310"/><circle cx="867.8" cy="238.7" r="1.4" fill="#a8481e"/><path d="M862.9 167.3L875.9 172.3M862.9 178.2L875.9 183.2M862.9 189.1L875.9 194.1M862.9 200.0L875.9 205.0M862.9 210.9L875.9 215.9M862.9 221.8L875.9 226.8M862.9 232.7L875.9 237.7M862.9 243.6L875.9 248.6" stroke="#111" stroke-width="2.2" fill="none"/></g><rect x="864.55" y="175.65" width="9.70" height="65.70" fill="none" stroke="#222" stroke-width="1.3"/><text transform="translate(859.2,209.1) rotate(-90)" text-anchor="middle" font-family="Liberation Sans" font-weight="bold" font-size="11.8" fill="#000" textLength="41.2" lengthAdjust="spacingAndGlyphs">p1 (0)</text><text transform="translate(888.9,205.8) rotate(-90)" text-anchor="middle" font-family="Liberation Sans" font-weight="bold" font-size="13.3" fill="#000" textLength="34.0" lengthAdjust="spacingAndGlyphs">W:MB</text>
<clipPath id="k11"><rect x="863.9000000000001" y="310.0" width="11" height="67.30000000000001"/></clipPath><g clip-path="url(#k11)"><rect x="863.9000000000001" y="310.0" width="11" height="67.30000000000001" fill="#f3f3f3"/><circle cx="868.4" cy="332.9" r="1.5" fill="#3a4652"/><circle cx="865.3" cy="340.9" r="1.2" fill="#3a4652"/><circle cx="874.1" cy="372.6" r="1.2" fill="#2f3a46"/><circle cx="868.7" cy="314.0" r="1.3" fill="#2f3a46"/><circle cx="870.4" cy="325.8" r="1.8" fill="#46525e"/><circle cx="864.0" cy="358.1" r="1.2" fill="#2f3a46"/><circle cx="872.2" cy="332.4" r="1.4" fill="#2f3a46"/><circle cx="869.7" cy="332.6" r="1.7" fill="#46525e"/><circle cx="865.9" cy="325.4" r="1.5" fill="#46525e"/><circle cx="869.4" cy="366.8" r="1.4" fill="#3a4652"/><circle cx="872.9" cy="355.7" r="1.5" fill="#3a4652"/><circle cx="874.4" cy="372.6" r="1.5" fill="#46525e"/><circle cx="864.7" cy="356.9" r="1.5" fill="#46525e"/><circle cx="865.7" cy="369.0" r="1.4" fill="#3a4652"/><circle cx="866.9" cy="334.7" r="1.2" fill="#3a4652"/><circle cx="866.8" cy="363.2" r="1.6" fill="#46525e"/><circle cx="867.5" cy="376.3" r="1.3" fill="#3a4652"/><circle cx="873.2" cy="316.9" r="1.6" fill="#2f3a46"/><circle cx="872.3" cy="326.6" r="1.7" fill="#3a4652"/><circle cx="868.5" cy="322.2" r="1.3" fill="#46525e"/><circle cx="872.0" cy="348.7" r="1.2" fill="#3a4652"/><circle cx="865.4" cy="358.6" r="1.1" fill="#46525e"/><circle cx="865.6" cy="340.2" r="1.3" fill="#2f3a46"/><circle cx="866.0" cy="352.3" r="1.9" fill="#2f3a46"/><circle cx="873.3" cy="323.3" r="1.4" fill="#3a4652"/><circle cx="871.3" cy="373.9" r="1.8" fill="#3a4652"/><circle cx="865.1" cy="351.6" r="1.4" fill="#3a4652"/><circle cx="873.1" cy="355.1" r="1.6" fill="#3a4652"/><circle cx="870.5" cy="375.6" r="1.4" fill="#46525e"/><circle cx="866.9" cy="333.0" r="1.8" fill="#2f3a46"/><circle cx="874.2" cy="354.5" r="1.6" fill="#2f3a46"/><circle cx="872.1" cy="350.1" r="1.2" fill="#3a4652"/><circle cx="870.1" cy="329.5" r="1.2" fill="#46525e"/><circle cx="870.0" cy="327.8" r="1.4" fill="#46525e"/><circle cx="867.8" cy="355.3" r="1.4" fill="#2f3a46"/><circle cx="868.9" cy="339.1" r="1.4" fill="#46525e"/><circle cx="864.6" cy="336.1" r="1.6" fill="#2f3a46"/><circle cx="866.1" cy="321.7" r="1.7" fill="#46525e"/><circle cx="867.5" cy="377.0" r="1.7" fill="#2f3a46"/><circle cx="871.0" cy="358.6" r="1.5" fill="#3a4652"/><circle cx="865.3" cy="375.9" r="1.4" fill="#2f3a46"/><circle cx="869.7" cy="345.5" r="1.2" fill="#46525e"/><circle cx="872.2" cy="347.6" r="1.2" fill="#2f3a46"/><circle cx="873.7" cy="340.2" r="1.2" fill="#3a4652"/><path d="M862.9 294.3L875.9 299.3M862.9 305.2L875.9 310.2M862.9 316.1L875.9 321.1M862.9 327.0L875.9 332.0M862.9 337.9L875.9 342.9M862.9 348.8L875.9 353.8M862.9 359.7L875.9 364.7M862.9 370.6L875.9 375.6M862.9 381.5L875.9 386.5" stroke="#111" stroke-width="2.2" fill="none"/></g><rect x="864.55" y="310.65" width="9.70" height="66.00" fill="none" stroke="#222" stroke-width="1.3"/><text transform="translate(859.2,344.2) rotate(-90)" text-anchor="middle" font-family="Liberation Sans" font-weight="bold" font-size="11.8" fill="#000" textLength="47.6" lengthAdjust="spacingAndGlyphs">p2 (60)</text><text transform="translate(888.9,340.9) rotate(-90)" text-anchor="middle" font-family="Liberation Sans" font-weight="bold" font-size="13.3" fill="#000" textLength="31.0" lengthAdjust="spacingAndGlyphs">W:BG</text>
<clipPath id="k12"><rect x="1010.2600000000001" y="175.0" width="11" height="67.0"/></clipPath><g clip-path="url(#k12)"><rect x="1010.2600000000001" y="175.0" width="11" height="67.0" fill="#f6f6f6"/><circle cx="1016.4" cy="210.0" r="1.9" fill="#9a3b12"/><circle cx="1015.5" cy="207.6" r="1.9" fill="#a8481e"/><circle cx="1020.0" cy="179.6" r="1.5" fill="#8a3310"/><circle cx="1013.9" cy="190.5" r="1.7" fill="#8a3310"/><circle cx="1011.8" cy="227.8" r="1.2" fill="#a8481e"/><circle cx="1019.3" cy="196.4" r="1.7" fill="#a8481e"/><circle cx="1020.9" cy="225.6" r="1.1" fill="#a8481e"/><circle cx="1012.7" cy="217.4" r="1.5" fill="#a8481e"/><circle cx="1016.5" cy="223.1" r="1.6" fill="#a8481e"/><circle cx="1018.0" cy="196.3" r="1.6" fill="#a8481e"/><circle cx="1020.2" cy="199.7" r="1.6" fill="#8a3310"/><circle cx="1014.5" cy="226.6" r="1.4" fill="#a8481e"/><circle cx="1017.0" cy="206.6" r="1.9" fill="#a8481e"/><circle cx="1015.8" cy="223.9" r="1.9" fill="#a8481e"/><circle cx="1013.2" cy="217.7" r="1.3" fill="#9a3b12"/><circle cx="1012.5" cy="233.9" r="1.1" fill="#a8481e"/><circle cx="1013.0" cy="197.6" r="1.2" fill="#8a3310"/><circle cx="1012.8" cy="184.1" r="1.4" fill="#8a3310"/><circle cx="1013.8" cy="184.4" r="1.6" fill="#a8481e"/><circle cx="1011.2" cy="219.0" r="1.5" fill="#a8481e"/><circle cx="1013.7" cy="200.8" r="1.8" fill="#8a3310"/><circle cx="1012.8" cy="218.6" r="1.5" fill="#9a3b12"/><circle cx="1012.1" cy="214.4" r="1.5" fill="#8a3310"/><circle cx="1014.4" cy="190.4" r="1.3" fill="#8a3310"/><circle cx="1013.9" cy="194.7" r="1.8" fill="#a8481e"/><circle cx="1013.4" cy="194.7" r="1.1" fill="#8a3310"/><circle cx="1016.7" cy="185.6" r="1.2" fill="#a8481e"/><circle cx="1012.7" cy="186.5" r="1.8" fill="#a8481e"/><circle cx="1016.7" cy="210.4" r="1.6" fill="#9a3b12"/><circle cx="1010.5" cy="204.2" r="1.2" fill="#a8481e"/><circle cx="1015.0" cy="199.4" r="1.7" fill="#8a3310"/><circle cx="1017.8" cy="179.7" r="1.6" fill="#8a3310"/><circle cx="1011.7" cy="215.9" r="1.8" fill="#9a3b12"/><circle cx="1011.8" cy="186.1" r="1.1" fill="#8a3310"/><circle cx="1019.8" cy="224.6" r="1.1" fill="#a8481e"/><circle cx="1018.4" cy="228.2" r="1.4" fill="#a8481e"/><circle cx="1013.5" cy="181.3" r="1.6" fill="#8a3310"/><circle cx="1014.3" cy="197.0" r="1.4" fill="#a8481e"/><circle cx="1012.7" cy="241.8" r="1.6" fill="#a8481e"/><circle cx="1015.4" cy="229.1" r="1.9" fill="#9a3b12"/><circle cx="1015.4" cy="232.3" r="1.3" fill="#a8481e"/><circle cx="1018.2" cy="231.1" r="1.7" fill="#a8481e"/><circle cx="1018.0" cy="230.4" r="1.5" fill="#8a3310"/><circle cx="1014.5" cy="175.5" r="1.3" fill="#8a3310"/><path d="M1009.3 167.6L1022.3 172.6M1009.3 178.5L1022.3 183.5M1009.3 189.4L1022.3 194.4M1009.3 200.3L1022.3 205.3M1009.3 211.2L1022.3 216.2M1009.3 222.1L1022.3 227.1M1009.3 233.0L1022.3 238.0M1009.3 243.9L1022.3 248.9" stroke="#111" stroke-width="2.2" fill="none"/></g><rect x="1010.91" y="175.65" width="9.70" height="65.70" fill="none" stroke="#222" stroke-width="1.3"/><text transform="translate(1005.6,209.1) rotate(-90)" text-anchor="middle" font-family="Liberation Sans" font-weight="bold" font-size="11.8" fill="#000" textLength="47.6" lengthAdjust="spacingAndGlyphs">p1 (20)</text><text transform="translate(1035.3,205.8) rotate(-90)" text-anchor="middle" font-family="Liberation Sans" font-weight="bold" font-size="13.3" fill="#000" textLength="34.0" lengthAdjust="spacingAndGlyphs">W:MB</text>
<clipPath id="k13"><rect x="1010.2600000000001" y="310.0" width="11" height="67.30000000000001"/></clipPath><g clip-path="url(#k13)"><rect x="1010.2600000000001" y="310.0" width="11" height="67.30000000000001" fill="#f3f3f3"/><circle cx="1012.0" cy="312.5" r="1.8" fill="#46525e"/><circle cx="1010.4" cy="334.2" r="1.6" fill="#3a4652"/><circle cx="1017.7" cy="342.9" r="1.2" fill="#3a4652"/><circle cx="1016.5" cy="356.3" r="1.2" fill="#2f3a46"/><circle cx="1014.9" cy="331.1" r="1.5" fill="#2f3a46"/><circle cx="1018.4" cy="359.5" r="1.6" fill="#46525e"/><circle cx="1012.6" cy="355.8" r="1.1" fill="#46525e"/><circle cx="1017.9" cy="360.1" r="1.4" fill="#3a4652"/><circle cx="1014.1" cy="339.2" r="1.6" fill="#2f3a46"/><circle cx="1018.6" cy="329.1" r="1.2" fill="#2f3a46"/><circle cx="1020.1" cy="348.5" r="1.7" fill="#46525e"/><circle cx="1018.2" cy="360.7" r="1.6" fill="#46525e"/><circle cx="1012.4" cy="346.7" r="1.7" fill="#3a4652"/><circle cx="1012.7" cy="343.6" r="1.9" fill="#2f3a46"/><circle cx="1018.9" cy="364.2" r="1.9" fill="#46525e"/><circle cx="1017.2" cy="375.7" r="1.3" fill="#3a4652"/><circle cx="1010.7" cy="351.4" r="1.6" fill="#2f3a46"/><circle cx="1013.9" cy="350.3" r="1.4" fill="#3a4652"/><circle cx="1018.9" cy="343.2" r="1.7" fill="#2f3a46"/><circle cx="1011.4" cy="325.5" r="1.8" fill="#46525e"/><circle cx="1016.0" cy="353.5" r="1.4" fill="#2f3a46"/><circle cx="1021.1" cy="336.3" r="1.9" fill="#2f3a46"/><circle cx="1013.0" cy="364.3" r="1.4" fill="#46525e"/><circle cx="1014.0" cy="337.7" r="1.1" fill="#2f3a46"/><circle cx="1021.1" cy="363.2" r="1.5" fill="#2f3a46"/><circle cx="1016.4" cy="373.3" r="1.8" fill="#3a4652"/><circle cx="1014.5" cy="343.6" r="1.7" fill="#3a4652"/><circle cx="1011.6" cy="345.7" r="1.5" fill="#2f3a46"/><circle cx="1017.3" cy="322.5" r="1.7" fill="#3a4652"/><circle cx="1018.0" cy="328.9" r="1.5" fill="#3a4652"/><circle cx="1013.8" cy="327.7" r="1.9" fill="#2f3a46"/><circle cx="1020.6" cy="322.8" r="1.4" fill="#2f3a46"/><circle cx="1010.6" cy="366.7" r="1.7" fill="#2f3a46"/><circle cx="1014.8" cy="361.7" r="1.8" fill="#2f3a46"/><circle cx="1010.4" cy="375.2" r="1.6" fill="#2f3a46"/><circle cx="1014.1" cy="325.9" r="1.6" fill="#46525e"/><circle cx="1010.4" cy="352.0" r="1.9" fill="#46525e"/><circle cx="1018.9" cy="366.8" r="1.8" fill="#46525e"/><circle cx="1013.7" cy="326.9" r="1.7" fill="#3a4652"/><circle cx="1013.6" cy="331.3" r="1.2" fill="#2f3a46"/><circle cx="1013.4" cy="335.1" r="1.4" fill="#2f3a46"/><circle cx="1018.9" cy="346.0" r="1.1" fill="#46525e"/><circle cx="1016.6" cy="358.7" r="1.8" fill="#3a4652"/><circle cx="1013.8" cy="332.6" r="1.8" fill="#46525e"/><path d="M1009.3 301.6L1022.3 306.6M1009.3 312.5L1022.3 317.5M1009.3 323.4L1022.3 328.4M1009.3 334.3L1022.3 339.3M1009.3 345.2L1022.3 350.2M1009.3 356.1L1022.3 361.1M1009.3 367.0L1022.3 372.0M1009.3 377.9L1022.3 382.9" stroke="#111" stroke-width="2.2" fill="none"/></g><rect x="1010.91" y="310.65" width="9.70" height="66.00" fill="none" stroke="#222" stroke-width="1.3"/><text transform="translate(1005.6,344.2) rotate(-90)" text-anchor="middle" font-family="Liberation Sans" font-weight="bold" font-size="11.8" fill="#000" textLength="41.2" lengthAdjust="spacingAndGlyphs">p2 (0)</text><text transform="translate(1035.3,340.9) rotate(-90)" text-anchor="middle" font-family="Liberation Sans" font-weight="bold" font-size="13.3" fill="#000" textLength="31.0" lengthAdjust="spacingAndGlyphs">W:BG</text>
<clipPath id="k14"><rect x="1156.62" y="175.0" width="11" height="67.0"/></clipPath><g clip-path="url(#k14)"><rect x="1156.62" y="175.0" width="11" height="67.0" fill="#f6f6f6"/><circle cx="1158.4" cy="202.4" r="1.8" fill="#9a3b12"/><circle cx="1166.2" cy="233.8" r="1.8" fill="#9a3b12"/><circle cx="1164.9" cy="217.7" r="1.4" fill="#8a3310"/><circle cx="1162.2" cy="237.7" r="1.8" fill="#a8481e"/><circle cx="1165.3" cy="234.8" r="1.6" fill="#8a3310"/><circle cx="1167.2" cy="198.1" r="1.8" fill="#a8481e"/><circle cx="1166.5" cy="180.6" r="1.3" fill="#8a3310"/><circle cx="1161.9" cy="194.0" r="1.6" fill="#8a3310"/><circle cx="1159.3" cy="216.7" r="1.3" fill="#8a3310"/><circle cx="1163.7" cy="220.4" r="1.5" fill="#9a3b12"/><circle cx="1162.8" cy="237.3" r="1.4" fill="#a8481e"/><circle cx="1161.6" cy="188.5" r="1.6" fill="#a8481e"/><circle cx="1162.0" cy="227.3" r="1.3" fill="#8a3310"/><circle cx="1165.9" cy="195.2" r="1.6" fill="#a8481e"/><circle cx="1158.7" cy="217.5" r="1.7" fill="#a8481e"/><circle cx="1164.6" cy="224.9" r="1.5" fill="#a8481e"/><circle cx="1159.7" cy="224.3" r="1.3" fill="#8a3310"/><circle cx="1166.2" cy="236.3" r="1.8" fill="#8a3310"/><circle cx="1157.4" cy="214.9" r="1.9" fill="#8a3310"/><circle cx="1164.9" cy="205.6" r="1.8" fill="#9a3b12"/><circle cx="1160.2" cy="210.9" r="1.2" fill="#8a3310"/><circle cx="1166.2" cy="237.3" r="1.8" fill="#9a3b12"/><circle cx="1159.4" cy="208.8" r="1.6" fill="#8a3310"/><circle cx="1166.0" cy="190.4" r="1.5" fill="#9a3b12"/><circle cx="1158.4" cy="232.3" r="1.6" fill="#8a3310"/><circle cx="1157.9" cy="189.4" r="1.8" fill="#8a3310"/><circle cx="1157.2" cy="197.3" r="1.6" fill="#9a3b12"/><circle cx="1160.8" cy="225.7" r="1.2" fill="#9a3b12"/><circle cx="1158.5" cy="211.2" r="1.4" fill="#a8481e"/><circle cx="1162.2" cy="232.6" r="1.4" fill="#a8481e"/><circle cx="1165.7" cy="175.3" r="1.9" fill="#a8481e"/><circle cx="1167.6" cy="229.1" r="1.7" fill="#9a3b12"/><circle cx="1166.3" cy="196.7" r="1.8" fill="#9a3b12"/><circle cx="1167.1" cy="184.4" r="1.5" fill="#8a3310"/><circle cx="1166.4" cy="184.9" r="1.5" fill="#8a3310"/><circle cx="1157.9" cy="197.2" r="1.1" fill="#a8481e"/><circle cx="1162.0" cy="183.9" r="1.3" fill="#9a3b12"/><circle cx="1157.0" cy="188.7" r="1.9" fill="#9a3b12"/><circle cx="1158.5" cy="189.0" r="1.9" fill="#8a3310"/><circle cx="1164.2" cy="204.1" r="1.7" fill="#9a3b12"/><circle cx="1159.7" cy="225.8" r="1.4" fill="#9a3b12"/><circle cx="1167.3" cy="193.1" r="1.6" fill="#9a3b12"/><circle cx="1159.9" cy="221.1" r="1.6" fill="#9a3b12"/><circle cx="1159.7" cy="230.9" r="1.2" fill="#a8481e"/><path d="M1155.6 162.6L1168.6 167.6M1155.6 173.5L1168.6 178.5M1155.6 184.4L1168.6 189.4M1155.6 195.3L1168.6 200.3M1155.6 206.2L1168.6 211.2M1155.6 217.1L1168.6 222.1M1155.6 228.0L1168.6 233.0M1155.6 238.9L1168.6 243.9" stroke="#111" stroke-width="2.2" fill="none"/></g><rect x="1157.27" y="175.65" width="9.70" height="65.70" fill="none" stroke="#222" stroke-width="1.3"/><text transform="translate(1151.9,209.1) rotate(-90)" text-anchor="middle" font-family="Liberation Sans" font-weight="bold" font-size="11.8" fill="#000" textLength="47.6" lengthAdjust="spacingAndGlyphs">p1 (30)</text><text transform="translate(1181.6,205.8) rotate(-90)" text-anchor="middle" font-family="Liberation Sans" font-weight="bold" font-size="13.3" fill="#000" textLength="34.0" lengthAdjust="spacingAndGlyphs">W:MB</text>
<clipPath id="k15"><rect x="1156.62" y="310.0" width="11" height="67.30000000000001"/></clipPath><g clip-path="url(#k15)"><rect x="1156.62" y="310.0" width="11" height="67.30000000000001" fill="#f3f3f3"/><circle cx="1159.7" cy="317.1" r="1.5" fill="#46525e"/><circle cx="1157.9" cy="340.2" r="1.8" fill="#3a4652"/><circle cx="1161.0" cy="321.8" r="1.4" fill="#3a4652"/><circle cx="1160.0" cy="366.5" r="1.8" fill="#46525e"/><circle cx="1161.2" cy="377.0" r="1.8" fill="#2f3a46"/><circle cx="1156.8" cy="371.5" r="1.5" fill="#2f3a46"/><circle cx="1160.4" cy="350.6" r="1.1" fill="#3a4652"/><circle cx="1163.9" cy="356.3" r="1.6" fill="#2f3a46"/><circle cx="1167.0" cy="320.4" r="1.2" fill="#46525e"/><circle cx="1167.0" cy="354.9" r="1.4" fill="#3a4652"/><circle cx="1166.1" cy="316.1" r="1.3" fill="#2f3a46"/><circle cx="1162.0" cy="343.9" r="1.3" fill="#3a4652"/><circle cx="1166.4" cy="358.7" r="1.8" fill="#2f3a46"/><circle cx="1159.9" cy="323.6" r="1.5" fill="#2f3a46"/><circle cx="1157.1" cy="324.8" r="1.4" fill="#2f3a46"/><circle cx="1158.3" cy="375.3" r="1.4" fill="#3a4652"/><circle cx="1165.7" cy="366.6" r="1.2" fill="#2f3a46"/><circle cx="1162.2" cy="317.8" r="1.8" fill="#2f3a46"/><circle cx="1163.3" cy="315.3" r="1.7" fill="#3a4652"/><circle cx="1164.5" cy="334.3" r="1.6" fill="#46525e"/><circle cx="1158.4" cy="371.1" r="1.6" fill="#2f3a46"/><circle cx="1167.4" cy="363.9" r="1.6" fill="#46525e"/><circle cx="1162.5" cy="338.6" r="1.2" fill="#2f3a46"/><circle cx="1160.7" cy="357.4" r="1.2" fill="#46525e"/><circle cx="1163.8" cy="374.1" r="1.5" fill="#2f3a46"/><circle cx="1157.7" cy="358.9" r="1.4" fill="#3a4652"/><circle cx="1164.6" cy="319.9" r="1.6" fill="#2f3a46"/><circle cx="1158.8" cy="352.2" r="1.4" fill="#2f3a46"/><circle cx="1165.0" cy="351.7" r="1.8" fill="#46525e"/><circle cx="1163.4" cy="326.4" r="1.4" fill="#46525e"/><circle cx="1166.1" cy="349.7" r="1.5" fill="#2f3a46"/><circle cx="1161.4" cy="310.2" r="1.6" fill="#3a4652"/><circle cx="1165.2" cy="358.0" r="1.5" fill="#46525e"/><circle cx="1157.2" cy="315.5" r="1.7" fill="#46525e"/><circle cx="1158.8" cy="331.4" r="1.3" fill="#3a4652"/><circle cx="1160.4" cy="377.3" r="1.5" fill="#2f3a46"/><circle cx="1165.9" cy="377.2" r="1.7" fill="#2f3a46"/><circle cx="1163.1" cy="357.2" r="1.2" fill="#46525e"/><circle cx="1166.5" cy="313.7" r="1.7" fill="#3a4652"/><circle cx="1159.7" cy="322.6" r="1.6" fill="#2f3a46"/><circle cx="1157.9" cy="332.6" r="1.4" fill="#46525e"/><circle cx="1160.3" cy="332.4" r="1.2" fill="#3a4652"/><circle cx="1161.7" cy="371.6" r="1.2" fill="#3a4652"/><circle cx="1167.3" cy="371.9" r="1.1" fill="#2f3a46"/><path d="M1155.6 301.6L1168.6 306.6M1155.6 312.5L1168.6 317.5M1155.6 323.4L1168.6 328.4M1155.6 334.3L1168.6 339.3M1155.6 345.2L1168.6 350.2M1155.6 356.1L1168.6 361.1M1155.6 367.0L1168.6 372.0M1155.6 377.9L1168.6 382.9" stroke="#111" stroke-width="2.2" fill="none"/></g><rect x="1157.27" y="310.65" width="9.70" height="66.00" fill="none" stroke="#222" stroke-width="1.3"/><text transform="translate(1151.9,344.2) rotate(-90)" text-anchor="middle" font-family="Liberation Sans" font-weight="bold" font-size="11.8" fill="#000" textLength="47.6" lengthAdjust="spacingAndGlyphs">p2 (10)</text><text transform="translate(1181.6,340.9) rotate(-90)" text-anchor="middle" font-family="Liberation Sans" font-weight="bold" font-size="13.3" fill="#000" textLength="31.0" lengthAdjust="spacingAndGlyphs">W:BG</text>
<clipPath id="k16"><rect x="1302.98" y="175.0" width="11" height="67.0"/></clipPath><g clip-path="url(#k16)"><rect x="1302.98" y="175.0" width="11" height="67.0" fill="#f6f6f6"/><circle cx="1308.1" cy="210.4" r="1.8" fill="#9a3b12"/><circle cx="1307.7" cy="203.2" r="1.7" fill="#8a3310"/><circle cx="1307.6" cy="185.2" r="1.6" fill="#8a3310"/><circle cx="1304.7" cy="215.4" r="1.3" fill="#9a3b12"/><circle cx="1310.6" cy="229.1" r="1.7" fill="#a8481e"/><circle cx="1311.4" cy="220.2" r="1.2" fill="#8a3310"/><circle cx="1311.1" cy="218.0" r="1.4" fill="#8a3310"/><circle cx="1308.0" cy="214.3" r="1.2" fill="#a8481e"/><circle cx="1305.0" cy="203.3" r="1.9" fill="#9a3b12"/><circle cx="1304.9" cy="175.9" r="1.8" fill="#8a3310"/><circle cx="1308.3" cy="218.0" r="1.5" fill="#8a3310"/><circle cx="1310.5" cy="180.7" r="1.9" fill="#a8481e"/><circle cx="1311.5" cy="212.1" r="1.2" fill="#a8481e"/><circle cx="1309.5" cy="200.3" r="1.5" fill="#8a3310"/><circle cx="1312.8" cy="180.5" r="1.9" fill="#8a3310"/><circle cx="1307.4" cy="241.2" r="1.3" fill="#a8481e"/><circle cx="1306.6" cy="210.1" r="1.2" fill="#a8481e"/><circle cx="1312.8" cy="219.9" r="1.1" fill="#8a3310"/><circle cx="1310.4" cy="216.3" r="1.5" fill="#8a3310"/><circle cx="1304.1" cy="230.4" r="1.2" fill="#8a3310"/><circle cx="1303.2" cy="238.1" r="1.2" fill="#9a3b12"/><circle cx="1303.7" cy="180.4" r="1.3" fill="#9a3b12"/><circle cx="1305.4" cy="240.9" r="1.1" fill="#9a3b12"/><circle cx="1306.1" cy="234.0" r="1.5" fill="#a8481e"/><circle cx="1304.9" cy="214.5" r="1.3" fill="#9a3b12"/><circle cx="1306.9" cy="208.8" r="1.7" fill="#9a3b12"/><circle cx="1305.9" cy="222.4" r="1.1" fill="#9a3b12"/><circle cx="1306.8" cy="213.2" r="1.8" fill="#9a3b12"/><circle cx="1308.1" cy="177.4" r="1.2" fill="#9a3b12"/><circle cx="1312.6" cy="179.4" r="1.2" fill="#9a3b12"/><circle cx="1309.1" cy="211.5" r="1.7" fill="#a8481e"/><circle cx="1305.2" cy="225.0" r="1.4" fill="#9a3b12"/><circle cx="1303.8" cy="241.6" r="1.7" fill="#8a3310"/><circle cx="1307.3" cy="196.7" r="1.7" fill="#8a3310"/><circle cx="1305.6" cy="195.4" r="1.4" fill="#a8481e"/><circle cx="1310.6" cy="235.8" r="1.5" fill="#a8481e"/><circle cx="1308.0" cy="230.3" r="1.4" fill="#8a3310"/><circle cx="1310.6" cy="194.9" r="1.4" fill="#9a3b12"/><circle cx="1308.8" cy="201.8" r="1.8" fill="#a8481e"/><circle cx="1307.5" cy="179.4" r="1.3" fill="#9a3b12"/><circle cx="1310.9" cy="207.8" r="1.8" fill="#a8481e"/><circle cx="1313.3" cy="176.6" r="1.5" fill="#a8481e"/><circle cx="1312.7" cy="229.1" r="1.5" fill="#8a3310"/><circle cx="1309.1" cy="195.5" r="1.5" fill="#8a3310"/><path d="M1302.0 159.7L1315.0 164.7M1302.0 170.6L1315.0 175.6M1302.0 181.5L1315.0 186.5M1302.0 192.4L1315.0 197.4M1302.0 203.3L1315.0 208.3M1302.0 214.2L1315.0 219.2M1302.0 225.1L1315.0 230.1M1302.0 236.0L1315.0 241.0M1302.0 246.9L1315.0 251.9" stroke="#111" stroke-width="2.2" fill="none"/></g><rect x="1303.63" y="175.65" width="9.70" height="65.70" fill="none" stroke="#222" stroke-width="1.3"/><text transform="translate(1298.3,209.1) rotate(-90)" text-anchor="middle" font-family="Liberation Sans" font-weight="bold" font-size="11.8" fill="#000" textLength="41.2" lengthAdjust="spacingAndGlyphs">p1 (0)</text><text transform="translate(1328.0,205.8) rotate(-90)" text-anchor="middle" font-family="Liberation Sans" font-weight="bold" font-size="13.3" fill="#000" textLength="34.0" lengthAdjust="spacingAndGlyphs">W:MB</text>
<clipPath id="k17"><rect x="1302.98" y="310.0" width="11" height="67.30000000000001"/></clipPath><g clip-path="url(#k17)"><rect x="1302.98" y="310.0" width="11" height="67.30000000000001" fill="#f3f3f3"/><circle cx="1312.6" cy="320.1" r="1.8" fill="#2f3a46"/><circle cx="1308.7" cy="360.2" r="1.5" fill="#46525e"/><circle cx="1307.8" cy="365.9" r="1.1" fill="#3a4652"/><circle cx="1307.6" cy="373.3" r="1.3" fill="#3a4652"/><circle cx="1307.0" cy="343.0" r="1.2" fill="#46525e"/><circle cx="1309.3" cy="352.0" r="1.5" fill="#46525e"/><circle cx="1303.7" cy="335.3" r="1.7" fill="#2f3a46"/><circle cx="1308.3" cy="314.6" r="1.3" fill="#46525e"/><circle cx="1306.1" cy="360.7" r="1.6" fill="#2f3a46"/><circle cx="1303.4" cy="353.6" r="1.7" fill="#2f3a46"/><circle cx="1305.3" cy="355.0" r="1.3" fill="#46525e"/><circle cx="1308.8" cy="333.3" r="1.4" fill="#2f3a46"/><circle cx="1307.0" cy="325.8" r="1.7" fill="#2f3a46"/><circle cx="1314.0" cy="332.5" r="1.5" fill="#46525e"/><circle cx="1308.7" cy="359.1" r="1.6" fill="#2f3a46"/><circle cx="1304.9" cy="346.5" r="1.9" fill="#46525e"/><circle cx="1311.4" cy="344.2" r="1.6" fill="#3a4652"/><circle cx="1306.7" cy="347.1" r="1.3" fill="#2f3a46"/><circle cx="1305.4" cy="336.6" r="1.2" fill="#3a4652"/><circle cx="1312.1" cy="353.1" r="1.1" fill="#2f3a46"/><circle cx="1307.8" cy="325.7" r="1.4" fill="#2f3a46"/><circle cx="1313.9" cy="362.0" r="1.2" fill="#2f3a46"/><circle cx="1311.5" cy="313.3" r="1.9" fill="#46525e"/><circle cx="1312.9" cy="355.2" r="1.6" fill="#46525e"/><circle cx="1306.3" cy="334.8" r="1.8" fill="#3a4652"/><circle cx="1309.5" cy="341.4" r="1.1" fill="#3a4652"/><circle cx="1307.4" cy="326.9" r="1.6" fill="#2f3a46"/><circle cx="1306.2" cy="355.4" r="1.4" fill="#46525e"/><circle cx="1304.2" cy="310.9" r="1.5" fill="#46525e"/><circle cx="1307.8" cy="312.0" r="1.7" fill="#3a4652"/><circle cx="1308.3" cy="361.0" r="1.4" fill="#46525e"/><circle cx="1308.2" cy="348.6" r="1.7" fill="#3a4652"/><circle cx="1306.3" cy="326.0" r="1.2" fill="#46525e"/><circle cx="1306.2" cy="316.9" r="1.3" fill="#46525e"/><circle cx="1312.1" cy="355.4" r="1.3" fill="#46525e"/><circle cx="1311.2" cy="364.8" r="1.6" fill="#3a4652"/><circle cx="1303.6" cy="341.2" r="1.5" fill="#2f3a46"/><circle cx="1304.2" cy="315.6" r="1.4" fill="#3a4652"/><circle cx="1308.4" cy="341.7" r="1.8" fill="#3a4652"/><circle cx="1303.9" cy="341.5" r="1.1" fill="#3a4652"/><circle cx="1307.4" cy="361.6" r="1.8" fill="#3a4652"/><circle cx="1308.1" cy="365.0" r="1.4" fill="#46525e"/><circle cx="1303.2" cy="357.4" r="1.8" fill="#3a4652"/><circle cx="1303.4" cy="329.5" r="1.2" fill="#2f3a46"/><path d="M1302.0 304.7L1315.0 309.7M1302.0 315.6L1315.0 320.6M1302.0 326.5L1315.0 331.5M1302.0 337.4L1315.0 342.4M1302.0 348.3L1315.0 353.3M1302.0 359.2L1315.0 364.2M1302.0 370.1L1315.0 375.1M1302.0 381.0L1315.0 386.0" stroke="#111" stroke-width="2.2" fill="none"/></g><rect x="1303.63" y="310.65" width="9.70" height="66.00" fill="none" stroke="#222" stroke-width="1.3"/><text transform="translate(1298.3,344.2) rotate(-90)" text-anchor="middle" font-family="Liberation Sans" font-weight="bold" font-size="11.8" fill="#000" textLength="47.6" lengthAdjust="spacingAndGlyphs">p2 (40)</text><text transform="translate(1328.0,340.9) rotate(-90)" text-anchor="middle" font-family="Liberation Sans" font-weight="bold" font-size="13.3" fill="#000" textLength="31.0" lengthAdjust="spacingAndGlyphs">W:BG</text>
<clipPath id="k18"><rect x="1449.3400000000001" y="175.0" width="11" height="67.0"/></clipPath><g clip-path="url(#k18)"><rect x="1449.3400000000001" y="175.0" width="11" height="67.0" fill="#f6f6f6"/><circle cx="1457.6" cy="233.5" r="1.8" fill="#9a3b12"/><circle cx="1455.3" cy="186.2" r="1.7" fill="#9a3b12"/><circle cx="1453.8" cy="238.5" r="1.2" fill="#a8481e"/><circle cx="1450.5" cy="229.9" r="1.8" fill="#8a3310"/><circle cx="1453.0" cy="234.5" r="1.3" fill="#9a3b12"/><circle cx="1457.9" cy="204.4" r="1.5" fill="#9a3b12"/><circle cx="1451.5" cy="223.5" r="1.7" fill="#8a3310"/><circle cx="1450.1" cy="189.8" r="1.6" fill="#9a3b12"/><circle cx="1450.2" cy="223.0" r="1.4" fill="#8a3310"/><circle cx="1450.0" cy="200.8" r="1.3" fill="#8a3310"/><circle cx="1455.6" cy="205.4" r="1.7" fill="#8a3310"/><circle cx="1456.9" cy="182.3" r="1.8" fill="#a8481e"/><circle cx="1453.5" cy="184.4" r="1.8" fill="#8a3310"/><circle cx="1460.2" cy="204.3" r="1.6" fill="#9a3b12"/><circle cx="1451.3" cy="228.3" r="1.3" fill="#a8481e"/><circle cx="1460.0" cy="189.2" r="1.4" fill="#a8481e"/><circle cx="1456.2" cy="195.7" r="1.5" fill="#a8481e"/><circle cx="1453.3" cy="240.1" r="1.8" fill="#a8481e"/><circle cx="1459.7" cy="237.0" r="1.5" fill="#9a3b12"/><circle cx="1456.7" cy="210.1" r="1.7" fill="#8a3310"/><circle cx="1455.1" cy="191.5" r="1.5" fill="#a8481e"/><circle cx="1452.0" cy="237.0" r="1.7" fill="#a8481e"/><circle cx="1452.8" cy="187.4" r="1.5" fill="#8a3310"/><circle cx="1459.9" cy="241.1" r="1.4" fill="#8a3310"/><circle cx="1451.9" cy="229.4" r="1.5" fill="#a8481e"/><circle cx="1457.7" cy="183.8" r="1.9" fill="#a8481e"/><circle cx="1450.5" cy="210.0" r="1.6" fill="#9a3b12"/><circle cx="1453.0" cy="217.1" r="1.4" fill="#a8481e"/><circle cx="1457.3" cy="200.5" r="1.6" fill="#8a3310"/><circle cx="1457.0" cy="201.1" r="1.4" fill="#9a3b12"/><circle cx="1454.3" cy="222.4" r="1.7" fill="#a8481e"/><circle cx="1455.1" cy="207.2" r="1.1" fill="#8a3310"/><circle cx="1455.4" cy="213.0" r="1.1" fill="#8a3310"/><circle cx="1458.9" cy="209.0" r="1.8" fill="#a8481e"/><circle cx="1453.8" cy="198.0" r="1.4" fill="#a8481e"/><circle cx="1451.7" cy="217.0" r="1.9" fill="#8a3310"/><circle cx="1457.6" cy="209.4" r="1.5" fill="#8a3310"/><circle cx="1459.8" cy="190.5" r="1.8" fill="#a8481e"/><circle cx="1460.2" cy="213.1" r="1.5" fill="#8a3310"/><circle cx="1457.3" cy="220.3" r="1.7" fill="#9a3b12"/><circle cx="1451.9" cy="219.0" r="1.3" fill="#a8481e"/><circle cx="1455.2" cy="225.7" r="1.8" fill="#9a3b12"/><circle cx="1455.1" cy="191.4" r="1.8" fill="#a8481e"/><circle cx="1451.4" cy="208.9" r="1.2" fill="#a8481e"/><path d="M1448.3 161.6L1461.3 166.6M1448.3 172.5L1461.3 177.5M1448.3 183.4L1461.3 188.4M1448.3 194.3L1461.3 199.3M1448.3 205.2L1461.3 210.2M1448.3 216.1L1461.3 221.1M1448.3 227.0L1461.3 232.0M1448.3 237.9L1461.3 242.9" stroke="#111" stroke-width="2.2" fill="none"/></g><rect x="1449.99" y="175.65" width="9.70" height="65.70" fill="none" stroke="#222" stroke-width="1.3"/><text transform="translate(1444.6,209.1) rotate(-90)" text-anchor="middle" font-family="Liberation Sans" font-weight="bold" font-size="11.8" fill="#000" textLength="47.6" lengthAdjust="spacingAndGlyphs">p1 (40)</text><text transform="translate(1474.3,205.8) rotate(-90)" text-anchor="middle" font-family="Liberation Sans" font-weight="bold" font-size="13.3" fill="#000" textLength="34.0" lengthAdjust="spacingAndGlyphs">W:MB</text>
<clipPath id="k19"><rect x="1449.3400000000001" y="310.0" width="11" height="67.30000000000001"/></clipPath><g clip-path="url(#k19)"><rect x="1449.3400000000001" y="310.0" width="11" height="67.30000000000001" fill="#f3f3f3"/><circle cx="1456.3" cy="337.1" r="1.7" fill="#46525e"/><circle cx="1453.4" cy="349.7" r="1.4" fill="#3a4652"/><circle cx="1451.9" cy="330.2" r="1.3" fill="#2f3a46"/><circle cx="1449.5" cy="347.2" r="1.8" fill="#3a4652"/><circle cx="1456.7" cy="324.4" r="1.3" fill="#2f3a46"/><circle cx="1458.8" cy="317.0" r="1.6" fill="#2f3a46"/><circle cx="1451.7" cy="375.0" r="1.4" fill="#46525e"/><circle cx="1459.5" cy="376.9" r="1.5" fill="#46525e"/><circle cx="1455.2" cy="322.1" r="1.2" fill="#46525e"/><circle cx="1452.0" cy="359.3" r="1.4" fill="#3a4652"/><circle cx="1451.7" cy="376.4" r="1.3" fill="#46525e"/><circle cx="1454.6" cy="324.3" r="1.2" fill="#3a4652"/><circle cx="1452.9" cy="361.5" r="1.4" fill="#46525e"/><circle cx="1455.3" cy="319.5" r="1.7" fill="#46525e"/><circle cx="1457.0" cy="328.5" r="1.8" fill="#46525e"/><circle cx="1451.9" cy="313.5" r="1.4" fill="#3a4652"/><circle cx="1457.5" cy="345.7" r="1.7" fill="#3a4652"/><circle cx="1451.8" cy="350.9" r="1.1" fill="#46525e"/><circle cx="1456.4" cy="321.4" r="1.7" fill="#2f3a46"/><circle cx="1457.7" cy="339.4" r="1.1" fill="#46525e"/><circle cx="1455.9" cy="331.5" r="1.4" fill="#46525e"/><circle cx="1455.5" cy="334.8" r="1.4" fill="#46525e"/><circle cx="1450.7" cy="338.1" r="1.2" fill="#2f3a46"/><circle cx="1458.9" cy="320.4" r="1.3" fill="#3a4652"/><circle cx="1458.6" cy="341.4" r="1.1" fill="#3a4652"/><circle cx="1459.5" cy="357.3" r="1.4" fill="#46525e"/><circle cx="1454.1" cy="316.3" r="1.6" fill="#46525e"/><circle cx="1451.7" cy="328.7" r="1.8" fill="#3a4652"/><circle cx="1459.5" cy="319.5" r="1.2" fill="#46525e"/><circle cx="1457.7" cy="328.0" r="1.1" fill="#2f3a46"/><circle cx="1455.2" cy="347.0" r="1.4" fill="#3a4652"/><circle cx="1458.1" cy="327.0" r="1.7" fill="#3a4652"/><circle cx="1458.9" cy="338.3" r="1.5" fill="#3a4652"/><circle cx="1457.1" cy="356.6" r="1.7" fill="#3a4652"/><circle cx="1455.5" cy="328.3" r="1.6" fill="#3a4652"/><circle cx="1453.9" cy="315.2" r="1.6" fill="#2f3a46"/><circle cx="1451.8" cy="341.3" r="1.1" fill="#2f3a46"/><circle cx="1456.8" cy="316.3" r="1.1" fill="#2f3a46"/><circle cx="1450.6" cy="337.9" r="1.7" fill="#3a4652"/><circle cx="1454.8" cy="371.2" r="1.8" fill="#46525e"/><circle cx="1456.0" cy="361.9" r="1.2" fill="#3a4652"/><circle cx="1455.7" cy="350.6" r="1.8" fill="#46525e"/><circle cx="1455.4" cy="339.2" r="1.6" fill="#3a4652"/><circle cx="1450.5" cy="372.4" r="1.8" fill="#46525e"/><path d="M1448.3 299.7L1461.3 304.7M1448.3 310.6L1461.3 315.6M1448.3 321.5L1461.3 326.5M1448.3 332.4L1461.3 337.4M1448.3 343.3L1461.3 348.3M1448.3 354.2L1461.3 359.2M1448.3 365.1L1461.3 370.1M1448.3 376.0L1461.3 381.0" stroke="#111" stroke-width="2.2" fill="none"/></g><rect x="1449.99" y="310.65" width="9.70" height="66.00" fill="none" stroke="#222" stroke-width="1.3"/><text transform="translate(1444.6,344.2) rotate(-90)" text-anchor="middle" font-family="Liberation Sans" font-weight="bold" font-size="11.8" fill="#000" textLength="47.6" lengthAdjust="spacingAndGlyphs">p2 (60)</text><text transform="translate(1474.3,340.9) rotate(-90)" text-anchor="middle" font-family="Liberation Sans" font-weight="bold" font-size="13.3" fill="#000" textLength="31.0" lengthAdjust="spacingAndGlyphs">W:BG</text>
<clipPath id="k20"><rect x="1595.7" y="175.0" width="11" height="67.0"/></clipPath><g clip-path="url(#k20)"><rect x="1595.7" y="175.0" width="11" height="67.0" fill="#f6f6f6"/><circle cx="1606.1" cy="199.9" r="1.6" fill="#9a3b12"/><circle cx="1602.5" cy="202.8" r="1.5" fill="#9a3b12"/><circle cx="1600.4" cy="216.1" r="1.8" fill="#8a3310"/><circle cx="1601.9" cy="184.1" r="1.5" fill="#8a3310"/><circle cx="1606.7" cy="234.2" r="1.1" fill="#a8481e"/><circle cx="1597.3" cy="214.8" r="1.4" fill="#8a3310"/><circle cx="1597.7" cy="227.8" r="1.1" fill="#8a3310"/><circle cx="1601.6" cy="198.5" r="1.6" fill="#a8481e"/><circle cx="1606.1" cy="199.0" r="1.7" fill="#8a3310"/><circle cx="1601.9" cy="194.0" r="1.3" fill="#a8481e"/><circle cx="1599.0" cy="187.9" r="1.8" fill="#8a3310"/><circle cx="1595.9" cy="217.8" r="1.6" fill="#9a3b12"/><circle cx="1599.4" cy="211.9" r="1.7" fill="#8a3310"/><circle cx="1596.9" cy="197.5" r="1.8" fill="#a8481e"/><circle cx="1596.7" cy="189.9" r="1.5" fill="#a8481e"/><circle cx="1596.5" cy="232.2" r="1.2" fill="#a8481e"/><circle cx="1605.7" cy="178.8" r="1.6" fill="#8a3310"/><circle cx="1600.6" cy="210.2" r="1.4" fill="#a8481e"/><circle cx="1606.2" cy="235.5" r="1.2" fill="#a8481e"/><circle cx="1602.5" cy="238.7" r="1.5" fill="#a8481e"/><circle cx="1604.4" cy="198.0" r="1.4" fill="#a8481e"/><circle cx="1598.7" cy="199.9" r="1.8" fill="#8a3310"/><circle cx="1598.6" cy="235.1" r="1.6" fill="#9a3b12"/><circle cx="1599.0" cy="175.1" r="1.6" fill="#9a3b12"/><circle cx="1600.6" cy="194.3" r="1.3" fill="#9a3b12"/><circle cx="1606.0" cy="204.5" r="1.6" fill="#a8481e"/><circle cx="1598.9" cy="225.6" r="1.3" fill="#a8481e"/><circle cx="1596.9" cy="187.3" r="1.7" fill="#a8481e"/><circle cx="1606.2" cy="201.9" r="1.8" fill="#9a3b12"/><circle cx="1605.1" cy="211.4" r="1.6" fill="#9a3b12"/><circle cx="1605.5" cy="187.2" r="1.1" fill="#a8481e"/><circle cx="1600.9" cy="216.5" r="1.5" fill="#8a3310"/><circle cx="1601.1" cy="205.6" r="1.8" fill="#9a3b12"/><circle cx="1606.0" cy="240.1" r="1.2" fill="#a8481e"/><circle cx="1598.1" cy="225.7" r="1.2" fill="#9a3b12"/><circle cx="1598.2" cy="205.2" r="1.3" fill="#8a3310"/><circle cx="1605.2" cy="197.3" r="1.7" fill="#a8481e"/><circle cx="1603.4" cy="226.8" r="1.6" fill="#9a3b12"/><circle cx="1604.9" cy="196.9" r="1.4" fill="#8a3310"/><circle cx="1597.3" cy="238.4" r="1.4" fill="#a8481e"/><circle cx="1602.9" cy="223.9" r="1.4" fill="#8a3310"/><circle cx="1597.8" cy="179.7" r="1.4" fill="#a8481e"/><circle cx="1598.3" cy="181.7" r="1.1" fill="#8a3310"/><circle cx="1599.3" cy="193.6" r="1.4" fill="#9a3b12"/><path d="M1594.7 163.6L1607.7 168.6M1594.7 174.5L1607.7 179.5M1594.7 185.4L1607.7 190.4M1594.7 196.3L1607.7 201.3M1594.7 207.2L1607.7 212.2M1594.7 218.1L1607.7 223.1M1594.7 229.0L1607.7 234.0M1594.7 239.9L1607.7 244.9" stroke="#111" stroke-width="2.2" fill="none"/></g><rect x="1596.35" y="175.65" width="9.70" height="65.70" fill="none" stroke="#222" stroke-width="1.3"/><text transform="translate(1591.0,209.1) rotate(-90)" text-anchor="middle" font-family="Liberation Sans" font-weight="bold" font-size="11.8" fill="#000" textLength="41.2" lengthAdjust="spacingAndGlyphs">p1 (0)</text><text transform="translate(1620.7,205.8) rotate(-90)" text-anchor="middle" font-family="Liberation Sans" font-weight="bold" font-size="13.3" fill="#000" textLength="34.0" lengthAdjust="spacingAndGlyphs">W:MB</text>
<clipPath id="k21"><rect x="1595.7" y="310.0" width="11" height="67.30000000000001"/></clipPath><g clip-path="url(#k21)"><rect x="1595.7" y="310.0" width="11" height="67.30000000000001" fill="#f3f3f3"/><circle cx="1606.4" cy="345.4" r="1.6" fill="#2f3a46"/><circle cx="1595.8" cy="342.4" r="1.5" fill="#2f3a46"/><circle cx="1601.3" cy="333.6" r="1.7" fill="#3a4652"/><circle cx="1597.2" cy="314.6" r="1.1" fill="#3a4652"/><circle cx="1600.3" cy="348.6" r="1.3" fill="#3a4652"/><circle cx="1601.2" cy="329.5" r="1.4" fill="#3a4652"/><circle cx="1604.4" cy="355.7" r="1.8" fill="#3a4652"/><circle cx="1604.2" cy="319.3" r="1.4" fill="#46525e"/><circle cx="1598.2" cy="312.3" r="1.2" fill="#46525e"/><circle cx="1598.5" cy="372.6" r="1.8" fill="#3a4652"/><circle cx="1599.1" cy="331.4" r="1.7" fill="#2f3a46"/><circle cx="1606.4" cy="331.4" r="1.3" fill="#3a4652"/><circle cx="1599.3" cy="345.6" r="1.6" fill="#2f3a46"/><circle cx="1605.5" cy="316.7" r="1.4" fill="#46525e"/><circle cx="1604.5" cy="337.8" r="1.2" fill="#2f3a46"/><circle cx="1596.3" cy="324.6" r="1.6" fill="#2f3a46"/><circle cx="1604.6" cy="349.8" r="1.1" fill="#2f3a46"/><circle cx="1598.9" cy="337.8" r="1.4" fill="#2f3a46"/><circle cx="1604.1" cy="342.7" r="1.4" fill="#3a4652"/><circle cx="1602.6" cy="340.9" r="1.5" fill="#2f3a46"/><circle cx="1602.1" cy="354.8" r="1.9" fill="#46525e"/><circle cx="1605.1" cy="363.5" r="1.9" fill="#3a4652"/><circle cx="1599.1" cy="343.3" r="1.5" fill="#3a4652"/><circle cx="1599.0" cy="322.0" r="1.8" fill="#46525e"/><circle cx="1597.6" cy="318.5" r="1.5" fill="#46525e"/><circle cx="1596.7" cy="377.0" r="1.7" fill="#2f3a46"/><circle cx="1604.1" cy="313.9" r="1.5" fill="#3a4652"/><circle cx="1603.1" cy="337.7" r="1.2" fill="#2f3a46"/><circle cx="1606.1" cy="319.3" r="1.6" fill="#2f3a46"/><circle cx="1599.6" cy="348.4" r="1.3" fill="#2f3a46"/><circle cx="1597.2" cy="353.5" r="1.4" fill="#2f3a46"/><circle cx="1596.6" cy="328.6" r="1.4" fill="#2f3a46"/><circle cx="1595.8" cy="326.1" r="1.4" fill="#46525e"/><circle cx="1596.0" cy="323.8" r="1.7" fill="#2f3a46"/><circle cx="1596.7" cy="329.3" r="1.8" fill="#46525e"/><circle cx="1599.5" cy="312.9" r="1.5" fill="#3a4652"/><circle cx="1598.6" cy="312.1" r="1.6" fill="#2f3a46"/><circle cx="1605.0" cy="361.4" r="1.8" fill="#2f3a46"/><circle cx="1603.0" cy="313.8" r="1.3" fill="#46525e"/><circle cx="1603.4" cy="351.7" r="1.2" fill="#46525e"/><circle cx="1605.2" cy="354.9" r="1.3" fill="#46525e"/><circle cx="1603.3" cy="375.1" r="1.6" fill="#3a4652"/><circle cx="1598.3" cy="370.9" r="1.9" fill="#3a4652"/><circle cx="1599.9" cy="344.2" r="1.4" fill="#46525e"/><path d="M1594.7 304.4L1607.7 309.4M1594.7 315.3L1607.7 320.3M1594.7 326.2L1607.7 331.2M1594.7 337.1L1607.7 342.1M1594.7 348.0L1607.7 353.0M1594.7 358.9L1607.7 363.9M1594.7 369.8L1607.7 374.8M1594.7 380.7L1607.7 385.7" stroke="#111" stroke-width="2.2" fill="none"/></g><rect x="1596.35" y="310.65" width="9.70" height="66.00" fill="none" stroke="#222" stroke-width="1.3"/><text transform="translate(1591.0,344.2) rotate(-90)" text-anchor="middle" font-family="Liberation Sans" font-weight="bold" font-size="11.8" fill="#000" textLength="47.6" lengthAdjust="spacingAndGlyphs">p2 (90)</text><text transform="translate(1620.7,340.9) rotate(-90)" text-anchor="middle" font-family="Liberation Sans" font-weight="bold" font-size="13.3" fill="#000" textLength="31.0" lengthAdjust="spacingAndGlyphs">W:BG</text>
<clipPath id="k22"><rect x="1742.06" y="175.0" width="11" height="67.0"/></clipPath><g clip-path="url(#k22)"><rect x="1742.06" y="175.0" width="11" height="67.0" fill="#4b5662"/><path d="M1741.1 163.9L1754.1 168.9M1741.1 174.8L1754.1 179.8M1741.1 185.7L1754.1 190.7M1741.1 196.6L1754.1 201.6M1741.1 207.5L1754.1 212.5M1741.1 218.4L1754.1 223.4M1741.1 229.3L1754.1 234.3M1741.1 240.2L1754.1 245.2" stroke="#111" stroke-width="2.0" fill="none"/><path transform="translate(0,-1.7)" d="M1741.1 163.9L1754.1 168.9M1741.1 174.8L1754.1 179.8M1741.1 185.7L1754.1 190.7M1741.1 196.6L1754.1 201.6M1741.1 207.5L1754.1 212.5M1741.1 218.4L1754.1 223.4M1741.1 229.3L1754.1 234.3M1741.1 240.2L1754.1 245.2" stroke="#f0f0f0" stroke-width="1.1" fill="none"/></g><rect x="1742.71" y="175.65" width="9.70" height="65.70" fill="none" stroke="#111" stroke-width="1.3"/><text transform="translate(1737.4,209.1) rotate(-90)" text-anchor="middle" font-family="Liberation Sans" font-weight="bold" font-size="11.8" fill="#000" textLength="47.6" lengthAdjust="spacingAndGlyphs">p1 (30)</text><text transform="translate(1767.1,205.8) rotate(-90)" text-anchor="middle" font-family="Liberation Sans" font-weight="bold" font-size="13.3" fill="#000" textLength="17.0" lengthAdjust="spacingAndGlyphs">BG</text>
<clipPath id="k23"><rect x="1742.06" y="310.0" width="11" height="67.30000000000001"/></clipPath><g clip-path="url(#k23)"><rect x="1742.06" y="310.0" width="11" height="67.30000000000001" fill="#4b5662"/><path d="M1741.1 303.9L1754.1 308.9M1741.1 314.8L1754.1 319.8M1741.1 325.7L1754.1 330.7M1741.1 336.6L1754.1 341.6M1741.1 347.5L1754.1 352.5M1741.1 358.4L1754.1 363.4M1741.1 369.3L1754.1 374.3M1741.1 380.2L1754.1 385.2" stroke="#111" stroke-width="2.0" fill="none"/><path transform="translate(0,-1.7)" d="M1741.1 303.9L1754.1 308.9M1741.1 314.8L1754.1 319.8M1741.1 325.7L1754.1 330.7M1741.1 336.6L1754.1 341.6M1741.1 347.5L1754.1 352.5M1741.1 358.4L1754.1 363.4M1741.1 369.3L1754.1 374.3M1741.1 380.2L1754.1 385.2" stroke="#f0f0f0" stroke-width="1.1" fill="none"/></g><rect x="1742.71" y="310.65" width="9.70" height="66.00" fill="none" stroke="#111" stroke-width="1.3"/><text transform="translate(1737.4,344.2) rotate(-90)" text-anchor="middle" font-family="Liberation Sans" font-weight="bold" font-size="11.8" fill="#000" textLength="47.6" lengthAdjust="spacingAndGlyphs">p2 (30)</text><text transform="translate(1767.1,340.9) rotate(-90)" text-anchor="middle" font-family="Liberation Sans" font-weight="bold" font-size="13.3" fill="#000" textLength="17.0" lengthAdjust="spacingAndGlyphs">BG</text>
<rect x="1888.6" y="174.8" width="11" height="67.6" fill="#fbe7e1" stroke="#ddd8ce" stroke-width="1.3"/><text transform="translate(1883.9,209.1) rotate(-90)" text-anchor="middle" font-family="Liberation Sans" font-size="12" fill="#d9d3c9" textLength="39.0" lengthAdjust="spacingAndGlyphs">p1 (0)</text><text transform="translate(1912.5,205.8) rotate(-90)" text-anchor="middle" font-family="Liberation Sans" font-size="12.5" fill="#d9d3c9" textLength="15.5" lengthAdjust="spacingAndGlyphs">PK</text>
<rect x="936.3" y="174.5" width="55.5" height="13.7" fill="#9d95fa" stroke="#111" stroke-width="1.4" fill-opacity="1"/><g transform="translate(942.2,186.3)"><path d="M0 -4.5L4.4 -7.9L4.4 -1.1Z M3.5 -5.35H9.7V-3.65H3.5Z" fill="#fff"/><text x="12.2" y="0" font-family="Liberation Sans" font-weight="bold" font-size="13.5" fill="#fff" textLength="15.5" lengthAdjust="spacingAndGlyphs">p9</text></g>
<rect x="936.3" y="188.2" width="55.5" height="13.7" fill="#72e27c" stroke="#111" stroke-width="1.4" fill-opacity="0.88"/><g transform="translate(942.2,200.0)"><path d="M0 -4.5L4.4 -7.9L4.4 -1.1Z M3.5 -5.35H9.7V-3.65H3.5Z" fill="#000"/><text x="12.2" y="0" font-family="Liberation Sans" font-weight="bold" font-size="13.5" fill="#000" textLength="23.3" lengthAdjust="spacingAndGlyphs">p11</text></g>
<rect x="1082.6" y="174.5" width="55.5" height="13.7" fill="#6c62da" stroke="#111" stroke-width="1.4" fill-opacity="1"/><g transform="translate(1088.5,186.3)"><path d="M0 -4.5L4.4 -7.9L4.4 -1.1Z M3.5 -5.35H9.7V-3.65H3.5Z" fill="#fff"/><text x="12.2" y="0" font-family="Liberation Sans" font-weight="bold" font-size="13.5" fill="#fff" textLength="15.3" lengthAdjust="spacingAndGlyphs">p3</text></g>
<rect x="1668.1" y="174.5" width="55.5" height="13.7" fill="#cd7f32" stroke="#111" stroke-width="1.4" fill-opacity="1"/><g transform="translate(1674.0,186.3)"><path d="M0 -4.5L4.4 -7.9L4.4 -1.1Z M3.5 -5.35H9.7V-3.65H3.5Z" fill="#fff"/><text x="12.2" y="0" font-family="Liberation Sans" font-weight="bold" font-size="13.5" fill="#fff" textLength="23.3" lengthAdjust="spacingAndGlyphs">p19</text></g>
<circle cx="329.1" cy="315.6" r="3.2" fill="#3a2ee0" stroke="#000" stroke-width="1.4"/>
<circle cx="768.9" cy="315.6" r="3.2" fill="#8a86f2" stroke="#000" stroke-width="1.4"/>
<circle cx="914.9" cy="315.6" r="3.2" fill="#44dd44" stroke="#000" stroke-width="1.4"/>
<circle cx="1499.5" cy="315.6" r="3.2" fill="#c8650f" stroke="#000" stroke-width="1.4"/>
<circle cx="930.4" cy="181.8" r="3.2" fill="#8a86f2" stroke="#000" stroke-width="1.4"/>
<circle cx="930.4" cy="194.7" r="3.2" fill="#44dd44" stroke="#000" stroke-width="1.4"/>
<circle cx="1076.5" cy="181.5" r="3.2" fill="#3a2ee0" stroke="#000" stroke-width="1.4"/>
<circle cx="1662.0" cy="181.4" r="3.2" fill="#c8650f" stroke="#000" stroke-width="1.4"/>
</svg>
</body></html>
